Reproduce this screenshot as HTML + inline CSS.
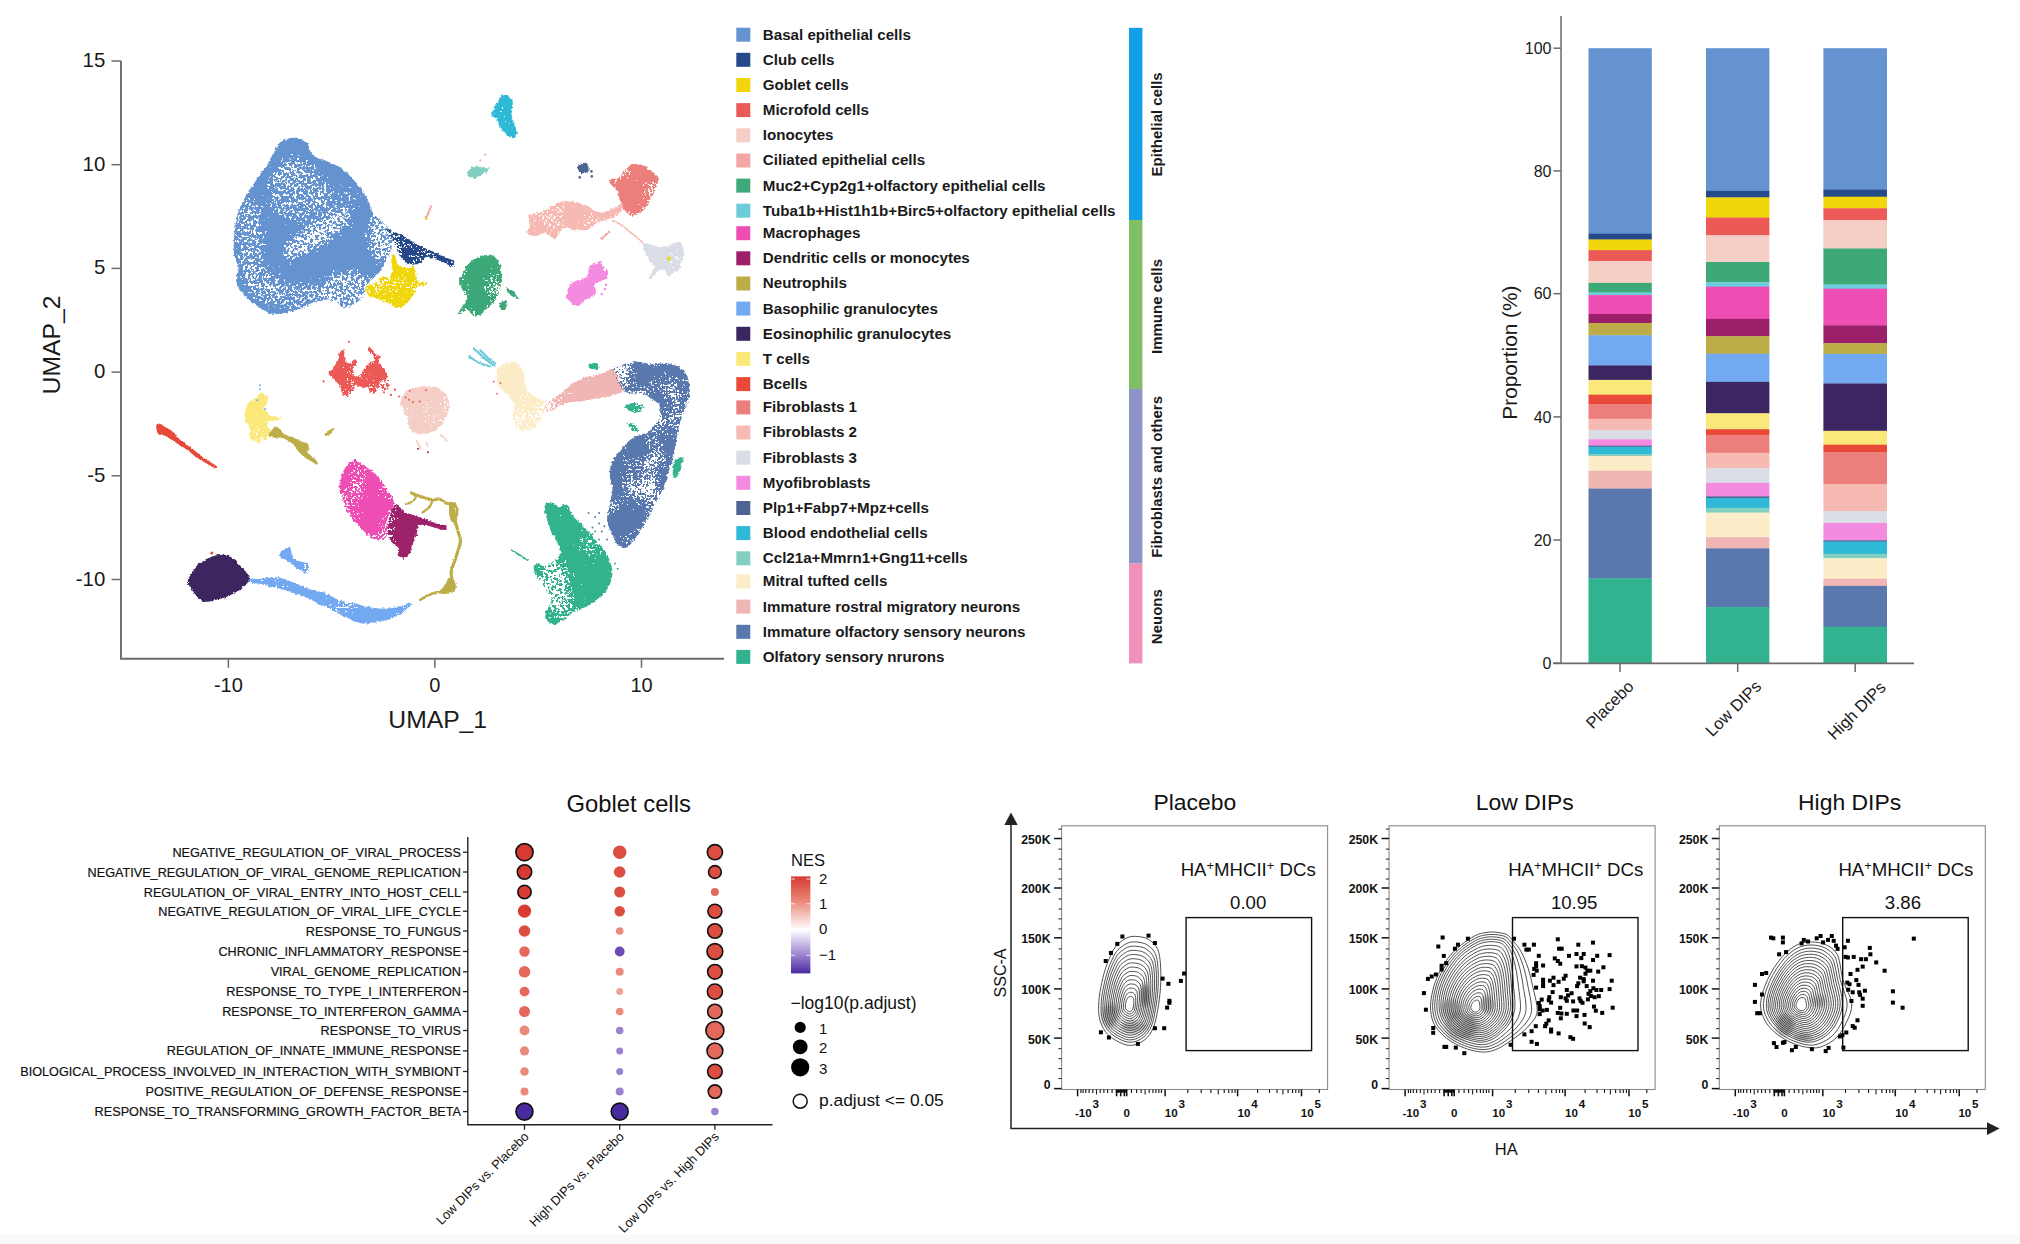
<!DOCTYPE html>
<html><head><meta charset="utf-8"><title>Figure</title>
<style>html,body{margin:0;padding:0;background:#fff}svg{display:block}text{font-family:"Liberation Sans",Arial,Helvetica,sans-serif}</style>
</head><body>
<svg width="2020" height="1244" viewBox="0 0 2020 1244">
<rect width="2020" height="1244" fill="#fff"/>
<rect y="1234" width="2020" height="10" fill="#f9f9f9"/>
<defs>
<filter id="rough" x="-20%" y="-20%" width="140%" height="140%"><feTurbulence type="fractalNoise" baseFrequency="0.35" numOctaves="2" seed="3" result="n"/><feDisplacementMap in="SourceGraphic" in2="n" scale="4" xChannelSelector="R" yChannelSelector="G"/></filter>
<filter id="rough2" x="-30%" y="-30%" width="160%" height="160%"><feTurbulence type="fractalNoise" baseFrequency="0.5" numOctaves="2" seed="5" result="n"/><feDisplacementMap in="SourceGraphic" in2="n" scale="2.5" xChannelSelector="R" yChannelSelector="G"/></filter>
<filter id="roughS" x="-10%" y="-10%" width="120%" height="120%"><feTurbulence type="fractalNoise" baseFrequency="0.35" numOctaves="2" seed="3" result="n"/><feDisplacementMap in="SourceGraphic" in2="n" scale="4" xChannelSelector="R" yChannelSelector="G" result="d"/><feTurbulence type="fractalNoise" baseFrequency="0.45" numOctaves="2" seed="11" result="n1"/><feTurbulence type="fractalNoise" baseFrequency="0.03" numOctaves="2" seed="4" result="n2"/><feComposite in="n1" in2="n2" operator="arithmetic" k1="1" k2="0" k3="0" k4="0" result="p"/><feColorMatrix in="p" type="matrix" values="0 0 0 0 0  0 0 0 0 0  0 0 0 0 0  60 0 0 0 -19.6" result="holes"/><feComposite in="d" in2="holes" operator="out"/></filter>
<filter id="roughH" x="-10%" y="-10%" width="120%" height="120%"><feTurbulence type="fractalNoise" baseFrequency="0.35" numOctaves="2" seed="3" result="n"/><feDisplacementMap in="SourceGraphic" in2="n" scale="4" xChannelSelector="R" yChannelSelector="G" result="d"/><feTurbulence type="fractalNoise" baseFrequency="0.45" numOctaves="2" seed="21" result="n1"/><feTurbulence type="fractalNoise" baseFrequency="0.03" numOctaves="2" seed="24" result="n2"/><feComposite in="n1" in2="n2" operator="arithmetic" k1="1" k2="0" k3="0" k4="0" result="p"/><feColorMatrix in="p" type="matrix" values="0 0 0 0 0  0 0 0 0 0  0 0 0 0 0  60 0 0 0 -15.5" result="holes"/><feComposite in="d" in2="holes" operator="out"/></filter>
<filter id="roughT" x="-10%" y="-10%" width="120%" height="120%"><feTurbulence type="fractalNoise" baseFrequency="0.35" numOctaves="2" seed="3" result="n"/><feDisplacementMap in="SourceGraphic" in2="n" scale="4" xChannelSelector="R" yChannelSelector="G" result="d"/><feTurbulence type="fractalNoise" baseFrequency="0.45" numOctaves="2" seed="31" result="n1"/><feTurbulence type="fractalNoise" baseFrequency="0.03" numOctaves="2" seed="34" result="n2"/><feComposite in="n1" in2="n2" operator="arithmetic" k1="1" k2="0" k3="0" k4="0" result="p"/><feColorMatrix in="p" type="matrix" values="0 0 0 0 0  0 0 0 0 0  0 0 0 0 0  60 0 0 0 -22.5" result="holes"/><feComposite in="d" in2="holes" operator="out"/></filter>
<filter id="speck" x="-20%" y="-20%" width="140%" height="140%" filterUnits="objectBoundingBox"><feGaussianBlur in="SourceAlpha" stdDeviation="5" result="b"/><feTurbulence type="fractalNoise" baseFrequency="0.37" numOctaves="3" seed="8" result="n1"/><feComposite in="n1" in2="b" operator="arithmetic" k1="1" k2="0" k3="0" k4="0" result="p"/><feColorMatrix in="p" type="matrix" values="0 0 0 0 0  0 0 0 0 0  0 0 0 0 0  0 0 0 40 -17.5"/></filter>
<mask id="mBasal" maskUnits="userSpaceOnUse" x="220" y="120" width="200" height="210"><rect x="220" y="120" width="200" height="210" fill="#fff"/><g filter="url(#speck)" fill="#000">
<rect x="225" y="125" width="190" height="200" opacity="0.5"/>
<ellipse cx="316" cy="235" rx="42" ry="12" transform="rotate(-33 316 235)" opacity="0.92"/>
<ellipse cx="296" cy="190" rx="30" ry="34" opacity="0.54"/>
<ellipse cx="287" cy="178" rx="12" ry="12" opacity="0.4"/>
<ellipse cx="250" cy="240" rx="15" ry="44" opacity="0.62"/>
<ellipse cx="348" cy="290" rx="28" ry="20" opacity="0.72"/>
<ellipse cx="298" cy="296" rx="40" ry="14" opacity="0.58"/>
<ellipse cx="382" cy="236" rx="15" ry="28" opacity="0.85"/>
<ellipse cx="262" cy="283" rx="20" ry="16" opacity="0.55"/>
<ellipse cx="335" cy="200" rx="26" ry="16" opacity="0.4"/>
</g></mask>
<mask id="mOsn" maskUnits="userSpaceOnUse" x="520" y="490" width="110" height="150"><rect x="520" y="490" width="110" height="150" fill="#fff"/><g filter="url(#speck)" fill="#000">
<rect x="525" y="495" width="100" height="140" opacity="0.55"/>
<ellipse cx="553" cy="586" rx="17" ry="27" opacity="0.95"/>
<ellipse cx="560" cy="600" rx="12" ry="16" opacity="0.6"/>
<ellipse cx="590" cy="545" rx="10" ry="14" opacity="0.5"/>
<ellipse cx="575" cy="615" rx="18" ry="8" opacity="0.5"/>
</g></mask>
<filter id="blur2"><feGaussianBlur stdDeviation="2.2"/></filter>
<linearGradient id="nes" x1="0" y1="0" x2="0" y2="1"><stop offset="0" stop-color="#d73a31"/><stop offset="0.25" stop-color="#ea8777"/><stop offset="0.55" stop-color="#ffffff"/><stop offset="0.78" stop-color="#a892d6"/><stop offset="1" stop-color="#4a2aa0"/></linearGradient>
</defs>
<path d="M121.0,61 V658.8 H724" fill="none" stroke="#6b6b6b" stroke-width="1.9"/>
<line x1="111.5" x2="121.0" y1="61" y2="61" stroke="#6b6b6b" stroke-width="1.5"/>
<text x="105.3" y="67.0" text-anchor="end" font-size="20.4" fill="#1a1a1a">15</text>
<line x1="111.5" x2="121.0" y1="164.7" y2="164.7" stroke="#6b6b6b" stroke-width="1.5"/>
<text x="105.3" y="170.7" text-anchor="end" font-size="20.4" fill="#1a1a1a">10</text>
<line x1="111.5" x2="121.0" y1="268.4" y2="268.4" stroke="#6b6b6b" stroke-width="1.5"/>
<text x="105.3" y="274.4" text-anchor="end" font-size="20.4" fill="#1a1a1a">5</text>
<line x1="111.5" x2="121.0" y1="372.1" y2="372.1" stroke="#6b6b6b" stroke-width="1.5"/>
<text x="105.3" y="378.1" text-anchor="end" font-size="20.4" fill="#1a1a1a">0</text>
<line x1="111.5" x2="121.0" y1="475.8" y2="475.8" stroke="#6b6b6b" stroke-width="1.5"/>
<text x="105.3" y="481.8" text-anchor="end" font-size="20.4" fill="#1a1a1a">-5</text>
<line x1="111.5" x2="121.0" y1="579.5" y2="579.5" stroke="#6b6b6b" stroke-width="1.5"/>
<text x="105.3" y="585.5" text-anchor="end" font-size="20.4" fill="#1a1a1a">-10</text>
<line x1="228.4" x2="228.4" y1="658.8" y2="667.8" stroke="#6b6b6b" stroke-width="1.5"/>
<text x="228.4" y="692" text-anchor="middle" font-size="20" fill="#1a1a1a">-10</text>
<line x1="434.8" x2="434.8" y1="658.8" y2="667.8" stroke="#6b6b6b" stroke-width="1.5"/>
<text x="434.8" y="692" text-anchor="middle" font-size="20" fill="#1a1a1a">0</text>
<line x1="641.5" x2="641.5" y1="658.8" y2="667.8" stroke="#6b6b6b" stroke-width="1.5"/>
<text x="641.5" y="692" text-anchor="middle" font-size="20" fill="#1a1a1a">10</text>
<text x="437.7" y="728" text-anchor="middle" font-size="24.7" fill="#1a1a1a">UMAP_1</text>
<text transform="translate(60.2,345) rotate(-90)" text-anchor="middle" font-size="24.7" fill="#1a1a1a">UMAP_2</text>
<g><path d="M280.1,142.9C283.1,140.8 288.7,138.0 293.0,137.8C297.2,137.5 302.4,138.6 305.8,141.6C309.2,144.6 310.1,152.6 313.5,155.8C317.0,159.0 321.7,158.8 326.4,160.9C331.1,163.1 336.7,164.8 341.8,168.6C347.0,172.5 353.0,178.9 357.3,184.1C361.6,189.2 365.0,194.8 367.6,199.5C370.1,204.2 370.1,208.5 372.7,212.4C375.3,216.2 379.6,218.8 383.0,222.7C386.4,226.5 392.0,230.8 393.3,235.5C394.6,240.2 392.4,245.8 390.7,251.0C389.0,256.1 385.1,262.5 383.0,266.4C380.9,270.3 380.4,271.1 377.8,274.1C375.3,277.1 370.1,280.5 367.6,284.4C365.0,288.3 365.8,293.4 362.4,297.3C359.0,301.1 352.1,307.1 347.0,307.6C341.8,308.0 336.7,300.7 331.5,299.8C326.4,299.0 322.1,300.7 316.1,302.4C310.1,304.1 302.4,308.2 295.5,310.1C288.7,312.1 280.9,314.4 274.9,314.0C268.9,313.6 264.7,310.8 259.5,307.6C254.4,304.3 247.9,299.0 244.1,294.7C240.2,290.4 237.4,286.5 236.4,281.8C235.3,277.1 238.1,271.5 237.6,266.4C237.2,261.3 234.0,258.7 233.8,251.0C233.6,243.2 234.2,229.5 236.4,220.1C238.5,210.7 241.9,202.9 246.6,194.4C251.4,185.8 259.9,175.9 264.7,168.6C269.4,161.3 272.4,154.9 274.9,150.6C277.5,146.3 277.1,145.1 280.1,142.9Z" fill="#6593d0" filter="url(#rough)" mask="url(#mBasal)"/>
<path d="M386.0,228.7C386.3,227.4 391.2,230.4 394.3,231.8C397.5,233.2 401.3,235.1 404.8,237.0C408.3,238.9 411.7,241.4 415.2,243.3C418.7,245.2 422.2,246.9 425.7,248.5C429.2,250.1 433.0,251.3 436.1,252.7C439.3,254.1 441.5,255.5 444.5,256.9C447.4,258.3 452.4,259.4 453.9,261.0C455.4,262.7 454.9,266.4 453.4,266.8C451.8,267.1 447.7,264.5 444.5,263.1C441.3,261.7 437.2,259.4 434.0,258.4C430.9,257.5 427.9,256.6 425.7,257.4C423.4,258.2 422.5,261.9 420.5,263.1C418.4,264.4 415.4,264.7 413.1,264.7C410.9,264.7 408.8,264.3 406.9,263.1C405.0,262.0 403.2,260.0 401.6,257.9C400.1,255.8 399.0,253.7 397.5,250.6C395.9,247.5 394.2,242.8 392.2,239.1C390.3,235.4 385.6,229.9 386.0,228.7Z" fill="#254a8a" filter="url(#roughS)" />
<path d="M394.3,254.8C395.5,255.5 396.4,263.1 398.5,265.2C400.6,267.3 404.4,267.1 406.9,267.3C409.3,267.5 411.6,265.2 413.1,266.3C414.7,267.3 415.6,271.1 416.3,273.6C417.0,276.0 415.6,279.5 417.3,280.9C419.1,282.3 425.3,281.2 426.7,281.9C428.1,282.6 427.2,284.2 425.7,285.1C424.1,285.9 419.4,285.4 417.3,287.2C415.2,288.9 415.2,292.6 413.1,295.5C411.0,298.5 407.6,303.0 404.8,304.9C402.0,306.8 399.4,307.4 396.4,307.0C393.5,306.7 390.3,304.2 387.0,302.8C383.7,301.4 379.9,300.1 376.6,298.7C373.3,297.3 368.9,296.4 367.2,294.5C365.4,292.6 364.9,289.3 366.1,287.2C367.3,285.1 371.9,283.7 374.5,281.9C377.1,280.2 379.4,277.4 381.8,276.7C384.2,276.0 387.4,279.0 389.1,277.8C390.8,276.5 391.9,272.2 392.2,269.4C392.6,266.6 390.8,263.5 391.2,261.0C391.5,258.6 393.1,254.1 394.3,254.8Z" fill="#f0d60a" filter="url(#roughT)" />
<path d="M504.4,95.1C506.2,94.6 508.0,95.7 509.4,97.1C510.8,98.4 512.5,100.3 512.8,103.1C513.2,106.0 511.2,110.6 511.4,114.2C511.7,117.7 513.5,121.0 514.4,124.2C515.3,127.4 516.8,131.0 516.8,133.2C516.8,135.5 515.7,137.3 514.4,137.9C513.2,138.4 511.3,137.8 509.4,136.7C507.6,135.6 505.1,132.8 503.4,131.2C501.7,129.7 500.4,129.1 499.4,127.2C498.4,125.4 498.7,122.2 497.4,120.2C496.0,118.2 491.8,117.2 491.3,115.2C490.8,113.2 493.2,110.6 494.3,108.1C495.5,105.6 496.7,102.3 498.4,100.1C500.0,97.9 502.5,95.6 504.4,95.1Z" fill="#2fb9d6" filter="url(#roughT)" />
<path d="M467.2,174.4C467.0,172.9 468.7,169.9 470.2,168.4C471.7,166.9 474.2,165.6 476.3,165.4C478.3,165.2 480.3,167.1 482.3,167.4C484.2,167.7 487.1,166.7 487.9,167.4C488.7,168.1 488.2,170.2 487.3,171.4C486.4,172.6 484.0,173.4 482.3,174.4C480.6,175.4 479.1,176.9 477.3,177.4C475.4,178.0 472.9,178.4 471.2,177.9C469.6,177.3 467.4,176.0 467.2,174.4Z" fill="#82cfc1" filter="url(#rough)" />
<path d="M577.7,166.4C578.1,165.2 579.4,165.0 580.7,164.4C582.1,163.8 584.5,162.4 585.8,162.8C587.0,163.1 588.0,165.0 588.4,166.4C588.7,167.8 588.7,170.2 587.8,171.4C586.8,172.6 584.3,173.4 582.7,173.4C581.2,173.4 579.6,172.6 578.7,171.4C577.9,170.2 577.4,167.6 577.7,166.4Z" fill="#4d6393" filter="url(#rough)" />
<circle cx="579.7" cy="177.4" r="1.3" fill="#4d6393"/>
<circle cx="591.8" cy="176.4" r="1.3" fill="#4d6393"/>
<circle cx="591.4" cy="171.4" r="1.3" fill="#4d6393"/>
<path d="M608.9,180.5C609.4,179.1 613.9,179.5 615.9,178.5C617.9,177.4 618.7,176.4 620.9,174.4C623.1,172.4 626.4,168.1 629.0,166.4C631.5,164.7 633.3,164.0 636.0,164.0C638.7,164.0 642.0,164.8 645.0,166.4C648.0,168.0 651.8,171.4 654.1,173.4C656.4,175.4 658.4,175.9 658.7,178.5C659.0,181.0 657.4,185.2 656.1,188.5C654.8,191.8 652.6,195.5 651.1,198.5C649.6,201.6 649.1,204.1 647.0,206.6C645.0,209.1 641.7,212.1 639.0,213.6C636.3,215.1 633.3,216.1 631.0,215.6C628.6,215.1 626.6,212.8 624.9,210.6C623.3,208.4 622.1,205.1 620.9,202.6C619.8,200.1 618.6,197.7 617.9,195.5C617.2,193.4 617.7,191.0 616.9,189.5C616.1,188.0 614.2,188.0 612.9,186.5C611.5,185.0 608.4,181.8 608.9,180.5Z" fill="#ec7f7c" filter="url(#roughT)" />
<path d="M528.5,216.6C529.0,215.5 530.5,214.5 532.5,213.6C534.5,212.8 537.9,212.4 540.6,211.6C543.2,210.8 545.9,209.9 548.6,208.6C551.3,207.3 553.9,204.8 556.6,203.6C559.3,202.3 562.0,201.5 564.7,201.2C567.3,200.8 570.0,201.2 572.7,201.6C575.4,202.0 578.1,202.7 580.7,203.6C583.4,204.4 586.4,205.4 588.8,206.6C591.1,207.8 592.8,209.6 594.8,210.6C596.8,211.6 598.5,212.6 600.8,212.6C603.2,212.6 606.2,211.6 608.9,210.6C611.5,209.6 614.9,207.8 616.9,206.6C618.9,205.4 619.9,203.2 620.9,203.6C621.9,203.9 623.3,206.9 622.9,208.6C622.6,210.3 620.6,212.1 618.9,213.6C617.2,215.1 615.2,216.5 612.9,217.6C610.5,218.8 607.5,219.6 604.9,220.6C602.2,221.7 599.2,222.5 596.8,223.7C594.5,224.8 593.5,226.6 590.8,227.7C588.1,228.8 583.8,230.0 580.7,230.3C577.7,230.6 575.0,230.1 572.7,229.7C570.4,229.3 568.7,227.5 566.7,227.7C564.7,227.8 562.0,229.4 560.6,230.7C559.3,232.0 560.0,234.4 558.6,235.7C557.3,237.1 554.3,238.9 552.6,238.7C550.9,238.6 549.9,235.7 548.6,234.7C547.3,233.7 546.6,232.5 544.6,232.7C542.6,232.9 539.2,235.4 536.5,235.7C533.9,236.1 530.0,235.5 528.5,234.7C527.0,233.9 527.2,232.2 527.5,230.7C527.8,229.2 530.2,227.3 530.5,225.7C530.8,224.0 529.8,222.2 529.5,220.6C529.2,219.1 528.0,217.8 528.5,216.6Z" fill="#f7bab3" filter="url(#roughT)" />
<path d="M612.9,220.6C614.2,221.3 617.9,222.7 620.9,224.7C623.9,226.7 627.3,229.7 631.0,232.7C634.7,235.7 641.0,241.1 643.0,242.7" fill="none" stroke="#f7bab3" stroke-width="1.6" stroke-linecap="round" stroke-linejoin="round" filter="url(#rough2)"/>
<path d="M601.8,238.7 L608.9,231.7" fill="none" stroke="#f4a6a6" stroke-width="2.2" stroke-linecap="round" stroke-linejoin="round" filter="url(#rough2)"/>
<path d="M643.0,243.8C643.9,242.4 648.4,244.3 651.1,244.8C653.7,245.3 656.1,246.6 659.1,246.8C662.1,246.9 666.5,246.6 669.1,245.8C671.8,244.9 673.2,242.2 675.2,241.7C677.2,241.2 679.8,241.2 681.2,242.7C682.6,244.3 683.4,247.8 683.6,250.8C683.8,253.8 682.9,257.8 682.2,260.8C681.5,263.8 680.7,266.9 679.2,268.9C677.7,270.9 674.8,271.7 673.2,272.9C671.5,274.1 670.7,276.4 669.1,275.9C667.6,275.4 666.0,270.7 664.1,269.9C662.3,269.0 659.9,269.7 658.1,270.9C656.3,272.1 654.6,275.6 653.1,276.9C651.6,278.2 649.4,279.6 649.1,278.9C648.7,278.2 650.1,274.9 651.1,272.9C652.1,270.9 655.4,268.9 655.1,266.9C654.7,264.9 650.6,263.2 649.1,260.8C647.5,258.5 647.0,255.6 646.0,252.8C645.0,249.9 642.2,245.1 643.0,243.8Z" fill="#dadde6" filter="url(#roughT)" />
<rect x="667.5" y="256.4" width="3" height="4" fill="#f0d60a"/>
<path d="M566.7,297.0C566.5,294.7 567.7,289.5 568.7,287.0C569.7,284.4 570.7,283.1 572.7,281.9C574.7,280.8 578.2,280.9 580.7,279.9C583.3,278.9 586.4,278.1 587.8,275.9C589.1,273.7 587.6,268.9 588.8,266.9C589.9,264.9 592.8,264.9 594.8,263.8C596.8,262.8 599.5,260.3 600.8,260.8C602.2,261.3 601.7,265.2 602.8,266.9C604.0,268.5 607.2,269.0 607.9,270.9C608.5,272.7 608.0,276.2 606.9,277.9C605.7,279.6 602.8,279.8 600.8,280.9C598.8,282.1 595.6,282.9 594.8,284.9C594.0,287.0 596.5,291.0 595.8,293.0C595.1,295.0 592.6,295.8 590.8,297.0C588.9,298.2 586.8,298.5 584.8,300.0C582.7,301.5 580.4,305.0 578.7,306.0C577.1,307.0 576.2,306.9 574.7,306.0C573.2,305.2 571.0,302.5 569.7,301.0C568.3,299.5 566.8,299.3 566.7,297.0Z" fill="#f58be0" filter="url(#roughT)" />
<circle cx="604.9" cy="289.0" r="1.2" fill="#f58be0"/>
<circle cx="601.8" cy="294.0" r="1.2" fill="#f58be0"/>
<circle cx="605.9" cy="284.9" r="1.2" fill="#f58be0"/>
<path d="M458.2,314.1C457.8,313.1 461.7,307.5 463.2,305.0C464.7,302.5 467.0,301.0 467.2,299.0C467.4,297.0 465.4,295.3 464.2,293.0C463.0,290.6 461.0,287.3 460.2,284.9C459.3,282.6 458.7,280.9 459.2,278.9C459.7,276.9 461.9,275.2 463.2,272.9C464.5,270.5 465.5,267.0 467.2,264.9C468.9,262.7 471.1,261.2 473.2,259.8C475.4,258.5 477.4,257.7 480.3,256.8C483.1,256.0 487.6,254.5 490.3,254.8C493.0,255.1 494.7,256.8 496.4,258.8C498.0,260.8 499.5,263.8 500.4,266.9C501.2,269.9 501.4,273.6 501.4,276.9C501.4,280.3 501.0,283.8 500.4,287.0C499.7,290.1 498.5,293.3 497.4,296.0C496.2,298.7 495.2,300.8 493.3,303.0C491.5,305.2 488.5,307.0 486.3,309.1C484.1,311.1 482.5,313.9 480.3,315.1C478.1,316.3 475.1,316.8 473.2,316.1C471.4,315.4 470.6,311.9 469.2,311.1C467.9,310.2 467.0,310.6 465.2,311.1C463.4,311.6 458.5,315.1 458.2,314.1Z" fill="#3da878" filter="url(#roughT)" />
<path d="M506.4,288.0C506.9,287.5 509.9,289.0 511.4,290.0C512.9,291.0 514.3,292.5 515.4,294.0C516.5,295.5 518.4,298.5 518.1,299.0C517.7,299.5 515.0,298.0 513.4,297.0C511.8,296.0 509.6,294.5 508.4,293.0C507.2,291.5 505.9,288.5 506.4,288.0Z" fill="#3da878" filter="url(#rough)" />
<path d="M499.4,303.0C500.2,301.9 504.1,300.7 505.4,301.0C506.7,301.4 507.6,303.5 507.4,305.0C507.2,306.5 505.6,309.6 504.4,310.1C503.2,310.6 501.2,309.2 500.4,308.0C499.5,306.9 498.5,304.2 499.4,303.0Z" fill="#3da878" filter="url(#rough)" />
<path d="M426.0,218.6 L431.1,206.2" fill="none" stroke="#f4a6a6" stroke-width="2.0" stroke-linecap="round" stroke-linejoin="round" filter="url(#rough2)"/>
<circle cx="426.0" cy="218.6" r="1.3" fill="#f0d60a"/>
<circle cx="480.3" cy="160.4" r="1.1" fill="#f4a6a6"/>
<circle cx="485.3" cy="154.7" r="1.1" fill="#f4a6a6"/>
<path d="M156.2,425.9C156.4,424.2 157.7,423.2 159.2,423.4C160.7,423.5 162.8,425.5 165.1,426.9C167.5,428.3 170.8,429.9 173.1,431.9C175.4,433.9 176.7,436.7 179.0,438.8C181.3,441.0 184.3,442.8 186.9,444.8C189.6,446.7 191.9,448.4 194.9,450.7C197.8,453.0 201.1,456.0 204.8,458.6C208.4,461.2 215.0,464.6 216.6,466.1C218.3,467.7 216.3,468.5 214.7,468.1C213.0,467.7 209.7,465.3 206.7,463.6C203.8,461.8 200.1,459.9 196.8,457.6C193.5,455.3 189.9,451.8 186.9,449.7C184.0,447.6 181.3,446.2 179.0,444.8C176.7,443.3 175.4,442.3 173.1,440.8C170.8,439.3 167.6,437.0 165.1,435.8C162.7,434.7 159.7,435.5 158.2,433.9C156.7,432.2 156.1,427.7 156.2,425.9Z" fill="#e94a37" filter="url(#rough2)" />
<path d="M244.4,417.0C244.4,414.4 245.3,409.8 246.3,407.1C247.3,404.5 248.6,402.7 250.3,401.2C251.9,399.7 254.8,399.5 256.2,398.2C257.7,396.9 257.7,393.9 259.2,393.3C260.7,392.6 263.7,393.3 265.1,394.3C266.6,395.2 268.0,397.4 268.1,399.2C268.3,401.0 266.8,403.7 266.1,405.1C265.5,406.6 263.7,406.5 264.2,408.1C264.7,409.8 267.3,413.6 269.1,415.0C270.9,416.5 272.9,416.6 275.0,417.0C277.2,417.4 281.5,416.9 282.0,417.4C282.5,417.9 280.0,419.4 278.0,420.0C276.0,420.6 271.9,420.2 270.1,421.0C268.3,421.8 267.1,423.3 267.1,425.0C267.1,426.6 269.9,428.9 270.1,430.9C270.3,432.9 269.1,435.2 268.1,436.8C267.1,438.5 265.8,439.8 264.2,440.8C262.5,441.8 260.2,442.8 258.2,442.8C256.2,442.8 253.9,442.1 252.3,440.8C250.6,439.5 248.6,436.8 248.3,434.9C248.0,432.9 250.6,430.9 250.3,428.9C250.0,426.9 247.3,425.0 246.3,423.0C245.3,421.0 244.4,419.7 244.4,417.0Z" fill="#fbe87a" filter="url(#roughT)" />
<path d="M269.1,433.9C269.9,432.2 273.2,427.8 275.0,426.9C276.9,426.1 278.5,427.8 280.0,428.9C281.5,430.1 282.0,432.5 284.0,433.9C285.9,435.2 289.2,435.7 291.9,436.8C294.5,438.0 297.2,439.6 299.8,440.8C302.4,441.9 306.2,442.4 307.7,443.8C309.2,445.1 308.7,447.2 308.7,448.7C308.7,450.2 306.9,451.2 307.7,452.7C308.5,454.2 312.0,456.0 313.7,457.6C315.3,459.3 317.1,461.4 317.6,462.6C318.1,463.7 318.0,464.9 316.6,464.6C315.3,464.2 311.8,461.9 309.7,460.6C307.6,459.3 305.7,458.3 303.8,456.6C301.8,455.0 299.5,452.7 297.8,450.7C296.2,448.7 295.5,446.4 293.9,444.8C292.2,443.1 289.9,441.9 287.9,440.8C285.9,439.6 284.0,438.3 282.0,437.8C280.0,437.3 278.0,438.0 276.0,437.8C274.1,437.7 271.3,437.5 270.1,436.8C268.9,436.2 268.3,435.5 269.1,433.9Z" fill="#bdad48" filter="url(#rough2)" />
<path d="M324.6,433.9C325.0,432.9 327.9,430.8 329.5,429.9C331.2,429.0 334.1,428.0 334.5,428.5C334.8,429.0 332.8,431.7 331.5,432.9C330.2,434.1 327.7,435.7 326.5,435.8C325.4,436.0 324.1,434.9 324.6,433.9Z" fill="#bdad48" filter="url(#rough2)" />
<path d="M328.5,371.5C329.0,370.0 332.0,369.5 333.5,367.5C335.0,365.5 336.3,362.2 337.4,359.6C338.6,357.0 339.2,353.2 340.4,351.7C341.6,350.2 343.7,349.7 344.4,350.7C345.0,351.7 343.5,355.5 344.4,357.6C345.2,359.8 347.7,363.2 349.3,363.6C351.0,363.9 352.9,359.8 354.3,359.6C355.6,359.4 357.4,360.9 357.2,362.6C357.1,364.2 353.8,367.0 353.3,369.5C352.8,372.0 353.9,374.8 354.3,377.4C354.6,380.1 355.7,382.7 355.2,385.3C354.8,388.0 352.6,391.3 351.3,393.3C350.0,395.2 348.8,397.2 347.3,397.2C345.8,397.2 343.7,395.2 342.4,393.3C341.1,391.3 340.7,387.7 339.4,385.3C338.1,383.0 335.9,380.9 334.5,379.4C333.0,377.9 331.5,377.8 330.5,376.4C329.5,375.1 328.0,373.0 328.5,371.5Z" fill="#ec5a58" filter="url(#roughS)" />
<path d="M361.2,373.5C362.5,371.5 363.8,369.3 365.1,367.5C366.5,365.7 367.5,363.7 369.1,362.6C370.8,361.4 374.4,361.7 375.0,360.6C375.7,359.4 374.2,357.5 373.1,355.6C371.9,353.8 368.6,351.0 368.1,349.7C367.6,348.4 368.6,346.9 370.1,347.7C371.6,348.5 375.4,353.3 377.0,354.7C378.7,356.0 379.7,354.3 380.0,355.6C380.3,357.0 378.5,360.6 379.0,362.6C379.5,364.6 381.7,365.7 383.0,367.5C384.3,369.3 386.4,371.5 386.9,373.5C387.4,375.4 386.9,378.1 385.9,379.4C385.0,380.7 382.3,380.1 381.0,381.4C379.7,382.7 379.0,385.3 378.0,387.3C377.0,389.3 376.4,392.4 375.0,393.3C373.7,394.1 371.4,393.6 370.1,392.3C368.8,391.0 368.6,386.8 367.1,385.3C365.6,383.9 362.8,384.4 361.2,383.4C359.5,382.4 357.2,381.1 357.2,379.4C357.2,377.8 359.9,375.4 361.2,373.5Z" fill="#ec5a58" filter="url(#roughS)" />
<circle cx="348.9" cy="341.8" r="1.1" fill="#ec5a58"/>
<circle cx="323.6" cy="381.4" r="1.1" fill="#ec5a58"/>
<circle cx="388.9" cy="385.3" r="1.1" fill="#ec5a58"/>
<circle cx="394.9" cy="389.7" r="1.1" fill="#ec5a58"/>
<circle cx="390.9" cy="394.9" r="1.1" fill="#ec5a58"/>
<circle cx="384.0" cy="392.3" r="1.1" fill="#ec5a58"/>
<circle cx="357.2" cy="383.4" r="1.1" fill="#ec5a58"/>
<circle cx="363.2" cy="387.3" r="1.1" fill="#ec5a58"/>
<path d="M400.8,399.2C401.3,395.9 404.1,393.3 406.7,391.3C409.4,389.3 413.0,388.2 416.6,387.3C420.3,386.5 424.9,386.2 428.5,386.3C432.1,386.5 435.4,386.8 438.4,388.3C441.4,389.8 444.5,392.4 446.3,395.2C448.2,398.1 449.1,401.8 449.3,405.1C449.5,408.4 448.5,411.7 447.3,415.0C446.2,418.3 444.5,422.3 442.4,425.0C440.2,427.6 437.4,429.4 434.5,430.9C431.5,432.4 427.9,433.5 424.6,433.9C421.3,434.2 417.3,433.9 414.7,432.9C412.0,431.9 409.9,430.2 408.7,427.9C407.6,425.6 408.5,421.8 407.7,419.0C406.9,416.2 404.9,414.4 403.8,411.1C402.6,407.8 400.3,402.5 400.8,399.2Z" fill="#f5cfc6" filter="url(#roughT)" />
<path d="M416.6,440.8 L420.6,448.7" fill="none" stroke="#f5cfc6" stroke-width="1.8" stroke-linecap="round" stroke-linejoin="round" filter="url(#rough2)"/>
<path d="M426.5,442.8 L428.5,446.7" fill="none" stroke="#f5cfc6" stroke-width="1.8" stroke-linecap="round" stroke-linejoin="round" filter="url(#rough2)"/>
<path d="M440.4,434.9 L447.3,440.8" fill="none" stroke="#f5cfc6" stroke-width="1.8" stroke-linecap="round" stroke-linejoin="round" filter="url(#rough2)"/>
<circle cx="418.0" cy="448.7" r="1.0" fill="#9c2069"/>
<circle cx="427.9" cy="452.3" r="1.0" fill="#9c2069"/>
<circle cx="259.8" cy="385.3" r="1.0" fill="#72a9f0"/>
<circle cx="259.8" cy="389.3" r="1.0" fill="#72a9f0"/>
<circle cx="257.2" cy="400.2" r="1.0" fill="#72a9f0"/>
<circle cx="265.1" cy="409.1" r="1.0" fill="#72a9f0"/>
<path d="M352.8,375.0C353.7,374.1 356.9,376.7 359.5,377.3C362.1,377.8 366.3,377.4 368.5,378.4C370.8,379.3 373.0,381.4 373.0,382.9C373.0,384.4 370.8,386.8 368.5,387.4C366.3,387.9 361.9,387.0 359.5,386.3C357.1,385.5 355.0,384.8 353.9,382.9C352.8,381.0 351.8,375.9 352.8,375.0Z" fill="#ec5a58" filter="url(#roughH)" />
<path d="M376.4,375.0C377.5,372.9 382.2,372.6 384.3,373.9C386.3,375.2 388.2,380.4 388.8,382.9C389.3,385.3 388.8,387.2 387.6,388.5C386.5,389.8 383.7,391.1 382.0,390.8C380.3,390.4 378.4,388.9 377.5,386.3C376.6,383.6 375.3,377.1 376.4,375.0Z" fill="#ec5a58" filter="url(#roughH)" />
<circle cx="383.1" cy="386.3" r="1.0" fill="#ec5a58"/>
<circle cx="387.6" cy="388.5" r="1.0" fill="#ec5a58"/>
<circle cx="391.0" cy="394.7" r="1.0" fill="#ec5a58"/>
<circle cx="394.9" cy="389.6" r="1.0" fill="#ec5a58"/>
<circle cx="398.9" cy="396.4" r="1.0" fill="#ec5a58"/>
<circle cx="405.6" cy="397.5" r="1.0" fill="#ec5a58"/>
<circle cx="409.0" cy="399.8" r="1.0" fill="#ec5a58"/>
<circle cx="412.9" cy="402.0" r="1.0" fill="#ec5a58"/>
<circle cx="419.7" cy="401.4" r="1.0" fill="#ec5a58"/>
<circle cx="409.6" cy="390.8" r="1.0" fill="#ec5a58"/>
<circle cx="425.9" cy="390.2" r="1.0" fill="#ec5a58"/>
<path d="M249.2,578.9C250.9,578.3 256.8,579.1 261.0,578.9C265.2,578.6 270.5,577.2 274.5,577.2C278.4,577.2 281.2,577.9 284.6,578.9C287.9,579.8 291.3,581.7 294.7,583.1C298.0,584.5 301.4,586.0 304.8,587.3C308.1,588.5 311.5,589.7 314.9,590.6C318.2,591.6 321.6,591.9 325.0,593.2C328.3,594.4 331.7,596.7 335.1,598.2C338.4,599.8 341.8,601.6 345.2,602.4C348.5,603.3 351.9,602.6 355.3,603.3C358.6,604.0 361.7,605.8 365.4,606.6C369.0,607.5 373.2,608.0 377.1,608.3C381.1,608.6 385.3,608.6 388.9,608.3C392.6,608.0 395.2,607.5 399.0,606.6C402.8,605.7 410.2,602.7 411.6,602.9C413.0,603.2 409.5,606.3 407.4,608.3C405.3,610.3 402.4,613.1 399.0,615.1C395.7,617.0 391.2,618.8 387.2,620.1C383.3,621.4 379.7,622.1 375.5,622.6C371.2,623.2 365.9,623.9 362.0,623.5C358.1,623.0 355.3,621.5 351.9,620.1C348.5,618.7 345.2,616.7 341.8,615.1C338.4,613.4 335.1,611.7 331.7,610.0C328.3,608.3 325.0,606.6 321.6,605.0C318.2,603.3 314.9,601.4 311.5,599.9C308.1,598.4 304.8,597.0 301.4,595.7C298.0,594.4 294.7,593.5 291.3,592.3C287.9,591.2 284.6,589.9 281.2,589.0C277.8,588.0 274.5,587.3 271.1,586.4C267.7,585.6 264.4,584.6 261.0,583.9C257.6,583.2 252.9,583.1 250.9,582.2C248.9,581.4 247.5,579.4 249.2,578.9Z" fill="#72a9f0" filter="url(#roughT)" />
<path d="M280.4,552.8C281.8,551.0 287.6,546.3 289.6,546.9C291.6,547.4 291.0,553.9 292.1,556.1C293.3,558.4 294.5,559.4 296.3,560.4C298.2,561.3 301.1,561.3 303.1,562.0C305.0,562.7 307.4,562.6 308.1,564.6C308.8,566.5 308.4,572.8 307.3,573.8C306.2,574.8 303.4,571.4 301.4,570.4C299.4,569.5 297.3,569.2 295.5,567.9C293.7,566.7 292.1,564.3 290.4,562.9C288.8,561.5 286.9,560.4 285.4,559.5C283.9,558.7 282.0,558.9 281.2,557.8C280.4,556.7 278.9,554.6 280.4,552.8Z" fill="#72a9f0" filter="url(#roughT)" />
<path d="M187.8,581.4C187.8,578.6 190.2,575.8 192.0,573.0C193.8,570.2 196.2,566.9 198.7,564.6C201.2,562.2 204.0,560.2 207.1,558.7C210.2,557.1 213.9,555.9 217.2,555.3C220.6,554.7 224.5,554.6 227.3,555.3C230.1,556.0 231.8,557.7 234.1,559.5C236.3,561.3 238.7,564.0 240.8,566.2C242.9,568.5 245.3,570.7 246.7,573.0C248.1,575.2 249.6,577.5 249.2,579.7C248.8,582.0 246.1,584.5 244.2,586.4C242.2,588.4 240.2,589.8 237.4,591.5C234.6,593.2 231.0,595.1 227.3,596.5C223.7,597.9 219.3,599.1 215.5,599.9C211.8,600.7 207.7,602.2 204.6,601.6C201.5,601.0 199.1,598.5 197.0,596.5C194.9,594.6 193.5,592.3 192.0,589.8C190.4,587.3 187.8,584.2 187.8,581.4Z" fill="#3c2661" filter="url(#rough)" />
<circle cx="211.8" cy="553.1" r="1.5" fill="#e94a37"/>
<path d="M339.3,488.8C339.0,485.4 340.0,482.2 340.9,478.7C341.9,475.2 343.0,470.9 345.2,467.8C347.3,464.7 350.8,460.8 353.6,460.2C356.4,459.6 358.9,462.6 362.0,464.4C365.1,466.2 368.7,468.2 372.1,471.1C375.5,474.1 379.4,478.6 382.2,482.1C385.0,485.6 387.0,488.8 388.9,492.2C390.9,495.5 393.7,498.9 394.0,502.3C394.2,505.6 391.7,509.6 390.6,512.4C389.5,515.2 387.7,516.3 387.2,519.1C386.8,521.9 388.4,526.1 388.1,529.2C387.8,532.3 387.1,535.8 385.6,537.6C384.0,539.5 381.3,540.3 378.8,540.2C376.3,540.0 373.2,538.6 370.4,536.8C367.6,535.0 364.8,531.9 362.0,529.2C359.2,526.5 356.1,523.9 353.6,520.8C351.0,517.7 348.7,514.3 346.8,510.7C345.0,507.0 343.9,502.6 342.6,498.9C341.4,495.3 339.5,492.2 339.3,488.8Z" fill="#ee4db4" filter="url(#roughT)" />
<path d="M390.6,512.4C391.9,509.0 394.2,504.8 395.7,504.0C397.1,503.1 397.3,505.9 399.0,507.3C400.7,508.7 402.9,511.0 405.7,512.4C408.6,513.8 412.8,514.6 415.8,515.7C418.9,516.9 420.9,517.8 424.3,519.1C427.6,520.4 432.4,522.2 436.0,523.3C439.7,524.4 444.7,524.7 446.1,525.8C447.5,527.0 446.4,529.8 444.5,530.1C442.5,530.3 437.7,528.4 434.4,527.5C431.0,526.7 426.9,525.3 424.3,525.0C421.6,524.7 419.6,524.3 418.4,525.8C417.1,527.4 417.7,531.2 416.7,534.3C415.7,537.3 413.7,541.0 412.5,544.4C411.2,547.7 410.5,552.1 409.1,554.5C407.7,556.8 405.7,558.4 404.1,558.7C402.4,558.9 400.1,558.0 399.0,556.1C397.9,554.3 398.5,550.0 397.3,547.7C396.2,545.5 393.8,544.6 392.3,542.7C390.7,540.7 388.8,539.0 388.1,535.9C387.4,532.9 387.7,528.1 388.1,524.2C388.5,520.2 389.3,515.7 390.6,512.4Z" fill="#9c2069" filter="url(#roughT)" />
<path d="M411.6,493.0C413.5,493.7 419.1,496.1 422.6,497.2C426.1,498.4 429.9,499.5 432.7,499.8C435.5,500.0 437.2,498.4 439.4,498.9C441.7,499.5 443.6,502.3 446.1,503.1C448.7,504.0 453.2,503.8 454.6,504.0" fill="none" stroke="#bdad48" stroke-width="3.0" stroke-linecap="round" stroke-linejoin="round" filter="url(#rough2)"/>
<path d="M454.6,504.0C455.0,505.1 456.9,507.9 457.1,510.7C457.2,513.5 455.3,517.4 455.4,520.8C455.5,524.2 457.1,527.5 457.9,530.9C458.8,534.3 460.5,537.6 460.5,541.0C460.5,544.4 458.9,547.7 457.9,551.1C456.9,554.5 455.7,557.8 454.6,561.2C453.4,564.6 451.6,568.2 451.2,571.3C450.8,574.4 451.9,578.3 452.0,579.7" fill="none" stroke="#bdad48" stroke-width="3.2" stroke-linecap="round" stroke-linejoin="round" filter="url(#rough2)"/>
<path d="M450.4,504.8 L453.7,519.1" fill="none" stroke="#bdad48" stroke-width="6.5" stroke-linecap="round" stroke-linejoin="round" filter="url(#rough2)"/>
<path d="M411.6,493.0C412.3,493.7 416.0,495.7 415.8,497.2C415.7,498.8 412.5,501.2 410.8,502.3C409.1,503.4 406.6,503.7 405.7,504.0" fill="none" stroke="#bdad48" stroke-width="2.2" stroke-linecap="round" stroke-linejoin="round" filter="url(#rough2)"/>
<path d="M432.7,499.8C432.1,501.0 431.0,505.2 429.3,507.3C427.6,509.4 423.7,511.5 422.6,512.4" fill="none" stroke="#bdad48" stroke-width="2.4" stroke-linecap="round" stroke-linejoin="round" filter="url(#rough2)"/>
<path d="M448.7,578.0C449.9,577.5 452.5,578.3 453.7,579.7C454.9,581.1 456.1,584.3 455.9,586.4C455.8,588.5 454.8,591.1 452.9,592.3C451.0,593.6 447.0,594.0 444.5,594.0C441.9,594.0 438.0,593.3 437.7,592.3C437.5,591.3 441.4,589.7 442.8,588.1C444.2,586.6 445.2,584.8 446.1,583.1C447.1,581.4 447.4,578.6 448.7,578.0Z" fill="#bdad48" filter="url(#rough2)" />
<path d="M444.5,592.3C443.1,592.3 438.9,591.8 436.0,592.3C433.2,592.9 430.3,594.4 427.6,595.7C425.0,597.0 421.3,599.2 420.1,599.9" fill="none" stroke="#bdad48" stroke-width="2.4" stroke-linecap="round" stroke-linejoin="round" filter="url(#rough2)"/>
<path d="M473.9,348.6C475.4,349.9 479.0,353.6 482.4,356.5C485.8,359.4 492.4,364.3 494.4,365.8" fill="none" stroke="#6ecbdb" stroke-width="2.4" stroke-linecap="round" stroke-linejoin="round" filter="url(#rough2)"/>
<path d="M469.2,356.5C470.9,357.6 476.2,361.5 479.8,363.1C483.3,364.8 488.6,366.0 490.4,366.6" fill="none" stroke="#6ecbdb" stroke-width="2.2" stroke-linecap="round" stroke-linejoin="round" filter="url(#rough2)"/>
<path d="M480.3,350.2C481.5,351.4 485.3,355.6 487.7,357.8C490.2,360.1 493.9,362.5 495.2,363.4" fill="none" stroke="#6ecbdb" stroke-width="2.2" stroke-linecap="round" stroke-linejoin="round" filter="url(#rough2)"/>
<path d="M497.0,369.8C498.6,367.1 503.0,364.3 506.3,363.1C509.6,362.0 514.0,361.6 516.9,363.1C519.8,364.7 522.2,369.1 523.5,372.4C524.9,375.7 524.0,379.7 524.9,383.0C525.7,386.4 526.8,389.9 528.8,392.3C530.8,394.7 534.1,396.1 536.8,397.6C539.4,399.2 543.2,399.8 544.7,401.6C546.3,403.4 546.5,405.6 546.1,408.2C545.6,410.9 543.9,414.4 542.1,417.5C540.3,420.6 538.3,424.6 535.5,426.8C532.6,429.0 528.0,430.5 524.9,430.8C521.8,431.0 518.9,430.3 516.9,428.1C514.9,425.9 513.4,421.3 512.9,417.5C512.5,413.8 514.9,409.1 514.3,405.6C513.6,402.0 511.4,399.2 508.9,396.3C506.5,393.4 501.7,391.2 499.7,388.3C497.7,385.5 497.5,382.2 497.0,379.1C496.6,376.0 495.5,372.4 497.0,369.8Z" fill="#fdecc8" filter="url(#roughT)" />
<path d="M544.7,406.9C545.2,404.9 548.5,402.7 551.4,400.3C554.2,397.8 558.4,395.2 562.0,392.3C565.5,389.4 568.2,385.7 572.6,383.0C577.0,380.4 583.2,378.2 588.5,376.4C593.8,374.6 600.2,373.5 604.4,372.4C608.6,371.3 611.0,368.0 613.7,369.8C616.3,371.5 618.8,379.5 620.3,383.0C621.9,386.6 624.7,388.8 623.0,391.0C621.2,393.2 613.7,395.2 609.7,396.3C605.7,397.4 602.6,397.0 599.1,397.6C595.6,398.3 592.0,399.6 588.5,400.3C585.0,400.9 581.4,401.2 577.9,401.6C574.4,402.0 570.8,402.0 567.3,402.9C563.8,403.8 559.8,405.4 556.7,406.9C553.6,408.4 550.7,412.2 548.7,412.2C546.7,412.2 544.3,408.9 544.7,406.9Z" fill="#f0b6b4" filter="url(#roughT)" />
<path d="M612.4,369.8C613.7,367.1 621.2,365.8 625.6,364.5C630.0,363.1 634.5,361.8 638.9,361.8C643.3,361.8 647.7,364.3 652.1,364.5C656.6,364.7 661.0,362.7 665.4,363.1C669.8,363.6 675.1,365.1 678.7,367.1C682.2,369.1 684.8,371.5 686.6,375.1C688.5,378.6 689.6,383.9 689.8,388.3C690.0,392.8 689.1,397.2 687.9,401.6C686.8,406.0 684.2,410.4 682.6,414.9C681.1,419.3 679.8,423.7 678.7,428.1C677.6,432.5 676.9,436.5 676.0,441.4C675.1,446.2 674.7,452.0 673.4,457.3C672.0,462.6 669.8,467.9 668.1,473.2C666.3,478.5 665.0,483.8 662.8,489.1C660.5,494.4 657.4,499.7 654.8,505.0C652.1,510.3 649.9,515.6 646.8,520.9C643.7,526.2 639.8,532.4 636.2,536.8C632.7,541.3 628.7,546.1 625.6,547.4C622.5,548.8 619.9,547.0 617.7,544.8C615.5,542.6 614.1,538.2 612.4,534.2C610.6,530.2 607.5,525.8 607.1,520.9C606.6,516.1 608.8,510.3 609.7,505.0C610.6,499.7 612.4,494.4 612.4,489.1C612.4,483.8 609.3,478.5 609.7,473.2C610.2,467.9 612.4,462.1 615.0,457.3C617.7,452.4 622.1,447.6 625.6,444.0C629.2,440.5 632.7,437.8 636.2,436.1C639.8,434.3 643.3,436.1 646.8,433.4C650.4,430.8 655.2,424.6 657.4,420.2C659.7,415.7 661.0,410.4 660.1,406.9C659.2,403.4 655.2,401.2 652.1,398.9C649.1,396.7 645.1,394.5 641.5,393.6C638.0,392.8 634.0,394.3 630.9,393.6C627.8,393.0 625.2,391.9 623.0,389.7C620.8,387.5 619.4,383.7 617.7,380.4C615.9,377.1 611.0,372.4 612.4,369.8Z" fill="#5878ae" filter="url(#roughS)" />
<path d="M625.6,405.6C626.7,404.5 630.7,402.9 633.6,402.9C636.5,402.9 641.5,404.3 642.9,405.6C644.2,406.9 643.1,409.8 641.5,410.9C640.0,412.0 636.0,412.4 633.6,412.2C631.2,412.0 628.3,410.7 627.0,409.6C625.6,408.4 624.5,406.7 625.6,405.6Z" fill="#30b38e" filter="url(#roughS)" />
<path d="M628.3,422.8C629.2,422.2 634.7,423.9 636.2,425.5C637.8,427.0 638.4,431.4 637.6,432.1C636.7,432.8 632.5,431.0 630.9,429.4C629.4,427.9 627.4,423.5 628.3,422.8Z" fill="#30b38e" filter="url(#roughS)" />
<path d="M672.8,463.9C674.2,460.3 681.4,456.2 682.6,457.3C683.8,458.4 681.3,466.9 680.0,470.5C678.7,474.2 675.9,480.1 674.7,479.0C673.5,477.9 671.5,467.5 672.8,463.9Z" fill="#30b38e" filter="url(#rough)" />
<path d="M588.5,364.5C589.4,363.4 594.7,362.5 596.5,363.1C598.2,363.8 600.0,367.3 599.1,368.5C598.2,369.6 592.9,370.4 591.2,369.8C589.4,369.1 587.6,365.6 588.5,364.5Z" fill="#30b38e" filter="url(#roughS)" />
<path d="M544.7,506.3C545.4,503.3 548.9,502.4 551.4,502.4C553.8,502.4 556.7,505.9 559.3,506.3C562.0,506.8 565.1,503.5 567.3,505.0C569.5,506.6 569.9,512.1 572.6,515.6C575.2,519.2 580.1,523.1 583.2,526.2C586.3,529.3 588.9,531.5 591.2,534.2C593.4,536.8 594.2,539.5 596.5,542.1C598.7,544.8 602.2,547.0 604.4,550.1C606.6,553.2 608.4,556.7 609.7,560.7C611.0,564.7 612.6,569.5 612.4,574.0C612.1,578.4 610.6,583.2 608.4,587.2C606.2,591.2 602.4,594.7 599.1,597.8C595.8,600.9 592.5,603.6 588.5,605.8C584.5,608.0 579.2,608.9 575.2,611.1C571.3,613.3 568.2,616.8 564.6,619.0C561.1,621.3 557.1,624.4 554.0,624.4C550.9,624.4 547.4,621.3 546.1,619.0C544.7,616.8 545.2,614.2 546.1,611.1C547.0,608.0 551.4,604.0 551.4,600.5C551.4,596.9 547.8,593.0 546.1,589.9C544.3,586.8 542.8,585.0 540.8,581.9C538.8,578.8 535.0,574.4 534.1,571.3C533.3,568.2 533.7,564.2 535.5,563.4C537.2,562.5 541.7,566.5 544.7,566.0C547.8,565.6 551.4,562.9 554.0,560.7C556.7,558.5 560.2,555.8 560.7,552.8C561.1,549.7 558.2,545.7 556.7,542.1C555.1,538.6 552.9,535.1 551.4,531.5C549.8,528.0 548.5,525.1 547.4,520.9C546.3,516.7 544.1,509.4 544.7,506.3Z" fill="#30b38e" filter="url(#rough)" mask="url(#mOsn)"/>
<path d="M511.6,550.1C512.9,550.9 516.9,553.2 519.6,554.9C522.2,556.6 526.2,559.3 527.5,560.2" fill="none" stroke="#30b38e" stroke-width="1.6" stroke-linecap="round" stroke-linejoin="round" filter="url(#rough2)"/>
<circle cx="588.5" cy="513.0" r="1.0" fill="#5878ae"/>
<circle cx="595.1" cy="517.0" r="1.0" fill="#5878ae"/>
<circle cx="599.1" cy="523.6" r="1.0" fill="#5878ae"/>
<circle cx="592.5" cy="527.6" r="1.0" fill="#5878ae"/>
<circle cx="601.8" cy="531.5" r="1.0" fill="#5878ae"/>
<circle cx="607.1" cy="539.5" r="1.0" fill="#5878ae"/>
<circle cx="599.1" cy="513.0" r="1.0" fill="#5878ae"/>
<circle cx="609.7" cy="515.6" r="1.0" fill="#5878ae"/>
<circle cx="604.4" cy="526.2" r="1.0" fill="#5878ae"/>
<circle cx="592.5" cy="534.2" r="1.0" fill="#30b38e"/>
<circle cx="599.1" cy="539.5" r="1.0" fill="#30b38e"/>
<circle cx="595.1" cy="531.5" r="1.0" fill="#30b38e"/>
<circle cx="588.5" cy="536.8" r="1.0" fill="#30b38e"/>
<circle cx="615.0" cy="563.4" r="1.0" fill="#30b38e"/>
<circle cx="617.7" cy="568.7" r="1.0" fill="#30b38e"/>
<circle cx="493.8" cy="381.7" r="0.9" fill="#ec5a58"/>
<circle cx="497.0" cy="393.6" r="0.9" fill="#ec5a58"/>
<circle cx="500.5" cy="383.0" r="0.9" fill="#ec5a58"/></g>
<rect x="736.3" y="27.7" width="14" height="14" fill="#6593d0"/>
<text x="762.8" y="39.6" font-size="15.15" font-weight="bold" fill="#1a1a1a">Basal epithelial cells</text>
<rect x="736.3" y="52.8" width="14" height="14" fill="#254a8a"/>
<text x="762.8" y="64.8" font-size="15.15" font-weight="bold" fill="#1a1a1a">Club cells</text>
<rect x="736.3" y="78.0" width="14" height="14" fill="#f0d60a"/>
<text x="762.8" y="89.9" font-size="15.15" font-weight="bold" fill="#1a1a1a">Goblet cells</text>
<rect x="736.3" y="103.1" width="14" height="14" fill="#ec5a58"/>
<text x="762.8" y="115.0" font-size="15.15" font-weight="bold" fill="#1a1a1a">Microfold cells</text>
<rect x="736.3" y="128.3" width="14" height="14" fill="#f5cfc6"/>
<text x="762.8" y="140.2" font-size="15.15" font-weight="bold" fill="#1a1a1a">Ionocytes</text>
<rect x="736.3" y="153.5" width="14" height="14" fill="#f4a6a6"/>
<text x="762.8" y="165.4" font-size="15.15" font-weight="bold" fill="#1a1a1a">Ciliated epithelial cells</text>
<rect x="736.3" y="178.6" width="14" height="14" fill="#3da878"/>
<text x="762.8" y="190.5" font-size="15.15" font-weight="bold" fill="#1a1a1a">Muc2+Cyp2g1+olfactory epithelial cells</text>
<rect x="736.3" y="203.7" width="14" height="14" fill="#6ecbdb"/>
<text x="762.8" y="215.6" font-size="15.15" font-weight="bold" fill="#1a1a1a">Tuba1b+Hist1h1b+Birc5+olfactory epithelial cells</text>
<rect x="736.3" y="226.2" width="14" height="14" fill="#ee4db4"/>
<text x="762.8" y="238.1" font-size="15.15" font-weight="bold" fill="#1a1a1a">Macrophages</text>
<rect x="736.3" y="251.3" width="14" height="14" fill="#9c2069"/>
<text x="762.8" y="263.2" font-size="15.15" font-weight="bold" fill="#1a1a1a">Dendritic cells or monocytes</text>
<rect x="736.3" y="276.5" width="14" height="14" fill="#bdad48"/>
<text x="762.8" y="288.4" font-size="15.15" font-weight="bold" fill="#1a1a1a">Neutrophils</text>
<rect x="736.3" y="301.6" width="14" height="14" fill="#72a9f0"/>
<text x="762.8" y="313.6" font-size="15.15" font-weight="bold" fill="#1a1a1a">Basophilic granulocytes</text>
<rect x="736.3" y="326.8" width="14" height="14" fill="#3c2661"/>
<text x="762.8" y="338.7" font-size="15.15" font-weight="bold" fill="#1a1a1a">Eosinophilic granulocytes</text>
<rect x="736.3" y="351.9" width="14" height="14" fill="#fbe87a"/>
<text x="762.8" y="363.9" font-size="15.15" font-weight="bold" fill="#1a1a1a">T cells</text>
<rect x="736.3" y="377.1" width="14" height="14" fill="#e94a37"/>
<text x="762.8" y="389.0" font-size="15.15" font-weight="bold" fill="#1a1a1a">Bcells</text>
<rect x="736.3" y="400.4" width="14" height="14" fill="#ec7f7c"/>
<text x="762.8" y="412.3" font-size="15.15" font-weight="bold" fill="#1a1a1a">Fibroblasts 1</text>
<rect x="736.3" y="425.5" width="14" height="14" fill="#f7bab3"/>
<text x="762.8" y="437.4" font-size="15.15" font-weight="bold" fill="#1a1a1a">Fibroblasts 2</text>
<rect x="736.3" y="450.7" width="14" height="14" fill="#dadde6"/>
<text x="762.8" y="462.6" font-size="15.15" font-weight="bold" fill="#1a1a1a">Fibroblasts 3</text>
<rect x="736.3" y="475.8" width="14" height="14" fill="#f58be0"/>
<text x="762.8" y="487.8" font-size="15.15" font-weight="bold" fill="#1a1a1a">Myofibroblasts</text>
<rect x="736.3" y="501.0" width="14" height="14" fill="#4d6393"/>
<text x="762.8" y="512.9" font-size="15.15" font-weight="bold" fill="#1a1a1a">Plp1+Fabp7+Mpz+cells</text>
<rect x="736.3" y="526.1" width="14" height="14" fill="#2fb9d6"/>
<text x="762.8" y="538.0" font-size="15.15" font-weight="bold" fill="#1a1a1a">Blood endothelial cells</text>
<rect x="736.3" y="551.3" width="14" height="14" fill="#82cfc1"/>
<text x="762.8" y="563.2" font-size="15.15" font-weight="bold" fill="#1a1a1a">Ccl21a+Mmrn1+Gng11+cells</text>
<rect x="736.3" y="574.5" width="14" height="14" fill="#fdecc8"/>
<text x="762.8" y="586.4" font-size="15.15" font-weight="bold" fill="#1a1a1a">Mitral tufted cells</text>
<rect x="736.3" y="599.6" width="14" height="14" fill="#f0b6b4"/>
<text x="762.8" y="611.5" font-size="15.15" font-weight="bold" fill="#1a1a1a">Immature rostral migratory neurons</text>
<rect x="736.3" y="624.8" width="14" height="14" fill="#5878ae"/>
<text x="762.8" y="636.7" font-size="15.15" font-weight="bold" fill="#1a1a1a">Immature olfactory sensory neurons</text>
<rect x="736.3" y="649.9" width="14" height="14" fill="#30b38e"/>
<text x="762.8" y="661.8" font-size="15.15" font-weight="bold" fill="#1a1a1a">Olfatory sensory nrurons</text>
<rect x="1129" y="27.8" width="13.4" height="192.2" fill="#139fe6"/>
<text transform="translate(1162,124.4) rotate(-90)" text-anchor="middle" font-size="15" font-weight="bold" fill="#1a1a1a">Epithelial cells</text>
<rect x="1129" y="220" width="13.4" height="169" fill="#7ec063"/>
<text transform="translate(1162,306.5) rotate(-90)" text-anchor="middle" font-size="15" font-weight="bold" fill="#1a1a1a">Immune cells</text>
<rect x="1129" y="389" width="13.4" height="174.60000000000002" fill="#8c93c9"/>
<text transform="translate(1162,476.8) rotate(-90)" text-anchor="middle" font-size="15" font-weight="bold" fill="#1a1a1a">Fibroblasts and others</text>
<rect x="1129" y="563.6" width="13.4" height="99.79999999999995" fill="#f092b8"/>
<text transform="translate(1162,616.7) rotate(-90)" text-anchor="middle" font-size="15" font-weight="bold" fill="#1a1a1a">Neuons</text>
<rect x="1588.5" y="48.2" width="63.3" height="185.8" fill="#6593d0"/>
<rect x="1588.5" y="233.7" width="63.3" height="6.1" fill="#254a8a"/>
<rect x="1588.5" y="239.5" width="63.3" height="10.9" fill="#f0d60a"/>
<rect x="1588.5" y="250.1" width="63.3" height="11.2" fill="#ec5a58"/>
<rect x="1588.5" y="261.0" width="63.3" height="22.2" fill="#f5cfc6"/>
<rect x="1588.5" y="282.9" width="63.3" height="9.9" fill="#3da878"/>
<rect x="1588.5" y="292.5" width="63.3" height="2.9" fill="#6ecbdb"/>
<rect x="1588.5" y="295.1" width="63.3" height="19.2" fill="#ee4db4"/>
<rect x="1588.5" y="314.0" width="63.3" height="9.3" fill="#9c2069"/>
<rect x="1588.5" y="323.0" width="63.3" height="12.6" fill="#bdad48"/>
<rect x="1588.5" y="335.3" width="63.3" height="30.4" fill="#72a9f0"/>
<rect x="1588.5" y="365.4" width="63.3" height="14.8" fill="#3c2661"/>
<rect x="1588.5" y="379.9" width="63.3" height="15.1" fill="#fbe87a"/>
<rect x="1588.5" y="394.7" width="63.3" height="9.8" fill="#e94a37"/>
<rect x="1588.5" y="404.2" width="63.3" height="14.8" fill="#ec7f7c"/>
<rect x="1588.5" y="418.7" width="63.3" height="11.8" fill="#f7bab3"/>
<rect x="1588.5" y="430.2" width="63.3" height="9.4" fill="#dadde6"/>
<rect x="1588.5" y="439.3" width="63.3" height="6.7" fill="#f58be0"/>
<rect x="1588.5" y="445.7" width="63.3" height="1.3" fill="#4d6393"/>
<rect x="1588.5" y="446.7" width="63.3" height="7.7" fill="#2fb9d6"/>
<rect x="1588.5" y="454.1" width="63.3" height="2.4" fill="#82cfc1"/>
<rect x="1588.5" y="456.2" width="63.3" height="14.8" fill="#fdecc8"/>
<rect x="1588.5" y="470.7" width="63.3" height="18.2" fill="#f0b6b4"/>
<rect x="1588.5" y="488.6" width="63.3" height="90.1" fill="#5878ae"/>
<rect x="1588.5" y="578.4" width="63.3" height="85.3" fill="#30b38e"/>
<rect x="1706" y="48.2" width="63.4" height="143.0" fill="#6593d0"/>
<rect x="1706" y="190.9" width="63.4" height="6.8" fill="#254a8a"/>
<rect x="1706" y="197.4" width="63.4" height="20.5" fill="#f0d60a"/>
<rect x="1706" y="217.6" width="63.4" height="18.0" fill="#ec5a58"/>
<rect x="1706" y="235.3" width="63.4" height="27.0" fill="#f5cfc6"/>
<rect x="1706" y="262.0" width="63.4" height="20.5" fill="#3da878"/>
<rect x="1706" y="282.2" width="63.4" height="4.8" fill="#6ecbdb"/>
<rect x="1706" y="286.7" width="63.4" height="32.5" fill="#ee4db4"/>
<rect x="1706" y="318.9" width="63.4" height="17.6" fill="#9c2069"/>
<rect x="1706" y="336.2" width="63.4" height="17.8" fill="#bdad48"/>
<rect x="1706" y="353.7" width="63.4" height="28.5" fill="#72a9f0"/>
<rect x="1706" y="381.9" width="63.4" height="31.7" fill="#3c2661"/>
<rect x="1706" y="413.3" width="63.4" height="16.2" fill="#fbe87a"/>
<rect x="1706" y="429.2" width="63.4" height="6.0" fill="#e94a37"/>
<rect x="1706" y="434.9" width="63.4" height="18.2" fill="#ec7f7c"/>
<rect x="1706" y="452.8" width="63.4" height="15.5" fill="#f7bab3"/>
<rect x="1706" y="468.0" width="63.4" height="15.2" fill="#dadde6"/>
<rect x="1706" y="482.9" width="63.4" height="13.8" fill="#f58be0"/>
<rect x="1706" y="496.4" width="63.4" height="1.9" fill="#4d6393"/>
<rect x="1706" y="498.0" width="63.4" height="10.1" fill="#2fb9d6"/>
<rect x="1706" y="507.8" width="63.4" height="5.1" fill="#82cfc1"/>
<rect x="1706" y="512.6" width="63.4" height="24.9" fill="#fdecc8"/>
<rect x="1706" y="537.2" width="63.4" height="11.5" fill="#f0b6b4"/>
<rect x="1706" y="548.4" width="63.4" height="59.0" fill="#5878ae"/>
<rect x="1706" y="607.1" width="63.4" height="56.6" fill="#30b38e"/>
<rect x="1823.4" y="48.2" width="63.6" height="141.8" fill="#6593d0"/>
<rect x="1823.4" y="189.7" width="63.6" height="7.3" fill="#254a8a"/>
<rect x="1823.4" y="196.7" width="63.6" height="11.9" fill="#f0d60a"/>
<rect x="1823.4" y="208.3" width="63.6" height="12.2" fill="#ec5a58"/>
<rect x="1823.4" y="220.2" width="63.6" height="28.6" fill="#f5cfc6"/>
<rect x="1823.4" y="248.5" width="63.6" height="36.3" fill="#3da878"/>
<rect x="1823.4" y="284.5" width="63.6" height="4.5" fill="#6ecbdb"/>
<rect x="1823.4" y="288.7" width="63.6" height="36.9" fill="#ee4db4"/>
<rect x="1823.4" y="325.3" width="63.6" height="18.2" fill="#9c2069"/>
<rect x="1823.4" y="343.2" width="63.6" height="11.0" fill="#bdad48"/>
<rect x="1823.4" y="353.9" width="63.6" height="29.9" fill="#72a9f0"/>
<rect x="1823.4" y="383.5" width="63.6" height="47.6" fill="#3c2661"/>
<rect x="1823.4" y="430.8" width="63.6" height="14.2" fill="#fbe87a"/>
<rect x="1823.4" y="444.7" width="63.6" height="7.7" fill="#e94a37"/>
<rect x="1823.4" y="452.1" width="63.6" height="32.4" fill="#ec7f7c"/>
<rect x="1823.4" y="484.2" width="63.6" height="27.3" fill="#f7bab3"/>
<rect x="1823.4" y="511.2" width="63.6" height="12.1" fill="#dadde6"/>
<rect x="1823.4" y="523.0" width="63.6" height="17.6" fill="#f58be0"/>
<rect x="1823.4" y="540.3" width="63.6" height="1.6" fill="#4d6393"/>
<rect x="1823.4" y="541.6" width="63.6" height="12.5" fill="#2fb9d6"/>
<rect x="1823.4" y="553.8" width="63.6" height="4.7" fill="#82cfc1"/>
<rect x="1823.4" y="558.2" width="63.6" height="20.9" fill="#fdecc8"/>
<rect x="1823.4" y="578.8" width="63.6" height="7.4" fill="#f0b6b4"/>
<rect x="1823.4" y="585.9" width="63.6" height="41.1" fill="#5878ae"/>
<rect x="1823.4" y="626.7" width="63.6" height="37.0" fill="#30b38e"/>
<path d="M1561,16 V663.4" stroke="#6b6b6b" stroke-width="1.5" fill="none"/>
<path d="M1553,663.4 H1914" stroke="#6b6b6b" stroke-width="1.8" fill="none"/>
<line x1="1553.5" x2="1561" y1="48.2" y2="48.2" stroke="#6b6b6b" stroke-width="1.5"/>
<text x="1551.5" y="53.800000000000004" text-anchor="end" font-size="16" fill="#1a1a1a">100</text>
<line x1="1553.5" x2="1561" y1="170.9" y2="170.9" stroke="#6b6b6b" stroke-width="1.5"/>
<text x="1551.5" y="176.5" text-anchor="end" font-size="16" fill="#1a1a1a">80</text>
<line x1="1553.5" x2="1561" y1="293.7" y2="293.7" stroke="#6b6b6b" stroke-width="1.5"/>
<text x="1551.5" y="299.3" text-anchor="end" font-size="16" fill="#1a1a1a">60</text>
<line x1="1553.5" x2="1561" y1="416.9" y2="416.9" stroke="#6b6b6b" stroke-width="1.5"/>
<text x="1551.5" y="422.5" text-anchor="end" font-size="16" fill="#1a1a1a">40</text>
<line x1="1553.5" x2="1561" y1="540" y2="540" stroke="#6b6b6b" stroke-width="1.5"/>
<text x="1551.5" y="545.6" text-anchor="end" font-size="16" fill="#1a1a1a">20</text>
<line x1="1553.5" x2="1561" y1="663.2" y2="663.2" stroke="#6b6b6b" stroke-width="1.5"/>
<text x="1551.5" y="668.8000000000001" text-anchor="end" font-size="16" fill="#1a1a1a">0</text>
<line x1="1620" x2="1620" y1="663.4" y2="672" stroke="#6b6b6b" stroke-width="1.5"/>
<text transform="translate(1634.8,687.5) rotate(-45)" text-anchor="end" font-size="16.5" fill="#1a1a1a">Placebo</text>
<line x1="1737.7" x2="1737.7" y1="663.4" y2="672" stroke="#6b6b6b" stroke-width="1.5"/>
<text transform="translate(1762.3,687.5) rotate(-45)" text-anchor="end" font-size="16.5" fill="#1a1a1a">Low DIPs</text>
<line x1="1855.2" x2="1855.2" y1="663.4" y2="672" stroke="#6b6b6b" stroke-width="1.5"/>
<text transform="translate(1886.9,688.3) rotate(-45)" text-anchor="end" font-size="16.5" fill="#1a1a1a">High DIPs</text>
<text transform="translate(1517,352.6) rotate(-90)" text-anchor="middle" font-size="20.8" fill="#1a1a1a">Proportion (%)</text>
<path d="M467.8,837 V1124.8 H772.5" fill="none" stroke="#222" stroke-width="1.4"/>
<line x1="463" x2="467.8" y1="852.2" y2="852.2" stroke="#222" stroke-width="1.3"/>
<text x="461" y="856.7" text-anchor="end" font-size="12.67" fill="#111" stroke="#111" stroke-width="0.2">NEGATIVE_REGULATION_OF_VIRAL_PROCESS</text>
<line x1="463" x2="467.8" y1="872" y2="872" stroke="#222" stroke-width="1.3"/>
<text x="461" y="876.5" text-anchor="end" font-size="12.67" fill="#111" stroke="#111" stroke-width="0.2">NEGATIVE_REGULATION_OF_VIRAL_GENOME_REPLICATION</text>
<line x1="463" x2="467.8" y1="892" y2="892" stroke="#222" stroke-width="1.3"/>
<text x="461" y="896.5" text-anchor="end" font-size="12.67" fill="#111" stroke="#111" stroke-width="0.2">REGULATION_OF_VIRAL_ENTRY_INTO_HOST_CELL</text>
<line x1="463" x2="467.8" y1="911.2" y2="911.2" stroke="#222" stroke-width="1.3"/>
<text x="461" y="915.7" text-anchor="end" font-size="12.67" fill="#111" stroke="#111" stroke-width="0.2">NEGATIVE_REGULATION_OF_VIRAL_LIFE_CYCLE</text>
<line x1="463" x2="467.8" y1="931" y2="931" stroke="#222" stroke-width="1.3"/>
<text x="461" y="935.5" text-anchor="end" font-size="12.67" fill="#111" stroke="#111" stroke-width="0.2">RESPONSE_TO_FUNGUS</text>
<line x1="463" x2="467.8" y1="951.5" y2="951.5" stroke="#222" stroke-width="1.3"/>
<text x="461" y="956.0" text-anchor="end" font-size="12.67" fill="#111" stroke="#111" stroke-width="0.2">CHRONIC_INFLAMMATORY_RESPONSE</text>
<line x1="463" x2="467.8" y1="971.8" y2="971.8" stroke="#222" stroke-width="1.3"/>
<text x="461" y="976.3" text-anchor="end" font-size="12.67" fill="#111" stroke="#111" stroke-width="0.2">VIRAL_GENOME_REPLICATION</text>
<line x1="463" x2="467.8" y1="991.6" y2="991.6" stroke="#222" stroke-width="1.3"/>
<text x="461" y="996.1" text-anchor="end" font-size="12.67" fill="#111" stroke="#111" stroke-width="0.2">RESPONSE_TO_TYPE_I_INTERFERON</text>
<line x1="463" x2="467.8" y1="1011.5" y2="1011.5" stroke="#222" stroke-width="1.3"/>
<text x="461" y="1016.0" text-anchor="end" font-size="12.67" fill="#111" stroke="#111" stroke-width="0.2">RESPONSE_TO_INTERFERON_GAMMA</text>
<line x1="463" x2="467.8" y1="1030.5" y2="1030.5" stroke="#222" stroke-width="1.3"/>
<text x="461" y="1035.0" text-anchor="end" font-size="12.67" fill="#111" stroke="#111" stroke-width="0.2">RESPONSE_TO_VIRUS</text>
<line x1="463" x2="467.8" y1="1050.9" y2="1050.9" stroke="#222" stroke-width="1.3"/>
<text x="461" y="1055.4" text-anchor="end" font-size="12.67" fill="#111" stroke="#111" stroke-width="0.2">REGULATION_OF_INNATE_IMMUNE_RESPONSE</text>
<line x1="463" x2="467.8" y1="1071.5" y2="1071.5" stroke="#222" stroke-width="1.3"/>
<text x="461" y="1076.0" text-anchor="end" font-size="12.67" fill="#111" stroke="#111" stroke-width="0.2">BIOLOGICAL_PROCESS_INVOLVED_IN_INTERACTION_WITH_SYMBIONT</text>
<line x1="463" x2="467.8" y1="1091.6" y2="1091.6" stroke="#222" stroke-width="1.3"/>
<text x="461" y="1096.1" text-anchor="end" font-size="12.67" fill="#111" stroke="#111" stroke-width="0.2">POSITIVE_REGULATION_OF_DEFENSE_RESPONSE</text>
<line x1="463" x2="467.8" y1="1111.6" y2="1111.6" stroke="#222" stroke-width="1.3"/>
<text x="461" y="1116.1" text-anchor="end" font-size="12.67" fill="#111" stroke="#111" stroke-width="0.2">RESPONSE_TO_TRANSFORMING_GROWTH_FACTOR_BETA</text>
<text x="628.7" y="812" text-anchor="middle" font-size="23.8" fill="#111">Goblet cells</text>
<line x1="524.5" x2="524.5" y1="1124.8" y2="1129.8" stroke="#222" stroke-width="1.3"/>
<circle cx="524.5" cy="852.2" r="8.6" fill="#d63a32" stroke="#111" stroke-width="1.6"/>
<circle cx="524.5" cy="872" r="7.2" fill="#d63a32" stroke="#111" stroke-width="1.6"/>
<circle cx="524.5" cy="892" r="6.7" fill="#d63a32" stroke="#111" stroke-width="1.6"/>
<circle cx="524.5" cy="911.2" r="6.6" fill="#d63a32"/>
<circle cx="524.5" cy="931" r="5.8" fill="#dc4d42"/>
<circle cx="524.5" cy="951.5" r="5.2" fill="#e4695c"/>
<circle cx="524.5" cy="971.8" r="5.8" fill="#e4695c"/>
<circle cx="524.5" cy="991.6" r="4.9" fill="#e4695c"/>
<circle cx="524.5" cy="1011.5" r="5.5" fill="#e4695c"/>
<circle cx="524.5" cy="1030.5" r="4.9" fill="#eb8a7c"/>
<circle cx="524.5" cy="1050.9" r="4.6" fill="#eb8a7c"/>
<circle cx="524.5" cy="1071.5" r="4.3" fill="#eb8a7c"/>
<circle cx="524.5" cy="1091.6" r="4.0" fill="#eb8a7c"/>
<circle cx="524.5" cy="1111.6" r="8.5" fill="#4a2aa0" stroke="#111" stroke-width="1.6"/>
<line x1="619.7" x2="619.7" y1="1124.8" y2="1129.8" stroke="#222" stroke-width="1.3"/>
<circle cx="619.7" cy="852.2" r="6.7" fill="#dc4d42"/>
<circle cx="619.7" cy="872" r="5.8" fill="#dc4d42"/>
<circle cx="619.7" cy="892" r="5.5" fill="#dc4d42"/>
<circle cx="619.7" cy="911.2" r="5.2" fill="#dc4d42"/>
<circle cx="619.7" cy="931" r="3.8" fill="#eb8a7c"/>
<circle cx="619.7" cy="951.5" r="4.9" fill="#6a4cb8"/>
<circle cx="619.7" cy="971.8" r="4.0" fill="#eb8a7c"/>
<circle cx="619.7" cy="991.6" r="3.5" fill="#f0a294"/>
<circle cx="619.7" cy="1011.5" r="3.8" fill="#eb8a7c"/>
<circle cx="619.7" cy="1030.5" r="3.8" fill="#9a82cf"/>
<circle cx="619.7" cy="1050.9" r="3.5" fill="#9a82cf"/>
<circle cx="619.7" cy="1071.5" r="3.5" fill="#9a82cf"/>
<circle cx="619.7" cy="1091.6" r="4.0" fill="#9a82cf"/>
<circle cx="619.7" cy="1111.6" r="8.5" fill="#4a2aa0" stroke="#111" stroke-width="1.6"/>
<line x1="714.9" x2="714.9" y1="1124.8" y2="1129.8" stroke="#222" stroke-width="1.3"/>
<circle cx="714.9" cy="852.2" r="7.6" fill="#dc4d42" stroke="#111" stroke-width="1.6"/>
<circle cx="714.9" cy="872" r="6.4" fill="#dc4d42" stroke="#111" stroke-width="1.6"/>
<circle cx="714.9" cy="892" r="4.0" fill="#e4695c"/>
<circle cx="714.9" cy="911.2" r="7.0" fill="#dc4d42" stroke="#111" stroke-width="1.6"/>
<circle cx="714.9" cy="931" r="7.3" fill="#dc4d42" stroke="#111" stroke-width="1.6"/>
<circle cx="714.9" cy="951.5" r="7.9" fill="#dc4d42" stroke="#111" stroke-width="1.6"/>
<circle cx="714.9" cy="971.8" r="7.3" fill="#dc4d42" stroke="#111" stroke-width="1.6"/>
<circle cx="714.9" cy="991.6" r="7.6" fill="#dc4d42" stroke="#111" stroke-width="1.6"/>
<circle cx="714.9" cy="1011.5" r="7.3" fill="#e4695c" stroke="#111" stroke-width="1.6"/>
<circle cx="714.9" cy="1030.5" r="9.0" fill="#e4695c" stroke="#111" stroke-width="1.6"/>
<circle cx="714.9" cy="1050.9" r="7.9" fill="#e4695c" stroke="#111" stroke-width="1.6"/>
<circle cx="714.9" cy="1071.5" r="7.3" fill="#dc4d42" stroke="#111" stroke-width="1.6"/>
<circle cx="714.9" cy="1091.6" r="6.7" fill="#e4695c" stroke="#111" stroke-width="1.6"/>
<circle cx="714.9" cy="1111.6" r="3.8" fill="#9a82cf"/>
<text transform="translate(529.5,1137.5) rotate(-45)" text-anchor="end" font-size="12.8" fill="#111">Low DIPs vs. Placebo</text>
<text transform="translate(624.7,1137.5) rotate(-45)" text-anchor="end" font-size="12.8" fill="#111">High DIPs vs. Placebo</text>
<text transform="translate(719.9,1137.5) rotate(-45)" text-anchor="end" font-size="12.8" fill="#111">Low DIPs vs. High DIPs</text>
<text x="791" y="865.5" font-size="16.5" fill="#111">NES</text>
<rect x="791" y="876.4" width="19.4" height="97" fill="url(#nes)"/>
<line x1="791" x2="795" y1="879" y2="879" stroke="#fff" stroke-width="0.8"/><line x1="806.4" x2="810.4" y1="879" y2="879" stroke="#fff" stroke-width="0.8"/>
<text x="819" y="883.8" font-size="15" fill="#111">2</text>
<line x1="791" x2="795" y1="903.8" y2="903.8" stroke="#fff" stroke-width="0.8"/><line x1="806.4" x2="810.4" y1="903.8" y2="903.8" stroke="#fff" stroke-width="0.8"/>
<text x="819" y="908.5999999999999" font-size="15" fill="#111">1</text>
<line x1="791" x2="795" y1="929.6" y2="929.6" stroke="#fff" stroke-width="0.8"/><line x1="806.4" x2="810.4" y1="929.6" y2="929.6" stroke="#fff" stroke-width="0.8"/>
<text x="819" y="934.4" font-size="15" fill="#111">0</text>
<line x1="791" x2="795" y1="955.3" y2="955.3" stroke="#fff" stroke-width="0.8"/><line x1="806.4" x2="810.4" y1="955.3" y2="955.3" stroke="#fff" stroke-width="0.8"/>
<text x="819" y="960.0999999999999" font-size="15" fill="#111">−1</text>
<text x="790.5" y="1009" font-size="17.5" fill="#111">−log10(p.adjust)</text>
<circle cx="800.2" cy="1027.4" r="5.6" fill="#000"/>
<text x="819" y="1033.6000000000001" font-size="15" fill="#111">1</text>
<circle cx="800.2" cy="1046.8" r="7.4" fill="#000"/>
<text x="819" y="1053.0" font-size="15" fill="#111">2</text>
<circle cx="800.2" cy="1067.3" r="9.1" fill="#000"/>
<text x="819" y="1073.5" font-size="15" fill="#111">3</text>
<circle cx="800.2" cy="1101.2" r="7" fill="#fff" stroke="#111" stroke-width="1.5"/>
<text x="819" y="1106.2" font-size="17.4" fill="#111">p.adjust &lt;= 0.05</text>
<path d="M1011,1128.4 V824" stroke="#222" stroke-width="1.5" fill="none"/>
<path d="M1004.3,825 L1011,812.5 L1017.7,825 Z" fill="#222"/>
<path d="M1010.3,1128.4 H1988" stroke="#222" stroke-width="1.5" fill="none"/>
<path d="M1987,1122.2 L1999.6,1128.6 L1987,1135 Z" fill="#222"/>
<text transform="translate(1005.5,973) rotate(-90)" text-anchor="middle" font-size="16" fill="#111">SSC-A</text>
<text x="1506.2" y="1154.5" text-anchor="middle" font-size="16.5" fill="#111">HA</text>
<rect x="1061.6" y="825.8" width="266.0" height="263.70000000000005" fill="#fff" stroke="#8a8a8a" stroke-width="1.1"/>
<text x="1194.8" y="810" text-anchor="middle" font-size="22.9" fill="#111">Placebo</text>
<line x1="1054.1" x2="1061.6" y1="838.5" y2="838.5" stroke="#111" stroke-width="1.5"/>
<text x="1050.6" y="843.9" text-anchor="end" font-size="12.3" font-weight="bold" fill="#111">250K</text>
<line x1="1054.1" x2="1061.6" y1="888" y2="888" stroke="#111" stroke-width="1.5"/>
<text x="1050.6" y="893.4" text-anchor="end" font-size="12.3" font-weight="bold" fill="#111">200K</text>
<line x1="1054.1" x2="1061.6" y1="937.8" y2="937.8" stroke="#111" stroke-width="1.5"/>
<text x="1050.6" y="943.1999999999999" text-anchor="end" font-size="12.3" font-weight="bold" fill="#111">150K</text>
<line x1="1054.1" x2="1061.6" y1="988.9" y2="988.9" stroke="#111" stroke-width="1.5"/>
<text x="1050.6" y="994.3" text-anchor="end" font-size="12.3" font-weight="bold" fill="#111">100K</text>
<line x1="1054.1" x2="1061.6" y1="1038.1" y2="1038.1" stroke="#111" stroke-width="1.5"/>
<text x="1050.6" y="1043.5" text-anchor="end" font-size="12.3" font-weight="bold" fill="#111">50K</text>
<line x1="1054.1" x2="1061.6" y1="1088.6" y2="1088.6" stroke="#111" stroke-width="1.5"/>
<text x="1050.6" y="1089.3999999999999" text-anchor="end" font-size="12.3" font-weight="bold" fill="#111">0</text>
<line x1="1058.3999999999999" x2="1061.6" y1="1078.6" y2="1078.6" stroke="#222" stroke-width="1.0"/>
<line x1="1058.3999999999999" x2="1061.6" y1="1068.6" y2="1068.6" stroke="#222" stroke-width="1.0"/>
<line x1="1058.3999999999999" x2="1061.6" y1="1058.7" y2="1058.7" stroke="#222" stroke-width="1.0"/>
<line x1="1058.3999999999999" x2="1061.6" y1="1048.7" y2="1048.7" stroke="#222" stroke-width="1.0"/>
<line x1="1058.3999999999999" x2="1061.6" y1="1028.7" y2="1028.7" stroke="#222" stroke-width="1.0"/>
<line x1="1058.3999999999999" x2="1061.6" y1="1018.7" y2="1018.7" stroke="#222" stroke-width="1.0"/>
<line x1="1058.3999999999999" x2="1061.6" y1="1008.8" y2="1008.8" stroke="#222" stroke-width="1.0"/>
<line x1="1058.3999999999999" x2="1061.6" y1="998.8" y2="998.8" stroke="#222" stroke-width="1.0"/>
<line x1="1058.3999999999999" x2="1061.6" y1="978.8" y2="978.8" stroke="#222" stroke-width="1.0"/>
<line x1="1058.3999999999999" x2="1061.6" y1="968.8" y2="968.8" stroke="#222" stroke-width="1.0"/>
<line x1="1058.3999999999999" x2="1061.6" y1="958.9" y2="958.9" stroke="#222" stroke-width="1.0"/>
<line x1="1058.3999999999999" x2="1061.6" y1="948.9" y2="948.9" stroke="#222" stroke-width="1.0"/>
<line x1="1058.3999999999999" x2="1061.6" y1="928.9" y2="928.9" stroke="#222" stroke-width="1.0"/>
<line x1="1058.3999999999999" x2="1061.6" y1="918.9" y2="918.9" stroke="#222" stroke-width="1.0"/>
<line x1="1058.3999999999999" x2="1061.6" y1="909.0" y2="909.0" stroke="#222" stroke-width="1.0"/>
<line x1="1058.3999999999999" x2="1061.6" y1="899.0" y2="899.0" stroke="#222" stroke-width="1.0"/>
<line x1="1058.3999999999999" x2="1061.6" y1="879.0" y2="879.0" stroke="#222" stroke-width="1.0"/>
<line x1="1058.3999999999999" x2="1061.6" y1="869.0" y2="869.0" stroke="#222" stroke-width="1.0"/>
<line x1="1058.3999999999999" x2="1061.6" y1="859.1" y2="859.1" stroke="#222" stroke-width="1.0"/>
<line x1="1058.3999999999999" x2="1061.6" y1="849.1" y2="849.1" stroke="#222" stroke-width="1.0"/>
<line x1="1058.3999999999999" x2="1061.6" y1="829.1" y2="829.1" stroke="#222" stroke-width="1.0"/>
<line x1="1077.6" x2="1077.6" y1="1089.5" y2="1096.3" stroke="#111" stroke-width="1.5"/>
<line x1="1165.1" x2="1165.1" y1="1089.5" y2="1096.3" stroke="#111" stroke-width="1.5"/>
<line x1="1237.6" x2="1237.6" y1="1089.5" y2="1096.3" stroke="#111" stroke-width="1.5"/>
<line x1="1301.5" x2="1301.5" y1="1089.5" y2="1096.3" stroke="#111" stroke-width="1.5"/>
<rect x="1115.8" y="1089.5" width="11.1" height="3.2" fill="#111"/>
<line x1="1116.6" x2="1116.6" y1="1089.5" y2="1096.3" stroke="#111" stroke-width="1.6"/>
<line x1="1120.7" x2="1120.7" y1="1089.5" y2="1096.3" stroke="#111" stroke-width="1.6"/>
<line x1="1124.3" x2="1124.3" y1="1089.5" y2="1096.3" stroke="#111" stroke-width="1.6"/>
<line x1="1126.7" x2="1126.7" y1="1089.5" y2="1096.3" stroke="#111" stroke-width="1.6"/>
<line x1="1080.9" x2="1080.9" y1="1089.5" y2="1092.9" stroke="#111" stroke-width="1.1"/>
<line x1="1083.1" x2="1083.1" y1="1089.5" y2="1092.9" stroke="#111" stroke-width="1.1"/>
<line x1="1085.8" x2="1085.8" y1="1089.5" y2="1092.9" stroke="#111" stroke-width="1.1"/>
<line x1="1089.1" x2="1089.1" y1="1089.5" y2="1092.9" stroke="#111" stroke-width="1.1"/>
<line x1="1092.8" x2="1092.8" y1="1089.5" y2="1092.9" stroke="#111" stroke-width="1.1"/>
<line x1="1100.2" x2="1100.2" y1="1089.5" y2="1092.9" stroke="#111" stroke-width="1.1"/>
<line x1="1103.9" x2="1103.9" y1="1089.5" y2="1092.9" stroke="#111" stroke-width="1.1"/>
<line x1="1107.6" x2="1107.6" y1="1089.5" y2="1092.9" stroke="#111" stroke-width="1.1"/>
<line x1="1112.1" x2="1112.1" y1="1089.5" y2="1092.9" stroke="#111" stroke-width="1.1"/>
<line x1="1131.4" x2="1131.4" y1="1089.5" y2="1092.9" stroke="#111" stroke-width="1.1"/>
<line x1="1136.6" x2="1136.6" y1="1089.5" y2="1092.9" stroke="#111" stroke-width="1.1"/>
<line x1="1141.1" x2="1141.1" y1="1089.5" y2="1092.9" stroke="#111" stroke-width="1.1"/>
<line x1="1149.2" x2="1149.2" y1="1089.5" y2="1092.9" stroke="#111" stroke-width="1.1"/>
<line x1="1152.9" x2="1152.9" y1="1089.5" y2="1092.9" stroke="#111" stroke-width="1.1"/>
<line x1="1155.9" x2="1155.9" y1="1089.5" y2="1092.9" stroke="#111" stroke-width="1.1"/>
<line x1="1158.9" x2="1158.9" y1="1089.5" y2="1092.9" stroke="#111" stroke-width="1.1"/>
<line x1="1161.4" x2="1161.4" y1="1089.5" y2="1092.9" stroke="#111" stroke-width="1.1"/>
<line x1="1187.8" x2="1187.8" y1="1089.5" y2="1092.9" stroke="#111" stroke-width="1.1"/>
<line x1="1201.2" x2="1201.2" y1="1089.5" y2="1092.9" stroke="#111" stroke-width="1.1"/>
<line x1="1210.9" x2="1210.9" y1="1089.5" y2="1092.9" stroke="#111" stroke-width="1.1"/>
<line x1="1224.2" x2="1224.2" y1="1089.5" y2="1092.9" stroke="#111" stroke-width="1.1"/>
<line x1="1228.7" x2="1228.7" y1="1089.5" y2="1092.9" stroke="#111" stroke-width="1.1"/>
<line x1="1232.1" x2="1232.1" y1="1089.5" y2="1092.9" stroke="#111" stroke-width="1.1"/>
<line x1="1235.1" x2="1235.1" y1="1089.5" y2="1092.9" stroke="#111" stroke-width="1.1"/>
<line x1="1257.6" x2="1257.6" y1="1089.5" y2="1092.9" stroke="#111" stroke-width="1.1"/>
<line x1="1269.5" x2="1269.5" y1="1089.5" y2="1092.9" stroke="#111" stroke-width="1.1"/>
<line x1="1277.0" x2="1277.0" y1="1089.5" y2="1092.9" stroke="#111" stroke-width="1.1"/>
<line x1="1288.1" x2="1288.1" y1="1089.5" y2="1092.9" stroke="#111" stroke-width="1.1"/>
<line x1="1292.6" x2="1292.6" y1="1089.5" y2="1092.9" stroke="#111" stroke-width="1.1"/>
<line x1="1295.8" x2="1295.8" y1="1089.5" y2="1092.9" stroke="#111" stroke-width="1.1"/>
<line x1="1298.9" x2="1298.9" y1="1089.5" y2="1092.9" stroke="#111" stroke-width="1.1"/>
<line x1="1319.3" x2="1319.3" y1="1089.5" y2="1092.9" stroke="#111" stroke-width="1.1"/>
<line x1="1096.5" x2="1096.5" y1="1089.5" y2="1094.5" stroke="#222" stroke-width="1.1"/>
<line x1="1145.1" x2="1145.1" y1="1089.5" y2="1094.5" stroke="#222" stroke-width="1.1"/>
<line x1="1218.3" x2="1218.3" y1="1089.5" y2="1094.5" stroke="#222" stroke-width="1.1"/>
<line x1="1282.9" x2="1282.9" y1="1089.5" y2="1094.5" stroke="#222" stroke-width="1.1"/>
<text x="1075.0" y="1117.3" font-size="11.6" font-weight="bold" fill="#111">-10<tspan dy="-9.5" dx="0.8">3</tspan></text>
<text x="1164.8" y="1117.3" font-size="11.6" font-weight="bold" fill="#111">10<tspan dy="-9.5" dx="0.8">3</tspan></text>
<text x="1237.6" y="1117.3" font-size="11.6" font-weight="bold" fill="#111">10<tspan dy="-9.5" dx="0.8">4</tspan></text>
<text x="1300.7" y="1117.3" font-size="11.6" font-weight="bold" fill="#111">10<tspan dy="-9.5" dx="0.8">5</tspan></text>
<text x="1126.7" y="1117.3" text-anchor="middle" font-size="11.6" font-weight="bold" fill="#111">0</text>
<ellipse cx="1145.3" cy="995.4" rx="4.5" ry="11" fill="#777" opacity="0.75" filter="url(#blur2)"/>
<ellipse cx="1110.4" cy="1015.7" rx="8" ry="12" fill="#777" opacity="0.6" filter="url(#blur2)"/>
<ellipse cx="1134.0" cy="1026.9" rx="13" ry="6" fill="#777" opacity="0.55" filter="url(#blur2)"/>
<g fill="none" stroke="#2a2a2a" stroke-width="0.82"><path d="M1129.5,936.9C1132.9,936.0 1137.4,936.3 1140.8,936.9C1144.2,937.4 1147.0,938.2 1149.8,940.3C1152.6,942.3 1155.9,945.1 1157.7,949.3C1159.5,953.4 1160.0,958.7 1160.5,965.0C1161.0,971.4 1161.0,980.0 1160.5,987.5C1160.0,995.0 1158.9,1003.3 1157.7,1010.1C1156.5,1016.8 1155.2,1023.2 1153.2,1028.1C1151.1,1032.9 1148.5,1036.5 1145.3,1039.3C1142.1,1042.1 1137.8,1044.2 1134.0,1045.0C1130.3,1045.7 1127.1,1045.5 1122.8,1043.8C1118.5,1042.1 1111.9,1038.6 1108.1,1034.8C1104.4,1031.1 1101.9,1026.2 1100.3,1021.3C1098.7,1016.4 1098.5,1011.2 1098.6,1005.6C1098.7,999.9 1099.6,993.9 1100.8,987.5C1102.0,981.2 1103.7,973.7 1105.9,967.3C1108.0,960.9 1111.3,953.5 1113.8,949.3C1116.2,945.0 1117.9,944.0 1120.5,942.0C1123.2,939.9 1126.2,937.7 1129.5,936.9Z"/><path d="M1129.5,942.4C1132.6,941.6 1136.8,941.9 1139.9,942.4C1143.0,942.9 1145.6,943.6 1148.2,945.5C1150.8,947.4 1153.8,950.0 1155.4,953.8C1157.1,957.6 1157.6,962.4 1158.0,968.3C1158.4,974.2 1158.4,982.1 1158.0,989.0C1157.6,995.9 1156.5,1003.5 1155.4,1009.7C1154.3,1016.0 1153.2,1021.8 1151.3,1026.3C1149.4,1030.8 1147.0,1034.1 1144.0,1036.7C1141.1,1039.3 1137.1,1041.2 1133.7,1041.9C1130.2,1042.5 1127.3,1042.4 1123.3,1040.8C1119.3,1039.3 1113.3,1036.0 1109.9,1032.5C1106.4,1029.1 1104.1,1024.6 1102.6,1020.1C1101.1,1015.6 1101.0,1010.8 1101.1,1005.6C1101.1,1000.4 1102.0,994.9 1103.1,989.0C1104.2,983.2 1105.8,976.3 1107.8,970.4C1109.8,964.5 1112.8,957.7 1115.0,953.8C1117.3,949.9 1118.8,949.0 1121.2,947.1C1123.7,945.2 1126.4,943.2 1129.5,942.4Z"/><path d="M1129.5,946.6C1132.4,945.9 1136.3,946.1 1139.2,946.6C1142.1,947.1 1144.5,947.7 1147.0,949.5C1149.4,951.3 1152.2,953.7 1153.7,957.2C1155.3,960.8 1155.7,965.3 1156.2,970.8C1156.6,976.3 1156.6,983.7 1156.2,990.1C1155.7,996.6 1154.8,1003.7 1153.7,1009.5C1152.7,1015.3 1151.6,1020.8 1149.9,1025.0C1148.1,1029.2 1145.8,1032.3 1143.1,1034.7C1140.3,1037.1 1136.6,1038.9 1133.4,1039.5C1130.2,1040.2 1127.4,1040.0 1123.7,1038.5C1120.0,1037.1 1114.4,1034.0 1111.1,1030.8C1107.9,1027.6 1105.7,1023.4 1104.4,1019.2C1103.0,1015.0 1102.8,1010.5 1102.9,1005.6C1103.0,1000.8 1103.8,995.6 1104.8,990.1C1105.9,984.7 1107.4,978.2 1109.2,972.7C1111.1,967.2 1113.9,960.9 1116.0,957.2C1118.1,953.6 1119.5,952.7 1121.8,950.9C1124.0,949.2 1126.6,947.3 1129.5,946.6Z"/><path d="M1129.5,950.8C1132.2,950.1 1135.8,950.3 1138.5,950.8C1141.2,951.2 1143.5,951.8 1145.7,953.5C1148.0,955.1 1150.6,957.4 1152.0,960.7C1153.5,964.0 1153.9,968.2 1154.3,973.3C1154.7,978.4 1154.7,985.3 1154.3,991.3C1153.9,997.3 1153.0,1003.9 1152.0,1009.3C1151.1,1014.7 1150.1,1019.8 1148.4,1023.7C1146.8,1027.6 1144.7,1030.4 1142.1,1032.7C1139.6,1034.9 1136.1,1036.6 1133.1,1037.2C1130.1,1037.8 1127.6,1037.6 1124.1,1036.3C1120.7,1034.9 1115.4,1032.1 1112.4,1029.1C1109.4,1026.1 1107.4,1022.2 1106.1,1018.3C1104.9,1014.4 1104.7,1010.2 1104.8,1005.7C1104.9,1001.2 1105.6,996.4 1106.6,991.3C1107.6,986.2 1108.9,980.2 1110.6,975.1C1112.4,970.0 1115.0,964.0 1116.9,960.7C1118.9,957.3 1120.2,956.5 1122.3,954.8C1124.4,953.2 1126.8,951.4 1129.5,950.8Z"/><path d="M1129.5,954.9C1132.0,954.3 1135.4,954.5 1137.9,954.9C1140.4,955.3 1142.4,955.9 1144.5,957.4C1146.6,958.9 1149.0,961.0 1150.3,964.1C1151.7,967.1 1152.1,971.0 1152.4,975.7C1152.8,980.4 1152.8,986.8 1152.4,992.4C1152.1,997.9 1151.2,1004.0 1150.3,1009.0C1149.4,1014.0 1148.5,1018.7 1147.0,1022.4C1145.5,1026.0 1143.5,1028.6 1141.2,1030.7C1138.8,1032.8 1135.6,1034.3 1132.9,1034.8C1130.1,1035.4 1127.7,1035.3 1124.5,1034.0C1121.3,1032.8 1116.5,1030.1 1113.7,1027.3C1110.9,1024.6 1109.1,1021.0 1107.9,1017.4C1106.7,1013.8 1106.6,1009.9 1106.6,1005.7C1106.7,1001.5 1107.4,997.1 1108.3,992.4C1109.2,987.7 1110.5,982.1 1112.0,977.4C1113.6,972.7 1116.1,967.2 1117.9,964.1C1119.7,961.0 1120.9,960.2 1122.9,958.7C1124.8,957.1 1127.0,955.5 1129.5,954.9Z"/><path d="M1129.5,959.1C1131.8,958.5 1134.9,958.7 1137.2,959.1C1139.5,959.5 1141.4,960.0 1143.3,961.4C1145.2,962.8 1147.4,964.7 1148.7,967.5C1149.9,970.3 1150.2,973.9 1150.6,978.2C1150.9,982.5 1150.9,988.4 1150.6,993.5C1150.2,998.6 1149.5,1004.2 1148.7,1008.8C1147.8,1013.4 1147.0,1017.7 1145.6,1021.0C1144.2,1024.3 1142.4,1026.8 1140.2,1028.7C1138.1,1030.6 1135.1,1032.0 1132.6,1032.5C1130.0,1033.0 1127.9,1032.9 1124.9,1031.7C1122.0,1030.6 1117.6,1028.2 1115.0,1025.6C1112.5,1023.1 1110.7,1019.8 1109.6,1016.4C1108.6,1013.1 1108.4,1009.6 1108.5,1005.7C1108.6,1001.9 1109.2,997.8 1110.0,993.5C1110.9,989.2 1112.0,984.1 1113.5,979.7C1114.9,975.4 1117.2,970.4 1118.8,967.5C1120.5,964.6 1121.6,963.9 1123.4,962.5C1125.2,961.1 1127.2,959.7 1129.5,959.1Z"/><path d="M1129.5,963.2C1131.6,962.7 1134.4,962.9 1136.5,963.2C1138.6,963.6 1140.3,964.1 1142.1,965.3C1143.8,966.6 1145.9,968.4 1147.0,970.9C1148.1,973.5 1148.4,976.7 1148.7,980.7C1149.0,984.6 1149.0,990.0 1148.7,994.6C1148.4,999.3 1147.7,1004.4 1147.0,1008.6C1146.2,1012.7 1145.4,1016.7 1144.2,1019.7C1142.9,1022.7 1141.3,1024.9 1139.3,1026.7C1137.3,1028.4 1134.6,1029.7 1132.3,1030.2C1130.0,1030.6 1128.0,1030.5 1125.4,1029.5C1122.7,1028.4 1118.6,1026.2 1116.3,1023.9C1114.0,1021.6 1112.4,1018.6 1111.4,1015.5C1110.4,1012.5 1110.3,1009.3 1110.4,1005.8C1110.4,1002.3 1111.0,998.6 1111.8,994.6C1112.5,990.7 1113.6,986.0 1114.9,982.1C1116.2,978.1 1118.3,973.5 1119.8,970.9C1121.3,968.3 1122.3,967.7 1124.0,966.4C1125.6,965.1 1127.4,963.8 1129.5,963.2Z"/><path d="M1129.5,967.4C1131.4,966.9 1133.9,967.1 1135.8,967.4C1137.7,967.7 1139.3,968.1 1140.9,969.3C1142.4,970.5 1144.3,972.0 1145.3,974.3C1146.3,976.6 1146.6,979.6 1146.8,983.1C1147.1,986.7 1147.1,991.5 1146.8,995.7C1146.6,999.9 1145.9,1004.5 1145.3,1008.3C1144.6,1012.1 1143.9,1015.7 1142.7,1018.4C1141.6,1021.1 1140.1,1023.1 1138.3,1024.7C1136.6,1026.3 1134.1,1027.4 1132.1,1027.8C1130.0,1028.3 1128.2,1028.1 1125.8,1027.2C1123.3,1026.3 1119.7,1024.3 1117.6,1022.2C1115.5,1020.1 1114.1,1017.3 1113.2,1014.6C1112.3,1011.9 1112.2,1009.0 1112.2,1005.8C1112.3,1002.7 1112.8,999.3 1113.5,995.7C1114.2,992.2 1115.1,988.0 1116.3,984.4C1117.5,980.8 1119.4,976.7 1120.7,974.3C1122.1,972.0 1123.0,971.4 1124.5,970.2C1126.0,969.1 1127.6,967.9 1129.5,967.4Z"/><path d="M1129.5,971.6C1131.2,971.2 1133.5,971.3 1135.1,971.6C1136.8,971.9 1138.2,972.2 1139.6,973.3C1141.0,974.3 1142.7,975.7 1143.6,977.8C1144.5,979.8 1144.7,982.4 1145.0,985.6C1145.2,988.8 1145.2,993.1 1145.0,996.9C1144.7,1000.6 1144.2,1004.7 1143.6,1008.1C1143.0,1011.5 1142.4,1014.6 1141.3,1017.1C1140.3,1019.5 1139.0,1021.3 1137.4,1022.7C1135.8,1024.1 1133.7,1025.1 1131.8,1025.5C1129.9,1025.9 1128.3,1025.8 1126.2,1024.9C1124.0,1024.1 1120.7,1022.3 1118.9,1020.4C1117.0,1018.6 1115.7,1016.1 1114.9,1013.7C1114.1,1011.3 1114.0,1008.6 1114.1,1005.8C1114.1,1003.0 1114.6,1000.0 1115.2,996.9C1115.8,993.7 1116.7,989.9 1117.7,986.7C1118.8,983.6 1120.5,979.9 1121.7,977.8C1122.9,975.6 1123.7,975.1 1125.0,974.1C1126.4,973.1 1127.8,972.0 1129.5,971.6Z"/><path d="M1129.5,975.7C1131.0,975.4 1133.0,975.5 1134.5,975.7C1136.0,976.0 1137.2,976.3 1138.4,977.2C1139.7,978.1 1141.1,979.4 1141.9,981.2C1142.7,983.0 1142.9,985.3 1143.1,988.1C1143.3,990.9 1143.3,994.7 1143.1,998.0C1142.9,1001.3 1142.4,1004.9 1141.9,1007.8C1141.3,1010.8 1140.8,1013.6 1139.9,1015.8C1139.0,1017.9 1137.8,1019.5 1136.4,1020.7C1135.0,1021.9 1133.2,1022.8 1131.5,1023.2C1129.9,1023.5 1128.5,1023.4 1126.6,1022.7C1124.7,1021.9 1121.8,1020.4 1120.1,1018.7C1118.5,1017.1 1117.4,1014.9 1116.7,1012.8C1116.0,1010.6 1115.9,1008.3 1115.9,1005.9C1116.0,1003.4 1116.4,1000.8 1116.9,998.0C1117.5,995.2 1118.2,991.9 1119.2,989.1C1120.1,986.3 1121.5,983.0 1122.6,981.2C1123.7,979.3 1124.4,978.9 1125.6,978.0C1126.7,977.1 1128.1,976.1 1129.5,975.7Z"/><path d="M1129.5,979.9C1130.8,979.6 1132.5,979.7 1133.8,979.9C1135.1,980.1 1136.1,980.4 1137.2,981.2C1138.3,982.0 1139.5,983.0 1140.2,984.6C1140.9,986.2 1141.1,988.1 1141.3,990.6C1141.4,993.0 1141.4,996.2 1141.3,999.1C1141.1,1001.9 1140.7,1005.1 1140.2,1007.6C1139.7,1010.2 1139.3,1012.6 1138.5,1014.4C1137.7,1016.3 1136.7,1017.6 1135.5,1018.7C1134.3,1019.8 1132.7,1020.5 1131.2,1020.8C1129.8,1021.1 1128.6,1021.0 1127.0,1020.4C1125.3,1019.8 1122.9,1018.4 1121.4,1017.0C1120.0,1015.6 1119.1,1013.7 1118.5,1011.9C1117.8,1010.0 1117.8,1008.0 1117.8,1005.9C1117.8,1003.8 1118.2,1001.5 1118.7,999.1C1119.1,996.7 1119.8,993.8 1120.6,991.4C1121.4,989.0 1122.6,986.2 1123.6,984.6C1124.5,983.0 1125.1,982.6 1126.1,981.8C1127.1,981.0 1128.3,980.2 1129.5,979.9Z"/><path d="M1129.5,984.1C1130.6,983.8 1132.0,983.9 1133.1,984.1C1134.2,984.3 1135.1,984.5 1136.0,985.1C1136.9,985.8 1137.9,986.7 1138.5,988.0C1139.1,989.3 1139.2,991.0 1139.4,993.0C1139.5,995.1 1139.5,997.8 1139.4,1000.2C1139.2,1002.6 1138.9,1005.2 1138.5,1007.4C1138.1,1009.5 1137.7,1011.6 1137.1,1013.1C1136.4,1014.7 1135.6,1015.8 1134.6,1016.7C1133.5,1017.6 1132.2,1018.2 1131.0,1018.5C1129.8,1018.7 1128.8,1018.7 1127.4,1018.1C1126.0,1017.6 1123.9,1016.5 1122.7,1015.3C1121.5,1014.1 1120.7,1012.5 1120.2,1011.0C1119.7,1009.4 1119.6,1007.7 1119.7,1005.9C1119.7,1004.1 1120.0,1002.2 1120.4,1000.2C1120.8,998.2 1121.3,995.8 1122.0,993.8C1122.7,991.7 1123.7,989.4 1124.5,988.0C1125.3,986.7 1125.8,986.3 1126.7,985.7C1127.5,985.0 1128.5,984.3 1129.5,984.1Z"/><path d="M1129.5,988.2C1130.4,988.0 1131.6,988.1 1132.4,988.2C1133.3,988.4 1134.0,988.6 1134.8,989.1C1135.5,989.6 1136.3,990.4 1136.8,991.4C1137.3,992.5 1137.4,993.9 1137.5,995.5C1137.7,997.2 1137.7,999.4 1137.5,1001.3C1137.4,1003.3 1137.1,1005.4 1136.8,1007.1C1136.5,1008.9 1136.2,1010.5 1135.6,1011.8C1135.1,1013.1 1134.4,1014.0 1133.6,1014.7C1132.8,1015.4 1131.7,1016.0 1130.7,1016.2C1129.7,1016.3 1128.9,1016.3 1127.8,1015.9C1126.7,1015.4 1125.0,1014.5 1124.0,1013.5C1123.0,1012.6 1122.4,1011.3 1122.0,1010.0C1121.6,1008.8 1121.5,1007.4 1121.5,1006.0C1121.6,1004.5 1121.8,1003.0 1122.1,1001.3C1122.4,999.7 1122.9,997.7 1123.4,996.1C1124.0,994.4 1124.8,992.5 1125.5,991.4C1126.1,990.3 1126.5,990.1 1127.2,989.5C1127.9,989.0 1128.7,988.5 1129.5,988.2Z"/><path d="M1129.5,992.4C1130.2,992.2 1131.1,992.3 1131.8,992.4C1132.4,992.5 1133.0,992.7 1133.5,993.1C1134.1,993.5 1134.8,994.0 1135.1,994.9C1135.5,995.7 1135.6,996.7 1135.7,998.0C1135.8,999.2 1135.8,1001.0 1135.7,1002.4C1135.6,1003.9 1135.4,1005.6 1135.1,1006.9C1134.9,1008.2 1134.6,1009.5 1134.2,1010.5C1133.8,1011.4 1133.3,1012.1 1132.7,1012.7C1132.0,1013.3 1131.2,1013.7 1130.4,1013.8C1129.7,1014.0 1129.0,1013.9 1128.2,1013.6C1127.3,1013.3 1126.0,1012.6 1125.3,1011.8C1124.6,1011.1 1124.0,1010.1 1123.7,1009.1C1123.4,1008.2 1123.4,1007.1 1123.4,1006.0C1123.4,1004.9 1123.6,1003.7 1123.8,1002.4C1124.1,1001.2 1124.4,999.7 1124.8,998.4C1125.3,997.2 1125.9,995.7 1126.4,994.9C1126.9,994.0 1127.2,993.8 1127.7,993.4C1128.3,993.0 1128.9,992.6 1129.5,992.4Z"/><path d="M1129.5,996.6C1130.0,996.4 1130.6,996.5 1131.1,996.6C1131.6,996.6 1131.9,996.7 1132.3,997.0C1132.7,997.3 1133.2,997.7 1133.4,998.3C1133.7,998.8 1133.7,999.6 1133.8,1000.4C1133.9,1001.3 1133.9,1002.5 1133.8,1003.6C1133.7,1004.6 1133.6,1005.7 1133.4,1006.7C1133.2,1007.6 1133.1,1008.5 1132.8,1009.1C1132.5,1009.8 1132.1,1010.3 1131.7,1010.7C1131.3,1011.1 1130.7,1011.4 1130.2,1011.5C1129.6,1011.6 1129.2,1011.6 1128.6,1011.3C1128.0,1011.1 1127.1,1010.6 1126.6,1010.1C1126.1,1009.6 1125.7,1008.9 1125.5,1008.2C1125.3,1007.5 1125.2,1006.8 1125.3,1006.0C1125.3,1005.3 1125.4,1004.4 1125.6,1003.6C1125.7,1002.7 1126.0,1001.6 1126.3,1000.8C1126.6,999.9 1127.0,998.9 1127.4,998.3C1127.7,997.7 1127.9,997.5 1128.3,997.3C1128.7,997.0 1129.1,996.7 1129.5,996.6Z"/></g>
<rect x="1186.1" y="917.6" width="125.5" height="133" fill="none" stroke="#111" stroke-width="1.4"/>
<text x="1248.1999999999998" y="876.3" text-anchor="middle" font-size="18.6" fill="#111">HA<tspan dy="-6" font-size="13">+</tspan><tspan dy="6">MHCII</tspan><tspan dy="-6" font-size="13">+</tspan><tspan dy="6"> DCs</tspan></text>
<text x="1248.1999999999998" y="909" text-anchor="middle" font-size="18.6" fill="#111">0.00</text>
<g fill="#000"><rect x="1120.4" y="934.5" width="4.0" height="4.0"/><rect x="1146.5" y="933.6" width="4.0" height="4.0"/><rect x="1152.9" y="941.0" width="4.0" height="4.0"/><rect x="1115.3" y="941.9" width="4.0" height="4.0"/><rect x="1108.9" y="950.9" width="4.0" height="4.0"/><rect x="1103.7" y="959.0" width="4.0" height="4.0"/><rect x="1160.6" y="976.6" width="4.0" height="4.0"/><rect x="1166.4" y="981.8" width="4.0" height="4.0"/><rect x="1167.4" y="998.8" width="4.0" height="4.0"/><rect x="1167.4" y="1000.8" width="4.0" height="4.0"/><rect x="1165.1" y="1005.6" width="4.0" height="4.0"/><rect x="1152.9" y="1026.2" width="4.0" height="4.0"/><rect x="1162.2" y="1026.2" width="4.0" height="4.0"/><rect x="1098.9" y="1030.3" width="4.0" height="4.0"/><rect x="1106.9" y="1035.5" width="4.0" height="4.0"/><rect x="1135.9" y="1041.9" width="4.0" height="4.0"/><rect x="1182.1" y="971.5" width="4.0" height="4.0"/><rect x="1178.9" y="978.9" width="4.0" height="4.0"/></g>
<rect x="1389.1" y="825.8" width="266.0" height="263.70000000000005" fill="#fff" stroke="#8a8a8a" stroke-width="1.1"/>
<text x="1524.8" y="810" text-anchor="middle" font-size="22.9" fill="#111">Low DIPs</text>
<line x1="1381.6" x2="1389.1" y1="838.5" y2="838.5" stroke="#111" stroke-width="1.5"/>
<text x="1378.1" y="843.9" text-anchor="end" font-size="12.3" font-weight="bold" fill="#111">250K</text>
<line x1="1381.6" x2="1389.1" y1="888" y2="888" stroke="#111" stroke-width="1.5"/>
<text x="1378.1" y="893.4" text-anchor="end" font-size="12.3" font-weight="bold" fill="#111">200K</text>
<line x1="1381.6" x2="1389.1" y1="937.8" y2="937.8" stroke="#111" stroke-width="1.5"/>
<text x="1378.1" y="943.1999999999999" text-anchor="end" font-size="12.3" font-weight="bold" fill="#111">150K</text>
<line x1="1381.6" x2="1389.1" y1="988.9" y2="988.9" stroke="#111" stroke-width="1.5"/>
<text x="1378.1" y="994.3" text-anchor="end" font-size="12.3" font-weight="bold" fill="#111">100K</text>
<line x1="1381.6" x2="1389.1" y1="1038.1" y2="1038.1" stroke="#111" stroke-width="1.5"/>
<text x="1378.1" y="1043.5" text-anchor="end" font-size="12.3" font-weight="bold" fill="#111">50K</text>
<line x1="1381.6" x2="1389.1" y1="1088.6" y2="1088.6" stroke="#111" stroke-width="1.5"/>
<text x="1378.1" y="1089.3999999999999" text-anchor="end" font-size="12.3" font-weight="bold" fill="#111">0</text>
<line x1="1385.8999999999999" x2="1389.1" y1="1078.6" y2="1078.6" stroke="#222" stroke-width="1.0"/>
<line x1="1385.8999999999999" x2="1389.1" y1="1068.6" y2="1068.6" stroke="#222" stroke-width="1.0"/>
<line x1="1385.8999999999999" x2="1389.1" y1="1058.7" y2="1058.7" stroke="#222" stroke-width="1.0"/>
<line x1="1385.8999999999999" x2="1389.1" y1="1048.7" y2="1048.7" stroke="#222" stroke-width="1.0"/>
<line x1="1385.8999999999999" x2="1389.1" y1="1028.7" y2="1028.7" stroke="#222" stroke-width="1.0"/>
<line x1="1385.8999999999999" x2="1389.1" y1="1018.7" y2="1018.7" stroke="#222" stroke-width="1.0"/>
<line x1="1385.8999999999999" x2="1389.1" y1="1008.8" y2="1008.8" stroke="#222" stroke-width="1.0"/>
<line x1="1385.8999999999999" x2="1389.1" y1="998.8" y2="998.8" stroke="#222" stroke-width="1.0"/>
<line x1="1385.8999999999999" x2="1389.1" y1="978.8" y2="978.8" stroke="#222" stroke-width="1.0"/>
<line x1="1385.8999999999999" x2="1389.1" y1="968.8" y2="968.8" stroke="#222" stroke-width="1.0"/>
<line x1="1385.8999999999999" x2="1389.1" y1="958.9" y2="958.9" stroke="#222" stroke-width="1.0"/>
<line x1="1385.8999999999999" x2="1389.1" y1="948.9" y2="948.9" stroke="#222" stroke-width="1.0"/>
<line x1="1385.8999999999999" x2="1389.1" y1="928.9" y2="928.9" stroke="#222" stroke-width="1.0"/>
<line x1="1385.8999999999999" x2="1389.1" y1="918.9" y2="918.9" stroke="#222" stroke-width="1.0"/>
<line x1="1385.8999999999999" x2="1389.1" y1="909.0" y2="909.0" stroke="#222" stroke-width="1.0"/>
<line x1="1385.8999999999999" x2="1389.1" y1="899.0" y2="899.0" stroke="#222" stroke-width="1.0"/>
<line x1="1385.8999999999999" x2="1389.1" y1="879.0" y2="879.0" stroke="#222" stroke-width="1.0"/>
<line x1="1385.8999999999999" x2="1389.1" y1="869.0" y2="869.0" stroke="#222" stroke-width="1.0"/>
<line x1="1385.8999999999999" x2="1389.1" y1="859.1" y2="859.1" stroke="#222" stroke-width="1.0"/>
<line x1="1385.8999999999999" x2="1389.1" y1="849.1" y2="849.1" stroke="#222" stroke-width="1.0"/>
<line x1="1385.8999999999999" x2="1389.1" y1="829.1" y2="829.1" stroke="#222" stroke-width="1.0"/>
<line x1="1405.1" x2="1405.1" y1="1089.5" y2="1096.3" stroke="#111" stroke-width="1.5"/>
<line x1="1492.6" x2="1492.6" y1="1089.5" y2="1096.3" stroke="#111" stroke-width="1.5"/>
<line x1="1565.1" x2="1565.1" y1="1089.5" y2="1096.3" stroke="#111" stroke-width="1.5"/>
<line x1="1629.0" x2="1629.0" y1="1089.5" y2="1096.3" stroke="#111" stroke-width="1.5"/>
<rect x="1443.3" y="1089.5" width="11.1" height="3.2" fill="#111"/>
<line x1="1444.1" x2="1444.1" y1="1089.5" y2="1096.3" stroke="#111" stroke-width="1.6"/>
<line x1="1448.2" x2="1448.2" y1="1089.5" y2="1096.3" stroke="#111" stroke-width="1.6"/>
<line x1="1451.8" x2="1451.8" y1="1089.5" y2="1096.3" stroke="#111" stroke-width="1.6"/>
<line x1="1454.2" x2="1454.2" y1="1089.5" y2="1096.3" stroke="#111" stroke-width="1.6"/>
<line x1="1408.4" x2="1408.4" y1="1089.5" y2="1092.9" stroke="#111" stroke-width="1.1"/>
<line x1="1410.6" x2="1410.6" y1="1089.5" y2="1092.9" stroke="#111" stroke-width="1.1"/>
<line x1="1413.3" x2="1413.3" y1="1089.5" y2="1092.9" stroke="#111" stroke-width="1.1"/>
<line x1="1416.6" x2="1416.6" y1="1089.5" y2="1092.9" stroke="#111" stroke-width="1.1"/>
<line x1="1420.3" x2="1420.3" y1="1089.5" y2="1092.9" stroke="#111" stroke-width="1.1"/>
<line x1="1427.7" x2="1427.7" y1="1089.5" y2="1092.9" stroke="#111" stroke-width="1.1"/>
<line x1="1431.4" x2="1431.4" y1="1089.5" y2="1092.9" stroke="#111" stroke-width="1.1"/>
<line x1="1435.1" x2="1435.1" y1="1089.5" y2="1092.9" stroke="#111" stroke-width="1.1"/>
<line x1="1439.6" x2="1439.6" y1="1089.5" y2="1092.9" stroke="#111" stroke-width="1.1"/>
<line x1="1458.9" x2="1458.9" y1="1089.5" y2="1092.9" stroke="#111" stroke-width="1.1"/>
<line x1="1464.1" x2="1464.1" y1="1089.5" y2="1092.9" stroke="#111" stroke-width="1.1"/>
<line x1="1468.6" x2="1468.6" y1="1089.5" y2="1092.9" stroke="#111" stroke-width="1.1"/>
<line x1="1476.7" x2="1476.7" y1="1089.5" y2="1092.9" stroke="#111" stroke-width="1.1"/>
<line x1="1480.4" x2="1480.4" y1="1089.5" y2="1092.9" stroke="#111" stroke-width="1.1"/>
<line x1="1483.4" x2="1483.4" y1="1089.5" y2="1092.9" stroke="#111" stroke-width="1.1"/>
<line x1="1486.4" x2="1486.4" y1="1089.5" y2="1092.9" stroke="#111" stroke-width="1.1"/>
<line x1="1488.9" x2="1488.9" y1="1089.5" y2="1092.9" stroke="#111" stroke-width="1.1"/>
<line x1="1515.3" x2="1515.3" y1="1089.5" y2="1092.9" stroke="#111" stroke-width="1.1"/>
<line x1="1528.7" x2="1528.7" y1="1089.5" y2="1092.9" stroke="#111" stroke-width="1.1"/>
<line x1="1538.4" x2="1538.4" y1="1089.5" y2="1092.9" stroke="#111" stroke-width="1.1"/>
<line x1="1551.7" x2="1551.7" y1="1089.5" y2="1092.9" stroke="#111" stroke-width="1.1"/>
<line x1="1556.2" x2="1556.2" y1="1089.5" y2="1092.9" stroke="#111" stroke-width="1.1"/>
<line x1="1559.6" x2="1559.6" y1="1089.5" y2="1092.9" stroke="#111" stroke-width="1.1"/>
<line x1="1562.6" x2="1562.6" y1="1089.5" y2="1092.9" stroke="#111" stroke-width="1.1"/>
<line x1="1585.1" x2="1585.1" y1="1089.5" y2="1092.9" stroke="#111" stroke-width="1.1"/>
<line x1="1597.0" x2="1597.0" y1="1089.5" y2="1092.9" stroke="#111" stroke-width="1.1"/>
<line x1="1604.5" x2="1604.5" y1="1089.5" y2="1092.9" stroke="#111" stroke-width="1.1"/>
<line x1="1615.6" x2="1615.6" y1="1089.5" y2="1092.9" stroke="#111" stroke-width="1.1"/>
<line x1="1620.1" x2="1620.1" y1="1089.5" y2="1092.9" stroke="#111" stroke-width="1.1"/>
<line x1="1623.3" x2="1623.3" y1="1089.5" y2="1092.9" stroke="#111" stroke-width="1.1"/>
<line x1="1626.4" x2="1626.4" y1="1089.5" y2="1092.9" stroke="#111" stroke-width="1.1"/>
<line x1="1646.8" x2="1646.8" y1="1089.5" y2="1092.9" stroke="#111" stroke-width="1.1"/>
<line x1="1424.0" x2="1424.0" y1="1089.5" y2="1094.5" stroke="#222" stroke-width="1.1"/>
<line x1="1472.6" x2="1472.6" y1="1089.5" y2="1094.5" stroke="#222" stroke-width="1.1"/>
<line x1="1545.8" x2="1545.8" y1="1089.5" y2="1094.5" stroke="#222" stroke-width="1.1"/>
<line x1="1610.4" x2="1610.4" y1="1089.5" y2="1094.5" stroke="#222" stroke-width="1.1"/>
<text x="1402.5" y="1117.3" font-size="11.6" font-weight="bold" fill="#111">-10<tspan dy="-9.5" dx="0.8">3</tspan></text>
<text x="1492.3" y="1117.3" font-size="11.6" font-weight="bold" fill="#111">10<tspan dy="-9.5" dx="0.8">3</tspan></text>
<text x="1565.1" y="1117.3" font-size="11.6" font-weight="bold" fill="#111">10<tspan dy="-9.5" dx="0.8">4</tspan></text>
<text x="1628.2" y="1117.3" font-size="11.6" font-weight="bold" fill="#111">10<tspan dy="-9.5" dx="0.8">5</tspan></text>
<text x="1454.2" y="1117.3" text-anchor="middle" font-size="11.6" font-weight="bold" fill="#111">0</text>
<ellipse cx="1487.2" cy="1004.4" rx="6" ry="9" fill="#777" opacity="0.5" filter="url(#blur2)"/>
<ellipse cx="1460.7" cy="1026.2" rx="16" ry="14" fill="#777" opacity="0.5" filter="url(#blur2)"/>
<ellipse cx="1451.0" cy="1009.3" rx="10" ry="10" fill="#777" opacity="0.4" filter="url(#blur2)"/>
<g fill="none" stroke="#2a2a2a" stroke-width="0.82"><path d="M1494.4,932.1C1498.1,932.4 1503.3,932.9 1506.5,934.5C1509.7,936.1 1511.3,938.9 1513.7,941.7C1516.2,944.5 1518.6,946.9 1521.0,951.4C1523.4,955.8 1526.2,962.2 1528.2,968.3C1530.2,974.3 1531.6,981.5 1533.0,987.6C1534.4,993.6 1536.1,1000.0 1536.7,1004.4C1537.3,1008.9 1537.5,1011.1 1536.7,1014.1C1535.9,1017.1 1534.2,1019.5 1531.8,1022.5C1529.4,1025.5 1525.4,1029.4 1522.2,1032.2C1519.0,1035.0 1516.0,1037.0 1512.5,1039.4C1509.1,1041.8 1505.5,1044.6 1501.7,1046.7C1497.9,1048.7 1493.6,1050.7 1489.6,1051.5C1485.6,1052.3 1481.8,1052.1 1477.6,1051.5C1473.3,1050.9 1468.9,1049.7 1464.3,1047.9C1459.7,1046.1 1454.0,1043.4 1449.8,1040.6C1445.6,1037.8 1441.8,1034.2 1439.0,1031.0C1436.1,1027.8 1434.3,1025.3 1432.9,1021.3C1431.5,1017.3 1430.5,1012.1 1430.5,1006.9C1430.5,1001.6 1431.5,995.6 1432.9,990.0C1434.3,984.3 1436.3,978.5 1439.0,973.1C1441.6,967.6 1445.0,962.0 1448.6,957.4C1452.2,952.8 1456.2,949.0 1460.7,945.3C1465.1,941.7 1471.1,937.8 1475.1,935.7C1479.2,933.6 1481.6,933.3 1484.8,932.7C1488.0,932.1 1490.8,931.8 1494.4,932.1Z"/><path d="M1494.1,934.5C1497.6,934.8 1502.3,935.2 1505.3,936.7C1508.3,938.2 1509.8,940.8 1511.9,943.5C1514.1,946.3 1516.2,948.9 1518.3,953.2C1520.3,957.5 1522.6,963.7 1524.3,969.5C1526.0,975.2 1527.1,981.8 1528.2,987.6C1529.4,993.3 1530.8,999.5 1531.2,1003.8C1531.7,1008.2 1531.8,1010.5 1531.1,1013.5C1530.3,1016.5 1528.8,1019.0 1526.7,1021.9C1524.6,1024.8 1521.1,1028.3 1518.3,1031.0C1515.4,1033.6 1512.6,1035.6 1509.5,1037.9C1506.4,1040.2 1503.1,1042.8 1499.6,1044.7C1496.0,1046.6 1492.1,1048.3 1488.4,1049.1C1484.7,1049.8 1481.2,1049.6 1477.2,1049.1C1473.3,1048.5 1469.0,1047.3 1464.6,1045.6C1460.2,1043.9 1455.0,1041.5 1451.0,1038.8C1447.0,1036.2 1443.4,1032.7 1440.8,1029.6C1438.1,1026.6 1436.4,1024.3 1435.0,1020.4C1433.7,1016.6 1432.6,1011.6 1432.6,1006.6C1432.6,1001.5 1433.5,995.7 1434.9,990.3C1436.2,984.8 1438.2,979.2 1440.8,974.0C1443.3,968.8 1446.6,963.4 1450.1,958.9C1453.6,954.5 1457.3,950.8 1461.6,947.3C1465.8,943.8 1471.6,940.1 1475.4,938.1C1479.3,936.1 1481.7,935.7 1484.8,935.1C1487.9,934.5 1490.7,934.2 1494.1,934.5Z"/><path d="M1493.8,936.9C1497.1,937.1 1501.4,937.6 1504.1,939.0C1506.8,940.4 1508.2,942.7 1510.1,945.3C1512.0,948.0 1513.8,950.8 1515.5,955.0C1517.3,959.2 1519.1,965.2 1520.4,970.7C1521.7,976.1 1522.5,982.1 1523.4,987.6C1524.3,993.0 1525.5,999.0 1525.8,1003.2C1526.2,1007.5 1526.2,1009.9 1525.5,1012.9C1524.8,1015.9 1523.4,1018.5 1521.6,1021.3C1519.7,1024.1 1516.9,1027.3 1514.3,1029.8C1511.8,1032.3 1509.3,1034.2 1506.5,1036.4C1503.7,1038.6 1500.7,1041.0 1497.5,1042.7C1494.2,1044.4 1490.6,1046.0 1487.2,1046.7C1483.8,1047.3 1480.7,1047.2 1476.9,1046.7C1473.2,1046.1 1469.0,1044.9 1464.9,1043.3C1460.8,1041.7 1455.9,1039.5 1452.2,1037.0C1448.5,1034.5 1445.1,1031.2 1442.6,1028.3C1440.1,1025.3 1438.4,1023.2 1437.1,1019.5C1435.8,1015.8 1434.8,1011.1 1434.7,1006.2C1434.7,1001.4 1435.5,995.8 1436.8,990.6C1438.1,985.3 1440.1,979.9 1442.6,974.9C1445.0,969.9 1448.3,964.7 1451.6,960.4C1454.9,956.1 1458.5,952.6 1462.5,949.3C1466.5,945.9 1472.0,942.5 1475.7,940.5C1479.5,938.5 1481.8,938.1 1484.8,937.5C1487.8,936.9 1490.6,936.6 1493.8,936.9Z"/><path d="M1493.5,939.3C1496.6,939.5 1500.4,940.0 1502.9,941.3C1505.3,942.6 1506.7,944.6 1508.3,947.1C1510.0,949.7 1511.5,952.7 1512.8,956.8C1514.2,960.9 1515.5,966.7 1516.5,971.9C1517.4,977.0 1517.9,982.4 1518.6,987.6C1519.2,992.7 1520.1,998.5 1520.4,1002.6C1520.6,1006.8 1520.6,1009.3 1519.9,1012.3C1519.3,1015.3 1518.0,1018.0 1516.5,1020.7C1514.9,1023.4 1512.6,1026.2 1510.4,1028.6C1508.3,1030.9 1506.0,1032.9 1503.5,1034.9C1501.0,1036.9 1498.3,1039.2 1495.3,1040.8C1492.4,1042.3 1489.1,1043.7 1486.0,1044.2C1482.9,1044.8 1480.1,1044.8 1476.6,1044.2C1473.2,1043.7 1469.1,1042.6 1465.2,1041.1C1461.3,1039.6 1456.9,1037.6 1453.4,1035.2C1450.0,1032.8 1446.7,1029.7 1444.4,1026.9C1442.0,1024.1 1440.5,1022.1 1439.3,1018.6C1438.0,1015.1 1436.9,1010.6 1436.8,1005.9C1436.8,1001.3 1437.5,995.9 1438.8,990.9C1440.1,985.8 1442.0,980.6 1444.4,975.8C1446.8,971.0 1450.0,966.0 1453.1,961.9C1456.3,957.8 1459.6,954.4 1463.4,951.2C1467.2,948.0 1472.5,944.8 1476.0,942.9C1479.6,941.0 1481.9,940.5 1484.8,939.9C1487.7,939.3 1490.5,939.1 1493.5,939.3Z"/><path d="M1493.2,941.7C1496.0,941.9 1499.5,942.3 1501.7,943.5C1503.9,944.7 1505.1,946.4 1506.5,949.0C1507.9,951.5 1509.1,954.6 1510.1,958.6C1511.1,962.6 1511.9,968.3 1512.5,973.1C1513.1,977.9 1513.3,982.7 1513.7,987.6C1514.1,992.4 1514.8,998.0 1514.9,1002.0C1515.0,1006.0 1514.9,1008.7 1514.3,1011.7C1513.7,1014.7 1512.6,1017.5 1511.3,1020.1C1510.0,1022.7 1508.3,1025.1 1506.5,1027.4C1504.7,1029.6 1502.7,1031.5 1500.5,1033.4C1498.3,1035.3 1495.8,1037.4 1493.2,1038.8C1490.6,1040.2 1487.6,1041.3 1484.8,1041.8C1482.0,1042.3 1479.6,1042.3 1476.3,1041.8C1473.1,1041.3 1469.1,1040.2 1465.5,1038.8C1461.9,1037.4 1457.8,1035.6 1454.6,1033.4C1451.4,1031.2 1448.4,1028.2 1446.2,1025.5C1444.0,1022.9 1442.6,1021.0 1441.4,1017.7C1440.2,1014.4 1439.1,1010.1 1439.0,1005.6C1438.9,1001.2 1439.6,996.0 1440.8,991.2C1442.0,986.3 1443.9,981.3 1446.2,976.7C1448.5,972.1 1451.6,967.3 1454.6,963.4C1457.6,959.5 1460.7,956.2 1464.3,953.2C1467.9,950.2 1472.9,947.1 1476.3,945.3C1479.8,943.5 1482.0,942.9 1484.8,942.3C1487.6,941.7 1490.4,941.5 1493.2,941.7Z"/><path d="M1492.2,945.4C1494.9,945.6 1498.1,945.9 1500.2,947.1C1502.3,948.2 1503.4,949.8 1504.8,952.2C1506.1,954.6 1507.2,957.5 1508.2,961.3C1509.1,965.1 1509.9,970.4 1510.5,975.0C1511.0,979.6 1511.2,984.1 1511.6,988.7C1512.0,993.2 1512.7,998.6 1512.8,1002.4C1512.9,1006.2 1512.8,1008.6 1512.2,1011.5C1511.6,1014.3 1510.6,1017.0 1509.3,1019.5C1508.1,1021.9 1506.5,1024.2 1504.8,1026.3C1503.1,1028.4 1501.2,1030.2 1499.1,1032.0C1497.0,1033.8 1494.7,1035.8 1492.2,1037.1C1489.8,1038.5 1486.9,1039.5 1484.3,1040.0C1481.6,1040.5 1479.3,1040.5 1476.3,1040.0C1473.2,1039.5 1469.4,1038.5 1466.0,1037.1C1462.6,1035.8 1458.8,1034.1 1455.8,1032.0C1452.7,1029.9 1449.9,1027.1 1447.8,1024.6C1445.7,1022.1 1444.4,1020.3 1443.2,1017.2C1442.1,1014.0 1441.0,1010.0 1440.9,1005.8C1440.8,1001.6 1441.5,996.7 1442.7,992.1C1443.8,987.5 1445.6,982.8 1447.8,978.4C1450.0,974.1 1452.9,969.6 1455.8,965.9C1458.6,962.2 1461.5,959.0 1464.9,956.2C1468.3,953.3 1473.0,950.5 1476.3,948.8C1479.5,947.1 1481.6,946.5 1484.3,945.9C1486.9,945.4 1489.6,945.2 1492.2,945.4Z"/><path d="M1491.2,949.0C1493.7,949.2 1496.8,949.5 1498.8,950.6C1500.7,951.7 1501.8,953.2 1503.1,955.5C1504.3,957.7 1505.4,960.5 1506.3,964.0C1507.2,967.6 1507.9,972.6 1508.4,976.9C1509.0,981.2 1509.1,985.5 1509.5,989.8C1509.9,994.1 1510.5,999.1 1510.6,1002.7C1510.7,1006.3 1510.6,1008.6 1510.0,1011.3C1509.5,1014.0 1508.5,1016.5 1507.3,1018.8C1506.2,1021.1 1504.7,1023.3 1503.1,1025.2C1501.4,1027.2 1499.7,1028.9 1497.7,1030.6C1495.7,1032.3 1493.6,1034.2 1491.2,1035.4C1488.9,1036.7 1486.2,1037.7 1483.7,1038.1C1481.2,1038.6 1479.1,1038.6 1476.2,1038.1C1473.3,1037.7 1469.8,1036.7 1466.6,1035.4C1463.3,1034.2 1459.8,1032.6 1456.9,1030.6C1454.0,1028.6 1451.3,1026.0 1449.4,1023.6C1447.4,1021.3 1446.2,1019.6 1445.1,1016.6C1444.0,1013.7 1443.0,1009.8 1442.9,1005.9C1442.8,1002.0 1443.5,997.3 1444.5,993.0C1445.6,988.7 1447.3,984.3 1449.4,980.1C1451.4,976.0 1454.2,971.8 1456.9,968.3C1459.6,964.8 1462.3,961.9 1465.5,959.2C1468.7,956.5 1473.2,953.8 1476.2,952.2C1479.3,950.6 1481.2,950.1 1483.7,949.5C1486.2,949.0 1488.7,948.8 1491.2,949.0Z"/><path d="M1490.2,952.7C1492.6,952.8 1495.5,953.2 1497.3,954.2C1499.1,955.2 1500.2,956.6 1501.3,958.7C1502.5,960.8 1503.5,963.4 1504.3,966.8C1505.2,970.1 1505.9,974.8 1506.4,978.8C1506.9,982.9 1507.0,986.9 1507.4,990.9C1507.7,995.0 1508.3,999.7 1508.4,1003.0C1508.5,1006.4 1508.4,1008.6 1507.9,1011.1C1507.4,1013.6 1506.4,1015.9 1505.4,1018.1C1504.3,1020.3 1502.8,1022.3 1501.3,1024.2C1499.8,1026.0 1498.1,1027.6 1496.3,1029.2C1494.4,1030.8 1492.4,1032.6 1490.2,1033.7C1488.1,1034.9 1485.5,1035.8 1483.2,1036.3C1480.8,1036.7 1478.8,1036.7 1476.1,1036.3C1473.5,1035.8 1470.1,1034.9 1467.1,1033.7C1464.1,1032.6 1460.7,1031.1 1458.0,1029.2C1455.3,1027.4 1452.8,1024.8 1451.0,1022.7C1449.1,1020.5 1447.9,1018.9 1446.9,1016.1C1445.9,1013.3 1445.0,1009.7 1444.9,1006.0C1444.8,1002.4 1445.4,998.0 1446.4,994.0C1447.4,989.9 1449.0,985.7 1451.0,981.9C1452.9,978.0 1455.5,974.1 1458.0,970.8C1460.5,967.5 1463.1,964.7 1466.1,962.2C1469.1,959.7 1473.3,957.2 1476.1,955.7C1479.0,954.2 1480.8,953.7 1483.2,953.2C1485.5,952.7 1487.9,952.5 1490.2,952.7Z"/><path d="M1489.3,956.3C1491.4,956.5 1494.1,956.8 1495.8,957.7C1497.6,958.7 1498.5,960.0 1499.6,962.0C1500.7,963.9 1501.6,966.3 1502.4,969.5C1503.2,972.6 1503.8,977.0 1504.3,980.8C1504.8,984.5 1504.9,988.3 1505.2,992.1C1505.6,995.8 1506.1,1000.2 1506.2,1003.4C1506.3,1006.5 1506.2,1008.5 1505.7,1010.9C1505.2,1013.2 1504.4,1015.4 1503.4,1017.5C1502.3,1019.5 1501.0,1021.4 1499.6,1023.1C1498.2,1024.8 1496.6,1026.3 1494.9,1027.8C1493.2,1029.3 1491.3,1031.0 1489.3,1032.1C1487.2,1033.1 1484.9,1034.0 1482.7,1034.4C1480.5,1034.8 1478.6,1034.8 1476.1,1034.4C1473.6,1034.0 1470.4,1033.1 1467.6,1032.1C1464.8,1031.0 1461.7,1029.5 1459.1,1027.8C1456.6,1026.1 1454.3,1023.7 1452.6,1021.7C1450.8,1019.7 1449.7,1018.2 1448.8,1015.6C1447.9,1013.0 1447.0,1009.6 1446.9,1006.2C1446.8,1002.7 1447.4,998.6 1448.3,994.9C1449.3,991.1 1450.8,987.2 1452.6,983.6C1454.4,980.0 1456.8,976.3 1459.1,973.2C1461.5,970.2 1463.8,967.6 1466.7,965.2C1469.5,962.9 1473.4,960.5 1476.1,959.1C1478.7,957.7 1480.5,957.2 1482.7,956.8C1484.9,956.3 1487.1,956.2 1489.3,956.3Z"/><path d="M1488.3,960.0C1490.3,960.1 1492.8,960.4 1494.4,961.3C1496.0,962.1 1496.9,963.4 1497.9,965.2C1498.9,967.0 1499.8,969.3 1500.5,972.2C1501.2,975.1 1501.8,979.2 1502.2,982.7C1502.7,986.2 1502.8,989.7 1503.1,993.2C1503.4,996.7 1503.9,1000.8 1504.0,1003.7C1504.1,1006.6 1504.0,1008.5 1503.6,1010.7C1503.1,1012.9 1502.3,1014.9 1501.4,1016.8C1500.4,1018.7 1499.2,1020.4 1497.9,1022.1C1496.6,1023.7 1495.1,1025.0 1493.5,1026.4C1491.9,1027.8 1490.2,1029.3 1488.3,1030.4C1486.4,1031.4 1484.2,1032.2 1482.1,1032.5C1480.1,1032.9 1478.3,1032.9 1476.0,1032.5C1473.7,1032.2 1470.8,1031.4 1468.1,1030.4C1465.5,1029.3 1462.6,1028.0 1460.3,1026.4C1457.9,1024.8 1455.8,1022.6 1454.1,1020.7C1452.5,1018.8 1451.5,1017.5 1450.7,1015.1C1449.8,1012.6 1449.0,1009.5 1448.9,1006.3C1448.8,1003.1 1449.3,999.3 1450.2,995.8C1451.1,992.3 1452.5,988.7 1454.1,985.3C1455.8,982.0 1458.1,978.5 1460.3,975.7C1462.5,972.9 1464.6,970.5 1467.3,968.3C1469.9,966.1 1473.5,963.9 1476.0,962.6C1478.5,961.3 1480.1,960.8 1482.1,960.4C1484.2,960.0 1486.2,959.8 1488.3,960.0Z"/><path d="M1487.3,963.6C1489.1,963.7 1491.4,964.0 1492.9,964.8C1494.4,965.6 1495.2,966.8 1496.2,968.5C1497.1,970.1 1497.9,972.2 1498.6,974.9C1499.3,977.6 1499.8,981.4 1500.2,984.6C1500.6,987.9 1500.7,991.1 1501.0,994.3C1501.3,997.6 1501.7,1001.3 1501.8,1004.0C1501.9,1006.7 1501.8,1008.5 1501.4,1010.5C1501.0,1012.5 1500.3,1014.4 1499.4,1016.1C1498.5,1017.9 1497.4,1019.5 1496.2,1021.0C1494.9,1022.5 1493.6,1023.8 1492.1,1025.0C1490.6,1026.3 1489.0,1027.7 1487.3,1028.7C1485.5,1029.6 1483.5,1030.4 1481.6,1030.7C1479.7,1031.0 1478.1,1031.0 1475.9,1030.7C1473.8,1030.4 1471.1,1029.6 1468.7,1028.7C1466.2,1027.7 1463.6,1026.5 1461.4,1025.0C1459.2,1023.5 1457.2,1021.5 1455.7,1019.8C1454.3,1018.0 1453.3,1016.7 1452.5,1014.5C1451.7,1012.3 1451.0,1009.4 1450.9,1006.4C1450.8,1003.5 1451.3,1000.0 1452.1,996.7C1452.9,993.5 1454.2,990.1 1455.7,987.0C1457.3,983.9 1459.4,980.8 1461.4,978.2C1463.4,975.5 1465.4,973.3 1467.9,971.3C1470.3,969.3 1473.7,967.2 1475.9,966.0C1478.2,964.8 1479.7,964.4 1481.6,964.0C1483.5,963.6 1485.4,963.5 1487.3,963.6Z"/><path d="M1486.3,967.3C1488.0,967.4 1490.1,967.6 1491.5,968.4C1492.8,969.1 1493.6,970.2 1494.4,971.7C1495.3,973.3 1496.0,975.2 1496.7,977.6C1497.3,980.1 1497.8,983.6 1498.1,986.5C1498.5,989.5 1498.6,992.5 1498.9,995.4C1499.1,998.4 1499.6,1001.9 1499.6,1004.3C1499.7,1006.8 1499.6,1008.4 1499.2,1010.3C1498.9,1012.1 1498.2,1013.9 1497.4,1015.5C1496.6,1017.1 1495.5,1018.6 1494.4,1019.9C1493.3,1021.3 1492.1,1022.5 1490.7,1023.6C1489.4,1024.8 1487.9,1026.1 1486.3,1027.0C1484.7,1027.8 1482.8,1028.5 1481.1,1028.8C1479.3,1029.1 1477.9,1029.1 1475.9,1028.8C1473.9,1028.5 1471.4,1027.8 1469.2,1027.0C1467.0,1026.1 1464.5,1025.0 1462.5,1023.6C1460.5,1022.3 1458.7,1020.4 1457.3,1018.8C1456.0,1017.2 1455.1,1016.0 1454.4,1014.0C1453.6,1012.0 1452.9,1009.3 1452.9,1006.6C1452.8,1003.9 1453.3,1000.6 1454.0,997.7C1454.7,994.7 1455.9,991.6 1457.3,988.8C1458.8,985.9 1460.7,983.0 1462.5,980.6C1464.4,978.2 1466.2,976.2 1468.5,974.3C1470.7,972.4 1473.8,970.6 1475.9,969.5C1478.0,968.4 1479.3,968.0 1481.1,967.6C1482.8,967.3 1484.5,967.1 1486.3,967.3Z"/><path d="M1485.3,970.9C1486.8,971.0 1488.8,971.2 1490.0,971.9C1491.2,972.6 1491.9,973.6 1492.7,975.0C1493.5,976.4 1494.2,978.1 1494.7,980.4C1495.3,982.6 1495.7,985.8 1496.1,988.5C1496.4,991.2 1496.5,993.9 1496.8,996.6C1497.0,999.3 1497.4,1002.4 1497.4,1004.7C1497.5,1006.9 1497.4,1008.4 1497.1,1010.1C1496.8,1011.8 1496.1,1013.3 1495.4,1014.8C1494.7,1016.3 1493.7,1017.6 1492.7,1018.9C1491.7,1020.1 1490.6,1021.2 1489.3,1022.2C1488.1,1023.3 1486.7,1024.5 1485.3,1025.3C1483.8,1026.1 1482.1,1026.7 1480.5,1027.0C1479.0,1027.3 1477.6,1027.3 1475.8,1027.0C1474.0,1026.7 1471.8,1026.1 1469.7,1025.3C1467.7,1024.5 1465.5,1023.5 1463.7,1022.2C1461.9,1021.0 1460.2,1019.3 1458.9,1017.9C1457.7,1016.4 1456.9,1015.3 1456.2,1013.5C1455.5,1011.6 1454.9,1009.2 1454.9,1006.7C1454.8,1004.2 1455.2,1001.3 1455.9,998.6C1456.6,995.9 1457.6,993.1 1458.9,990.5C1460.2,987.9 1462.0,985.3 1463.7,983.1C1465.3,980.9 1467.0,979.0 1469.1,977.3C1471.1,975.6 1473.9,973.9 1475.8,972.9C1477.7,971.9 1479.0,971.6 1480.5,971.2C1482.1,970.9 1483.7,970.8 1485.3,970.9Z"/><path d="M1484.3,974.6C1485.7,974.7 1487.4,974.9 1488.5,975.5C1489.7,976.1 1490.3,976.9 1491.0,978.2C1491.7,979.5 1492.3,981.1 1492.8,983.1C1493.3,985.1 1493.7,988.0 1494.0,990.4C1494.3,992.8 1494.4,995.3 1494.6,997.7C1494.8,1000.1 1495.2,1003.0 1495.2,1005.0C1495.3,1007.0 1495.2,1008.4 1494.9,1009.9C1494.6,1011.4 1494.1,1012.8 1493.4,1014.1C1492.8,1015.5 1491.9,1016.7 1491.0,1017.8C1490.1,1018.9 1489.0,1019.9 1487.9,1020.9C1486.8,1021.8 1485.6,1022.9 1484.3,1023.6C1483.0,1024.3 1481.4,1024.9 1480.0,1025.1C1478.6,1025.4 1477.4,1025.4 1475.7,1025.1C1474.1,1024.9 1472.1,1024.3 1470.3,1023.6C1468.4,1022.9 1466.4,1022.0 1464.8,1020.9C1463.2,1019.7 1461.6,1018.2 1460.5,1016.9C1459.4,1015.6 1458.7,1014.6 1458.1,1012.9C1457.5,1011.3 1456.9,1009.1 1456.9,1006.8C1456.8,1004.6 1457.2,1002.0 1457.8,999.5C1458.4,997.1 1459.4,994.6 1460.5,992.2C1461.7,989.9 1463.3,987.5 1464.8,985.5C1466.3,983.5 1467.8,981.9 1469.7,980.3C1471.5,978.8 1474.0,977.3 1475.7,976.4C1477.5,975.5 1478.6,975.2 1480.0,974.9C1481.4,974.6 1482.9,974.5 1484.3,974.6Z"/><path d="M1483.3,978.2C1484.5,978.3 1486.1,978.5 1487.1,979.0C1488.1,979.6 1488.6,980.3 1489.3,981.5C1489.9,982.6 1490.4,984.0 1490.9,985.8C1491.3,987.6 1491.7,990.1 1492.0,992.3C1492.2,994.5 1492.3,996.7 1492.5,998.8C1492.7,1001.0 1493.0,1003.5 1493.1,1005.3C1493.1,1007.2 1493.1,1008.3 1492.8,1009.7C1492.5,1011.0 1492.0,1012.3 1491.4,1013.5C1490.8,1014.7 1490.1,1015.7 1489.3,1016.7C1488.4,1017.7 1487.5,1018.6 1486.5,1019.5C1485.5,1020.3 1484.5,1021.3 1483.3,1021.9C1482.1,1022.5 1480.7,1023.0 1479.5,1023.3C1478.2,1023.5 1477.1,1023.5 1475.7,1023.3C1474.2,1023.0 1472.4,1022.5 1470.8,1021.9C1469.2,1021.3 1467.4,1020.5 1465.9,1019.5C1464.5,1018.5 1463.1,1017.1 1462.1,1015.9C1461.1,1014.8 1460.5,1013.9 1459.9,1012.4C1459.4,1010.9 1458.9,1009.0 1458.9,1007.0C1458.8,1005.0 1459.1,1002.6 1459.7,1000.5C1460.2,998.3 1461.1,996.0 1462.1,993.9C1463.2,991.9 1464.6,989.7 1465.9,988.0C1467.3,986.2 1468.6,984.7 1470.3,983.4C1471.9,982.0 1474.1,980.6 1475.7,979.8C1477.2,979.0 1478.2,978.7 1479.5,978.5C1480.7,978.2 1482.0,978.1 1483.3,978.2Z"/><path d="M1482.3,981.9C1483.4,981.9 1484.7,982.1 1485.6,982.6C1486.5,983.0 1487.0,983.7 1487.5,984.7C1488.1,985.7 1488.6,986.9 1489.0,988.5C1489.4,990.1 1489.7,992.3 1489.9,994.2C1490.1,996.1 1490.2,998.1 1490.4,1000.0C1490.5,1001.9 1490.8,1004.1 1490.9,1005.7C1490.9,1007.3 1490.9,1008.3 1490.6,1009.5C1490.4,1010.7 1489.9,1011.8 1489.4,1012.8C1488.9,1013.9 1488.2,1014.8 1487.5,1015.7C1486.8,1016.6 1486.0,1017.3 1485.1,1018.1C1484.3,1018.8 1483.3,1019.7 1482.3,1020.2C1481.3,1020.8 1480.1,1021.2 1479.0,1021.4C1477.8,1021.6 1476.9,1021.6 1475.6,1021.4C1474.3,1021.2 1472.8,1020.8 1471.3,1020.2C1469.9,1019.7 1468.3,1018.9 1467.0,1018.1C1465.8,1017.2 1464.6,1016.0 1463.7,1015.0C1462.8,1013.9 1462.3,1013.2 1461.8,1011.9C1461.3,1010.6 1460.9,1008.9 1460.8,1007.1C1460.8,1005.4 1461.1,1003.3 1461.6,1001.4C1462.0,999.5 1462.8,997.5 1463.7,995.7C1464.6,993.8 1465.8,992.0 1467.0,990.4C1468.2,988.9 1469.4,987.6 1470.9,986.4C1472.3,985.2 1474.3,984.0 1475.6,983.3C1477.0,982.6 1477.8,982.3 1479.0,982.1C1480.1,981.9 1481.2,981.8 1482.3,981.9Z"/><path d="M1481.3,985.5C1482.2,985.6 1483.4,985.7 1484.2,986.1C1484.9,986.5 1485.3,987.1 1485.8,988.0C1486.3,988.8 1486.7,989.9 1487.0,991.2C1487.4,992.6 1487.6,994.5 1487.9,996.2C1488.1,997.8 1488.1,999.4 1488.3,1001.1C1488.4,1002.7 1488.6,1004.6 1488.7,1006.0C1488.7,1007.4 1488.7,1008.3 1488.5,1009.3C1488.3,1010.3 1487.9,1011.3 1487.4,1012.2C1487.0,1013.0 1486.4,1013.9 1485.8,1014.6C1485.2,1015.4 1484.5,1016.0 1483.8,1016.7C1483.0,1017.3 1482.2,1018.0 1481.3,1018.5C1480.4,1019.0 1479.4,1019.4 1478.4,1019.5C1477.5,1019.7 1476.6,1019.7 1475.5,1019.5C1474.5,1019.4 1473.1,1019.0 1471.9,1018.5C1470.6,1018.0 1469.3,1017.4 1468.2,1016.7C1467.1,1015.9 1466.0,1014.9 1465.3,1014.0C1464.5,1013.1 1464.1,1012.5 1463.7,1011.3C1463.2,1010.2 1462.9,1008.7 1462.8,1007.2C1462.8,1005.7 1463.0,1004.0 1463.4,1002.3C1463.9,1000.7 1464.5,999.0 1465.3,997.4C1466.1,995.8 1467.1,994.2 1468.2,992.9C1469.2,991.6 1470.2,990.4 1471.4,989.4C1472.7,988.4 1474.4,987.3 1475.5,986.7C1476.7,986.1 1477.5,985.9 1478.4,985.7C1479.4,985.5 1480.3,985.4 1481.3,985.5Z"/><path d="M1480.3,989.1C1481.1,989.2 1482.1,989.3 1482.7,989.7C1483.3,990.0 1483.7,990.5 1484.1,991.2C1484.5,991.9 1484.8,992.8 1485.1,994.0C1485.4,995.1 1485.6,996.7 1485.8,998.1C1486.0,999.5 1486.0,1000.8 1486.1,1002.2C1486.3,1003.6 1486.5,1005.2 1486.5,1006.3C1486.5,1007.5 1486.5,1008.2 1486.3,1009.1C1486.1,1009.9 1485.8,1010.8 1485.5,1011.5C1485.1,1012.2 1484.6,1012.9 1484.1,1013.6C1483.6,1014.2 1483.0,1014.7 1482.4,1015.3C1481.7,1015.8 1481.0,1016.4 1480.3,1016.8C1479.6,1017.2 1478.7,1017.5 1477.9,1017.7C1477.1,1017.8 1476.4,1017.8 1475.5,1017.7C1474.6,1017.5 1473.4,1017.2 1472.4,1016.8C1471.4,1016.4 1470.2,1015.9 1469.3,1015.3C1468.4,1014.6 1467.5,1013.8 1466.9,1013.0C1466.3,1012.3 1465.9,1011.8 1465.5,1010.8C1465.2,1009.9 1464.9,1008.6 1464.8,1007.4C1464.8,1006.1 1465.0,1004.6 1465.3,1003.2C1465.7,1001.9 1466.2,1000.4 1466.9,999.1C1467.5,997.8 1468.4,996.5 1469.3,995.3C1470.2,994.2 1471.0,993.3 1472.0,992.4C1473.1,991.6 1474.5,990.7 1475.5,990.2C1476.5,989.7 1477.1,989.5 1477.9,989.3C1478.7,989.1 1479.5,989.1 1480.3,989.1Z"/><path d="M1479.3,992.8C1479.9,992.8 1480.7,992.9 1481.2,993.2C1481.8,993.5 1482.0,993.9 1482.4,994.5C1482.7,995.0 1483.0,995.8 1483.2,996.7C1483.4,997.6 1483.6,998.9 1483.7,1000.0C1483.9,1001.1 1483.9,1002.2 1484.0,1003.3C1484.1,1004.5 1484.3,1005.7 1484.3,1006.7C1484.3,1007.6 1484.3,1008.2 1484.2,1008.9C1484.0,1009.6 1483.8,1010.2 1483.5,1010.8C1483.2,1011.4 1482.8,1012.0 1482.4,1012.5C1481.9,1013.0 1481.5,1013.4 1481.0,1013.9C1480.5,1014.3 1479.9,1014.8 1479.3,1015.1C1478.7,1015.5 1478.0,1015.7 1477.4,1015.8C1476.7,1015.9 1476.2,1015.9 1475.4,1015.8C1474.7,1015.7 1473.8,1015.5 1472.9,1015.1C1472.1,1014.8 1471.2,1014.4 1470.4,1013.9C1469.7,1013.4 1469.0,1012.7 1468.5,1012.1C1468.0,1011.5 1467.6,1011.0 1467.4,1010.3C1467.1,1009.5 1466.8,1008.5 1466.8,1007.5C1466.8,1006.5 1467.0,1005.3 1467.2,1004.2C1467.5,1003.1 1467.9,1001.9 1468.5,1000.8C1469.0,999.8 1469.7,998.7 1470.4,997.8C1471.1,996.9 1471.8,996.1 1472.6,995.4C1473.5,994.7 1474.6,994.0 1475.4,993.6C1476.2,993.2 1476.7,993.1 1477.4,992.9C1478.0,992.8 1478.7,992.8 1479.3,992.8Z"/><path d="M1478.3,996.4C1478.8,996.5 1479.4,996.6 1479.8,996.8C1480.2,997.0 1480.4,997.3 1480.6,997.7C1480.9,998.2 1481.1,998.7 1481.3,999.4C1481.4,1000.1 1481.6,1001.1 1481.7,1001.9C1481.8,1002.8 1481.8,1003.6 1481.9,1004.5C1482.0,1005.3 1482.1,1006.3 1482.1,1007.0C1482.1,1007.7 1482.1,1008.2 1482.0,1008.7C1481.9,1009.2 1481.7,1009.7 1481.5,1010.2C1481.2,1010.6 1480.9,1011.0 1480.6,1011.4C1480.3,1011.8 1480.0,1012.2 1479.6,1012.5C1479.2,1012.8 1478.8,1013.2 1478.3,1013.4C1477.8,1013.7 1477.3,1013.9 1476.8,1014.0C1476.3,1014.1 1475.9,1014.1 1475.3,1014.0C1474.8,1013.9 1474.1,1013.7 1473.4,1013.4C1472.8,1013.2 1472.1,1012.9 1471.6,1012.5C1471.0,1012.1 1470.5,1011.6 1470.1,1011.1C1469.7,1010.7 1469.4,1010.3 1469.2,1009.7C1469.0,1009.2 1468.8,1008.4 1468.8,1007.6C1468.8,1006.9 1468.9,1005.9 1469.1,1005.1C1469.3,1004.3 1469.7,1003.4 1470.1,1002.6C1470.5,1001.8 1471.0,1000.9 1471.6,1000.2C1472.1,999.6 1472.6,999.0 1473.2,998.5C1473.9,997.9 1474.8,997.4 1475.3,997.1C1475.9,996.8 1476.3,996.7 1476.8,996.6C1477.3,996.4 1477.8,996.4 1478.3,996.4Z"/><path d="M1477.3,1000.1C1477.6,1000.1 1478.1,1000.2 1478.3,1000.3C1478.6,1000.5 1478.7,1000.7 1478.9,1001.0C1479.1,1001.3 1479.2,1001.6 1479.3,1002.1C1479.5,1002.6 1479.6,1003.3 1479.6,1003.9C1479.7,1004.4 1479.7,1005.0 1479.8,1005.6C1479.8,1006.2 1479.9,1006.9 1479.9,1007.3C1479.9,1007.8 1479.9,1008.1 1479.8,1008.5C1479.8,1008.9 1479.6,1009.2 1479.5,1009.5C1479.3,1009.8 1479.1,1010.1 1478.9,1010.4C1478.7,1010.6 1478.4,1010.9 1478.2,1011.1C1477.9,1011.3 1477.6,1011.6 1477.3,1011.7C1477.0,1011.9 1476.6,1012.1 1476.3,1012.1C1476.0,1012.2 1475.7,1012.2 1475.3,1012.1C1474.9,1012.1 1474.4,1011.9 1474.0,1011.7C1473.5,1011.6 1473.1,1011.4 1472.7,1011.1C1472.3,1010.8 1471.9,1010.5 1471.7,1010.2C1471.4,1009.8 1471.2,1009.6 1471.1,1009.2C1470.9,1008.8 1470.8,1008.3 1470.8,1007.8C1470.8,1007.2 1470.9,1006.6 1471.0,1006.0C1471.2,1005.5 1471.4,1004.8 1471.7,1004.3C1471.9,1003.7 1472.3,1003.2 1472.7,1002.7C1473.0,1002.2 1473.4,1001.8 1473.8,1001.5C1474.3,1001.1 1474.9,1000.7 1475.3,1000.5C1475.7,1000.3 1476.0,1000.2 1476.3,1000.2C1476.6,1000.1 1477.0,1000.1 1477.3,1000.1Z"/></g>
<rect x="1512.5" y="917.6" width="125.5" height="133" fill="none" stroke="#111" stroke-width="1.4"/>
<text x="1575.6999999999998" y="876.3" text-anchor="middle" font-size="18.6" fill="#111">HA<tspan dy="-6" font-size="13">+</tspan><tspan dy="6">MHCII</tspan><tspan dy="-6" font-size="13">+</tspan><tspan dy="6"> DCs</tspan></text>
<text x="1574.1999999999998" y="909" text-anchor="middle" font-size="18.6" fill="#111">10.95</text>
<g fill="#000"><rect x="1440.6" y="935.5" width="4.0" height="4.0"/><rect x="1465.9" y="936.7" width="4.0" height="4.0"/><rect x="1436.3" y="944.5" width="4.0" height="4.0"/><rect x="1456.0" y="942.7" width="4.0" height="4.0"/><rect x="1452.9" y="946.7" width="4.0" height="4.0"/><rect x="1441.8" y="953.9" width="4.0" height="4.0"/><rect x="1444.2" y="961.2" width="4.0" height="4.0"/><rect x="1439.6" y="963.8" width="4.0" height="4.0"/><rect x="1439.6" y="967.5" width="4.0" height="4.0"/><rect x="1433.9" y="972.5" width="4.0" height="4.0"/><rect x="1429.7" y="974.5" width="4.0" height="4.0"/><rect x="1425.9" y="976.9" width="4.0" height="4.0"/><rect x="1421.9" y="991.1" width="4.0" height="4.0"/><rect x="1423.9" y="1007.7" width="4.0" height="4.0"/><rect x="1431.2" y="1026.0" width="4.0" height="4.0"/><rect x="1431.2" y="1030.8" width="4.0" height="4.0"/><rect x="1442.4" y="1044.9" width="4.0" height="4.0"/><rect x="1444.2" y="1044.9" width="4.0" height="4.0"/><rect x="1453.8" y="1045.6" width="4.0" height="4.0"/><rect x="1462.3" y="1051.2" width="4.0" height="4.0"/><rect x="1508.7" y="1042.8" width="4.0" height="4.0"/><rect x="1512.0" y="936.7" width="4.0" height="4.0"/><rect x="1522.4" y="942.7" width="4.0" height="4.0"/><rect x="1531.9" y="942.7" width="4.0" height="4.0"/><rect x="1524.4" y="947.6" width="4.0" height="4.0"/><rect x="1526.8" y="947.6" width="4.0" height="4.0"/><rect x="1555.8" y="937.3" width="4.0" height="4.0"/><rect x="1557.0" y="946.7" width="4.0" height="4.0"/><rect x="1559.7" y="946.7" width="4.0" height="4.0"/><rect x="1576.3" y="942.7" width="4.0" height="4.0"/><rect x="1591.0" y="940.6" width="4.0" height="4.0"/><rect x="1536.8" y="953.8" width="4.0" height="4.0"/><rect x="1552.8" y="956.4" width="4.0" height="4.0"/><rect x="1555.8" y="959.0" width="4.0" height="4.0"/><rect x="1558.2" y="961.7" width="4.0" height="4.0"/><rect x="1567.0" y="953.8" width="4.0" height="4.0"/><rect x="1574.5" y="952.0" width="4.0" height="4.0"/><rect x="1581.7" y="952.0" width="4.0" height="4.0"/><rect x="1579.3" y="956.1" width="4.0" height="4.0"/><rect x="1595.2" y="953.8" width="4.0" height="4.0"/><rect x="1591.0" y="958.0" width="4.0" height="4.0"/><rect x="1607.6" y="953.1" width="4.0" height="4.0"/><rect x="1534.1" y="961.2" width="4.0" height="4.0"/><rect x="1534.1" y="964.4" width="4.0" height="4.0"/><rect x="1532.2" y="966.9" width="4.0" height="4.0"/><rect x="1534.7" y="968.7" width="4.0" height="4.0"/><rect x="1541.1" y="963.5" width="4.0" height="4.0"/><rect x="1531.6" y="972.9" width="4.0" height="4.0"/><rect x="1574.5" y="964.4" width="4.0" height="4.0"/><rect x="1579.9" y="964.2" width="4.0" height="4.0"/><rect x="1583.5" y="965.6" width="4.0" height="4.0"/><rect x="1585.3" y="968.7" width="4.0" height="4.0"/><rect x="1588.3" y="968.7" width="4.0" height="4.0"/><rect x="1583.5" y="971.7" width="4.0" height="4.0"/><rect x="1596.2" y="969.6" width="4.0" height="4.0"/><rect x="1601.4" y="965.3" width="4.0" height="4.0"/><rect x="1563.6" y="973.7" width="4.0" height="4.0"/><rect x="1561.8" y="976.7" width="4.0" height="4.0"/><rect x="1578.1" y="975.7" width="4.0" height="4.0"/><rect x="1581.7" y="977.1" width="4.0" height="4.0"/><rect x="1581.7" y="979.3" width="4.0" height="4.0"/><rect x="1591.0" y="978.7" width="4.0" height="4.0"/><rect x="1609.7" y="978.7" width="4.0" height="4.0"/><rect x="1541.1" y="977.7" width="4.0" height="4.0"/><rect x="1541.1" y="980.7" width="4.0" height="4.0"/><rect x="1541.1" y="984.1" width="4.0" height="4.0"/><rect x="1547.9" y="978.7" width="4.0" height="4.0"/><rect x="1551.5" y="975.7" width="4.0" height="4.0"/><rect x="1556.6" y="979.8" width="4.0" height="4.0"/><rect x="1551.5" y="983.1" width="4.0" height="4.0"/><rect x="1534.1" y="985.6" width="4.0" height="4.0"/><rect x="1576.3" y="981.3" width="4.0" height="4.0"/><rect x="1575.1" y="984.1" width="4.0" height="4.0"/><rect x="1584.7" y="984.1" width="4.0" height="4.0"/><rect x="1591.4" y="986.2" width="4.0" height="4.0"/><rect x="1588.3" y="989.2" width="4.0" height="4.0"/><rect x="1594.4" y="988.0" width="4.0" height="4.0"/><rect x="1599.2" y="988.0" width="4.0" height="4.0"/><rect x="1607.6" y="987.1" width="4.0" height="4.0"/><rect x="1586.5" y="991.8" width="4.0" height="4.0"/><rect x="1588.9" y="994.0" width="4.0" height="4.0"/><rect x="1592.6" y="995.2" width="4.0" height="4.0"/><rect x="1596.8" y="994.2" width="4.0" height="4.0"/><rect x="1585.9" y="997.4" width="4.0" height="4.0"/><rect x="1550.6" y="990.1" width="4.0" height="4.0"/><rect x="1564.8" y="988.0" width="4.0" height="4.0"/><rect x="1569.6" y="991.2" width="4.0" height="4.0"/><rect x="1566.0" y="993.4" width="4.0" height="4.0"/><rect x="1563.6" y="996.4" width="4.0" height="4.0"/><rect x="1564.8" y="998.8" width="4.0" height="4.0"/><rect x="1558.8" y="995.2" width="4.0" height="4.0"/><rect x="1571.1" y="999.4" width="4.0" height="4.0"/><rect x="1577.5" y="996.4" width="4.0" height="4.0"/><rect x="1578.7" y="999.1" width="4.0" height="4.0"/><rect x="1580.5" y="1000.8" width="4.0" height="4.0"/><rect x="1547.3" y="995.2" width="4.0" height="4.0"/><rect x="1546.7" y="998.2" width="4.0" height="4.0"/><rect x="1549.1" y="1000.6" width="4.0" height="4.0"/><rect x="1539.7" y="997.6" width="4.0" height="4.0"/><rect x="1536.8" y="1001.0" width="4.0" height="4.0"/><rect x="1537.7" y="1004.2" width="4.0" height="4.0"/><rect x="1537.7" y="1007.3" width="4.0" height="4.0"/><rect x="1540.7" y="1008.5" width="4.0" height="4.0"/><rect x="1544.9" y="1007.9" width="4.0" height="4.0"/><rect x="1537.7" y="1012.1" width="4.0" height="4.0"/><rect x="1558.2" y="1005.8" width="4.0" height="4.0"/><rect x="1555.8" y="1010.9" width="4.0" height="4.0"/><rect x="1559.4" y="1011.5" width="4.0" height="4.0"/><rect x="1564.8" y="1011.8" width="4.0" height="4.0"/><rect x="1558.8" y="1016.3" width="4.0" height="4.0"/><rect x="1571.4" y="1008.5" width="4.0" height="4.0"/><rect x="1575.1" y="1008.5" width="4.0" height="4.0"/><rect x="1574.5" y="1014.1" width="4.0" height="4.0"/><rect x="1582.5" y="1012.9" width="4.0" height="4.0"/><rect x="1592.0" y="1004.6" width="4.0" height="4.0"/><rect x="1593.8" y="1008.7" width="4.0" height="4.0"/><rect x="1600.2" y="1010.9" width="4.0" height="4.0"/><rect x="1610.7" y="1005.7" width="4.0" height="4.0"/><rect x="1546.7" y="1018.4" width="4.0" height="4.0"/><rect x="1544.3" y="1021.7" width="4.0" height="4.0"/><rect x="1543.1" y="1024.2" width="4.0" height="4.0"/><rect x="1533.8" y="1024.2" width="4.0" height="4.0"/><rect x="1582.7" y="1021.5" width="4.0" height="4.0"/><rect x="1587.7" y="1025.1" width="4.0" height="4.0"/><rect x="1529.6" y="1029.2" width="4.0" height="4.0"/><rect x="1549.1" y="1027.5" width="4.0" height="4.0"/><rect x="1549.1" y="1029.6" width="4.0" height="4.0"/><rect x="1556.6" y="1031.4" width="4.0" height="4.0"/><rect x="1522.4" y="1032.4" width="4.0" height="4.0"/><rect x="1568.4" y="1035.2" width="4.0" height="4.0"/><rect x="1571.1" y="1036.8" width="4.0" height="4.0"/><rect x="1529.6" y="1039.8" width="4.0" height="4.0"/><rect x="1534.9" y="1041.9" width="4.0" height="4.0"/></g>
<rect x="1719.3" y="825.8" width="266.0" height="263.70000000000005" fill="#fff" stroke="#8a8a8a" stroke-width="1.1"/>
<text x="1849.6" y="810" text-anchor="middle" font-size="22.9" fill="#111">High DIPs</text>
<line x1="1711.8" x2="1719.3" y1="838.5" y2="838.5" stroke="#111" stroke-width="1.5"/>
<text x="1708.3" y="843.9" text-anchor="end" font-size="12.3" font-weight="bold" fill="#111">250K</text>
<line x1="1711.8" x2="1719.3" y1="888" y2="888" stroke="#111" stroke-width="1.5"/>
<text x="1708.3" y="893.4" text-anchor="end" font-size="12.3" font-weight="bold" fill="#111">200K</text>
<line x1="1711.8" x2="1719.3" y1="937.8" y2="937.8" stroke="#111" stroke-width="1.5"/>
<text x="1708.3" y="943.1999999999999" text-anchor="end" font-size="12.3" font-weight="bold" fill="#111">150K</text>
<line x1="1711.8" x2="1719.3" y1="988.9" y2="988.9" stroke="#111" stroke-width="1.5"/>
<text x="1708.3" y="994.3" text-anchor="end" font-size="12.3" font-weight="bold" fill="#111">100K</text>
<line x1="1711.8" x2="1719.3" y1="1038.1" y2="1038.1" stroke="#111" stroke-width="1.5"/>
<text x="1708.3" y="1043.5" text-anchor="end" font-size="12.3" font-weight="bold" fill="#111">50K</text>
<line x1="1711.8" x2="1719.3" y1="1088.6" y2="1088.6" stroke="#111" stroke-width="1.5"/>
<text x="1708.3" y="1089.3999999999999" text-anchor="end" font-size="12.3" font-weight="bold" fill="#111">0</text>
<line x1="1716.1" x2="1719.3" y1="1078.6" y2="1078.6" stroke="#222" stroke-width="1.0"/>
<line x1="1716.1" x2="1719.3" y1="1068.6" y2="1068.6" stroke="#222" stroke-width="1.0"/>
<line x1="1716.1" x2="1719.3" y1="1058.7" y2="1058.7" stroke="#222" stroke-width="1.0"/>
<line x1="1716.1" x2="1719.3" y1="1048.7" y2="1048.7" stroke="#222" stroke-width="1.0"/>
<line x1="1716.1" x2="1719.3" y1="1028.7" y2="1028.7" stroke="#222" stroke-width="1.0"/>
<line x1="1716.1" x2="1719.3" y1="1018.7" y2="1018.7" stroke="#222" stroke-width="1.0"/>
<line x1="1716.1" x2="1719.3" y1="1008.8" y2="1008.8" stroke="#222" stroke-width="1.0"/>
<line x1="1716.1" x2="1719.3" y1="998.8" y2="998.8" stroke="#222" stroke-width="1.0"/>
<line x1="1716.1" x2="1719.3" y1="978.8" y2="978.8" stroke="#222" stroke-width="1.0"/>
<line x1="1716.1" x2="1719.3" y1="968.8" y2="968.8" stroke="#222" stroke-width="1.0"/>
<line x1="1716.1" x2="1719.3" y1="958.9" y2="958.9" stroke="#222" stroke-width="1.0"/>
<line x1="1716.1" x2="1719.3" y1="948.9" y2="948.9" stroke="#222" stroke-width="1.0"/>
<line x1="1716.1" x2="1719.3" y1="928.9" y2="928.9" stroke="#222" stroke-width="1.0"/>
<line x1="1716.1" x2="1719.3" y1="918.9" y2="918.9" stroke="#222" stroke-width="1.0"/>
<line x1="1716.1" x2="1719.3" y1="909.0" y2="909.0" stroke="#222" stroke-width="1.0"/>
<line x1="1716.1" x2="1719.3" y1="899.0" y2="899.0" stroke="#222" stroke-width="1.0"/>
<line x1="1716.1" x2="1719.3" y1="879.0" y2="879.0" stroke="#222" stroke-width="1.0"/>
<line x1="1716.1" x2="1719.3" y1="869.0" y2="869.0" stroke="#222" stroke-width="1.0"/>
<line x1="1716.1" x2="1719.3" y1="859.1" y2="859.1" stroke="#222" stroke-width="1.0"/>
<line x1="1716.1" x2="1719.3" y1="849.1" y2="849.1" stroke="#222" stroke-width="1.0"/>
<line x1="1716.1" x2="1719.3" y1="829.1" y2="829.1" stroke="#222" stroke-width="1.0"/>
<line x1="1735.3" x2="1735.3" y1="1089.5" y2="1096.3" stroke="#111" stroke-width="1.5"/>
<line x1="1822.8" x2="1822.8" y1="1089.5" y2="1096.3" stroke="#111" stroke-width="1.5"/>
<line x1="1895.3" x2="1895.3" y1="1089.5" y2="1096.3" stroke="#111" stroke-width="1.5"/>
<line x1="1959.2" x2="1959.2" y1="1089.5" y2="1096.3" stroke="#111" stroke-width="1.5"/>
<rect x="1773.5" y="1089.5" width="11.1" height="3.2" fill="#111"/>
<line x1="1774.3" x2="1774.3" y1="1089.5" y2="1096.3" stroke="#111" stroke-width="1.6"/>
<line x1="1778.4" x2="1778.4" y1="1089.5" y2="1096.3" stroke="#111" stroke-width="1.6"/>
<line x1="1782.0" x2="1782.0" y1="1089.5" y2="1096.3" stroke="#111" stroke-width="1.6"/>
<line x1="1784.4" x2="1784.4" y1="1089.5" y2="1096.3" stroke="#111" stroke-width="1.6"/>
<line x1="1738.6" x2="1738.6" y1="1089.5" y2="1092.9" stroke="#111" stroke-width="1.1"/>
<line x1="1740.8" x2="1740.8" y1="1089.5" y2="1092.9" stroke="#111" stroke-width="1.1"/>
<line x1="1743.5" x2="1743.5" y1="1089.5" y2="1092.9" stroke="#111" stroke-width="1.1"/>
<line x1="1746.8" x2="1746.8" y1="1089.5" y2="1092.9" stroke="#111" stroke-width="1.1"/>
<line x1="1750.5" x2="1750.5" y1="1089.5" y2="1092.9" stroke="#111" stroke-width="1.1"/>
<line x1="1757.9" x2="1757.9" y1="1089.5" y2="1092.9" stroke="#111" stroke-width="1.1"/>
<line x1="1761.6" x2="1761.6" y1="1089.5" y2="1092.9" stroke="#111" stroke-width="1.1"/>
<line x1="1765.3" x2="1765.3" y1="1089.5" y2="1092.9" stroke="#111" stroke-width="1.1"/>
<line x1="1769.8" x2="1769.8" y1="1089.5" y2="1092.9" stroke="#111" stroke-width="1.1"/>
<line x1="1789.1" x2="1789.1" y1="1089.5" y2="1092.9" stroke="#111" stroke-width="1.1"/>
<line x1="1794.3" x2="1794.3" y1="1089.5" y2="1092.9" stroke="#111" stroke-width="1.1"/>
<line x1="1798.8" x2="1798.8" y1="1089.5" y2="1092.9" stroke="#111" stroke-width="1.1"/>
<line x1="1806.9" x2="1806.9" y1="1089.5" y2="1092.9" stroke="#111" stroke-width="1.1"/>
<line x1="1810.6" x2="1810.6" y1="1089.5" y2="1092.9" stroke="#111" stroke-width="1.1"/>
<line x1="1813.6" x2="1813.6" y1="1089.5" y2="1092.9" stroke="#111" stroke-width="1.1"/>
<line x1="1816.6" x2="1816.6" y1="1089.5" y2="1092.9" stroke="#111" stroke-width="1.1"/>
<line x1="1819.1" x2="1819.1" y1="1089.5" y2="1092.9" stroke="#111" stroke-width="1.1"/>
<line x1="1845.5" x2="1845.5" y1="1089.5" y2="1092.9" stroke="#111" stroke-width="1.1"/>
<line x1="1858.9" x2="1858.9" y1="1089.5" y2="1092.9" stroke="#111" stroke-width="1.1"/>
<line x1="1868.6" x2="1868.6" y1="1089.5" y2="1092.9" stroke="#111" stroke-width="1.1"/>
<line x1="1881.9" x2="1881.9" y1="1089.5" y2="1092.9" stroke="#111" stroke-width="1.1"/>
<line x1="1886.4" x2="1886.4" y1="1089.5" y2="1092.9" stroke="#111" stroke-width="1.1"/>
<line x1="1889.8" x2="1889.8" y1="1089.5" y2="1092.9" stroke="#111" stroke-width="1.1"/>
<line x1="1892.8" x2="1892.8" y1="1089.5" y2="1092.9" stroke="#111" stroke-width="1.1"/>
<line x1="1915.3" x2="1915.3" y1="1089.5" y2="1092.9" stroke="#111" stroke-width="1.1"/>
<line x1="1927.2" x2="1927.2" y1="1089.5" y2="1092.9" stroke="#111" stroke-width="1.1"/>
<line x1="1934.7" x2="1934.7" y1="1089.5" y2="1092.9" stroke="#111" stroke-width="1.1"/>
<line x1="1945.8" x2="1945.8" y1="1089.5" y2="1092.9" stroke="#111" stroke-width="1.1"/>
<line x1="1950.3" x2="1950.3" y1="1089.5" y2="1092.9" stroke="#111" stroke-width="1.1"/>
<line x1="1953.5" x2="1953.5" y1="1089.5" y2="1092.9" stroke="#111" stroke-width="1.1"/>
<line x1="1956.6" x2="1956.6" y1="1089.5" y2="1092.9" stroke="#111" stroke-width="1.1"/>
<line x1="1977.0" x2="1977.0" y1="1089.5" y2="1092.9" stroke="#111" stroke-width="1.1"/>
<line x1="1754.2" x2="1754.2" y1="1089.5" y2="1094.5" stroke="#222" stroke-width="1.1"/>
<line x1="1802.8" x2="1802.8" y1="1089.5" y2="1094.5" stroke="#222" stroke-width="1.1"/>
<line x1="1876.0" x2="1876.0" y1="1089.5" y2="1094.5" stroke="#222" stroke-width="1.1"/>
<line x1="1940.6" x2="1940.6" y1="1089.5" y2="1094.5" stroke="#222" stroke-width="1.1"/>
<text x="1732.7" y="1117.3" font-size="11.6" font-weight="bold" fill="#111">-10<tspan dy="-9.5" dx="0.8">3</tspan></text>
<text x="1822.5" y="1117.3" font-size="11.6" font-weight="bold" fill="#111">10<tspan dy="-9.5" dx="0.8">3</tspan></text>
<text x="1895.3" y="1117.3" font-size="11.6" font-weight="bold" fill="#111">10<tspan dy="-9.5" dx="0.8">4</tspan></text>
<text x="1958.4" y="1117.3" font-size="11.6" font-weight="bold" fill="#111">10<tspan dy="-9.5" dx="0.8">5</tspan></text>
<text x="1784.4" y="1117.3" text-anchor="middle" font-size="11.6" font-weight="bold" fill="#111">0</text>
<ellipse cx="1785.0" cy="1024.7" rx="9" ry="11" fill="#777" opacity="0.65" filter="url(#blur2)"/>
<ellipse cx="1818.8" cy="1001.1" rx="8" ry="6" fill="#777" opacity="0.45" filter="url(#blur2)"/>
<ellipse cx="1803.0" cy="1037.1" rx="9" ry="4" fill="#777" opacity="0.45" filter="url(#blur2)"/>
<g fill="none" stroke="#2a2a2a" stroke-width="0.82"><path d="M1809.8,942.0C1813.5,941.8 1817.7,942.2 1821.1,943.1C1824.4,943.9 1827.4,945.2 1830.1,947.0C1832.7,948.8 1835.1,950.8 1836.8,953.8C1838.5,956.8 1839.3,960.9 1840.2,965.0C1841.1,969.2 1841.3,974.4 1842.4,978.5C1843.6,982.7 1845.4,986.0 1846.9,989.8C1848.4,993.5 1850.8,997.5 1851.4,1001.1C1852.1,1004.6 1851.6,1007.8 1850.9,1011.2C1850.1,1014.6 1848.5,1017.9 1846.9,1021.3C1845.4,1024.7 1843.4,1028.4 1841.3,1031.4C1839.3,1034.5 1837.2,1037.1 1834.6,1039.3C1831.9,1041.6 1828.6,1043.6 1825.6,1045.0C1822.6,1046.4 1819.7,1047.4 1816.6,1047.8C1813.4,1048.1 1810.2,1047.9 1806.4,1047.2C1802.7,1046.6 1798.0,1045.3 1794.0,1043.8C1790.1,1042.3 1786.3,1040.5 1782.8,1038.2C1779.2,1036.0 1775.6,1033.3 1772.6,1030.3C1769.6,1027.3 1766.7,1023.8 1764.8,1020.2C1762.8,1016.6 1761.4,1012.7 1760.8,1008.9C1760.3,1005.2 1760.7,1001.4 1761.4,997.7C1762.0,993.9 1763.3,990.4 1764.8,986.4C1766.3,982.5 1768.1,978.2 1770.4,974.0C1772.6,969.9 1775.5,965.4 1778.3,961.7C1781.1,957.9 1783.9,954.4 1787.3,951.5C1790.7,948.6 1794.8,945.8 1798.5,944.2C1802.3,942.6 1806.0,942.1 1809.8,942.0Z"/><path d="M1809.8,945.0C1813.4,944.9 1817.3,945.3 1820.5,946.2C1823.6,947.0 1826.3,948.4 1828.7,950.1C1831.0,951.8 1833.3,953.7 1834.8,956.6C1836.4,959.4 1837.0,963.4 1837.9,967.3C1838.8,971.1 1839.2,975.7 1840.2,979.7C1841.2,983.6 1842.7,987.3 1843.9,990.9C1845.0,994.6 1846.6,998.2 1846.9,1001.6C1847.3,1005.0 1846.9,1008.0 1846.1,1011.2C1845.4,1014.4 1843.9,1017.7 1842.4,1020.8C1841.0,1023.9 1839.3,1027.0 1837.4,1029.8C1835.5,1032.5 1833.4,1035.0 1830.9,1037.1C1828.4,1039.2 1825.0,1041.1 1822.2,1042.4C1819.3,1043.7 1816.6,1044.6 1813.7,1045.0C1810.8,1045.3 1808.1,1045.1 1804.7,1044.4C1801.4,1043.7 1797.0,1042.5 1793.5,1041.0C1789.9,1039.6 1786.5,1037.8 1783.3,1035.7C1780.2,1033.6 1777.0,1031.1 1774.3,1028.4C1771.7,1025.6 1769.1,1022.3 1767.3,1019.1C1765.5,1015.8 1764.2,1012.2 1763.6,1008.7C1763.1,1005.1 1763.6,1001.5 1764.2,998.0C1764.8,994.4 1765.9,991.0 1767.3,987.3C1768.7,983.5 1770.5,979.3 1772.6,975.4C1774.8,971.5 1777.3,967.4 1780.0,963.9C1782.6,960.4 1785.2,957.1 1788.4,954.3C1791.6,951.6 1795.5,948.8 1799.1,947.3C1802.7,945.8 1806.2,945.2 1809.8,945.0Z"/><path d="M1809.8,948.1C1813.2,948.0 1817.0,948.4 1819.9,949.3C1822.8,950.1 1825.1,951.5 1827.2,953.2C1829.4,954.9 1831.5,956.7 1832.9,959.4C1834.3,962.1 1834.8,966.0 1835.7,969.5C1836.5,973.1 1837.1,977.0 1837.9,980.8C1838.8,984.5 1840.0,988.5 1840.8,992.0C1841.5,995.6 1842.3,999.0 1842.4,1002.2C1842.5,1005.4 1842.1,1008.2 1841.3,1011.2C1840.6,1014.2 1839.3,1017.4 1837.9,1020.2C1836.6,1023.0 1835.2,1025.6 1833.4,1028.1C1831.7,1030.5 1829.7,1032.9 1827.2,1034.8C1824.8,1036.8 1821.5,1038.7 1818.8,1039.9C1816.1,1041.1 1813.5,1041.9 1810.9,1042.1C1808.3,1042.4 1806.0,1042.2 1803.0,1041.6C1800.0,1040.9 1796.1,1039.6 1792.9,1038.2C1789.7,1036.8 1786.7,1035.1 1783.9,1033.1C1781.1,1031.2 1778.4,1028.9 1776.0,1026.4C1773.7,1023.9 1771.4,1020.9 1769.8,1017.9C1768.2,1014.9 1766.9,1011.7 1766.5,1008.4C1766.0,1005.1 1766.5,1001.6 1767.0,998.2C1767.6,994.9 1768.5,991.7 1769.8,988.1C1771.1,984.5 1772.9,980.5 1774.9,976.9C1776.9,973.2 1779.2,969.4 1781.7,966.2C1784.1,962.9 1786.5,959.8 1789.5,957.1C1792.5,954.5 1796.3,951.9 1799.7,950.4C1803.0,948.9 1806.4,948.3 1809.8,948.1Z"/><path d="M1809.3,951.2C1812.5,951.1 1816.1,951.5 1818.9,952.3C1821.7,953.1 1823.8,954.4 1825.8,956.0C1827.9,957.6 1829.8,959.3 1831.1,961.9C1832.5,964.5 1833.0,968.1 1833.8,971.5C1834.6,974.8 1835.1,978.6 1835.9,982.1C1836.7,985.7 1837.9,989.4 1838.6,992.8C1839.3,996.1 1840.1,999.3 1840.2,1002.4C1840.3,1005.4 1839.8,1008.0 1839.1,1010.9C1838.4,1013.7 1837.2,1016.7 1835.9,1019.4C1834.7,1022.1 1833.4,1024.6 1831.7,1026.9C1830.0,1029.2 1828.1,1031.4 1825.8,1033.3C1823.5,1035.1 1820.4,1036.9 1817.8,1038.0C1815.3,1039.2 1812.9,1039.9 1810.4,1040.2C1807.9,1040.4 1805.8,1040.3 1802.9,1039.6C1800.1,1039.0 1796.4,1037.8 1793.3,1036.4C1790.3,1035.1 1787.5,1033.5 1784.8,1031.7C1782.1,1029.8 1779.6,1027.7 1777.4,1025.3C1775.1,1022.9 1773.0,1020.1 1771.5,1017.3C1770.0,1014.4 1768.7,1011.3 1768.3,1008.2C1767.9,1005.1 1768.3,1001.8 1768.8,998.6C1769.4,995.4 1770.3,992.4 1771.5,989.0C1772.7,985.7 1774.4,981.9 1776.3,978.4C1778.2,974.9 1780.4,971.4 1782.7,968.3C1785.0,965.2 1787.3,962.2 1790.1,959.8C1793.0,957.3 1796.5,954.8 1799.7,953.4C1802.9,951.9 1806.1,951.4 1809.3,951.2Z"/><path d="M1808.8,954.3C1811.8,954.1 1815.3,954.6 1817.9,955.3C1820.5,956.1 1822.5,957.3 1824.4,958.8C1826.3,960.3 1828.2,961.9 1829.4,964.4C1830.7,966.8 1831.2,970.2 1831.9,973.4C1832.7,976.6 1833.2,980.1 1833.9,983.5C1834.7,986.8 1835.8,990.3 1836.5,993.5C1837.1,996.7 1837.9,999.7 1838.0,1002.5C1838.0,1005.4 1837.6,1007.9 1837.0,1010.6C1836.3,1013.3 1835.1,1016.1 1833.9,1018.6C1832.8,1021.1 1831.5,1023.5 1829.9,1025.7C1828.3,1027.8 1826.6,1029.9 1824.4,1031.7C1822.2,1033.4 1819.3,1035.1 1816.9,1036.2C1814.4,1037.3 1812.2,1038.0 1809.8,1038.2C1807.5,1038.5 1805.5,1038.3 1802.8,1037.7C1800.1,1037.1 1796.6,1035.9 1793.8,1034.7C1790.9,1033.4 1788.2,1031.9 1785.7,1030.2C1783.2,1028.4 1780.8,1026.4 1778.7,1024.1C1776.6,1021.9 1774.6,1019.3 1773.2,1016.6C1771.7,1013.9 1770.6,1011.0 1770.1,1008.1C1769.7,1005.1 1770.1,1002.0 1770.6,999.0C1771.2,996.0 1772.0,993.2 1773.2,990.0C1774.3,986.8 1775.9,983.2 1777.7,979.9C1779.4,976.7 1781.5,973.3 1783.7,970.4C1785.9,967.5 1788.1,964.7 1790.7,962.4C1793.4,960.0 1796.8,957.7 1799.8,956.3C1802.8,955.0 1805.8,954.5 1808.8,954.3Z"/><path d="M1808.3,957.4C1811.2,957.2 1814.4,957.6 1816.8,958.3C1819.3,959.1 1821.2,960.2 1823.0,961.7C1824.8,963.1 1826.5,964.6 1827.7,966.8C1828.9,969.1 1829.4,972.4 1830.1,975.3C1830.8,978.3 1831.2,981.6 1831.9,984.8C1832.7,987.9 1833.7,991.2 1834.3,994.2C1834.9,997.2 1835.6,1000.0 1835.7,1002.7C1835.8,1005.4 1835.4,1007.8 1834.8,1010.3C1834.2,1012.8 1833.1,1015.5 1831.9,1017.8C1830.8,1020.2 1829.7,1022.4 1828.2,1024.4C1826.7,1026.5 1825.0,1028.5 1823.0,1030.1C1820.9,1031.8 1818.2,1033.3 1815.9,1034.4C1813.6,1035.4 1811.5,1036.0 1809.3,1036.2C1807.1,1036.5 1805.2,1036.3 1802.7,1035.8C1800.2,1035.2 1796.9,1034.1 1794.2,1032.9C1791.5,1031.8 1789.0,1030.3 1786.6,1028.7C1784.3,1027.0 1782.0,1025.1 1780.0,1023.0C1778.1,1020.9 1776.2,1018.5 1774.8,1015.9C1773.5,1013.4 1772.4,1010.7 1772.0,1007.9C1771.6,1005.2 1772.0,1002.3 1772.5,999.4C1772.9,996.6 1773.7,993.9 1774.8,990.9C1775.9,987.9 1777.4,984.5 1779.1,981.5C1780.7,978.4 1782.7,975.3 1784.7,972.5C1786.8,969.8 1788.8,967.2 1791.3,965.0C1793.9,962.8 1797.0,960.5 1799.8,959.3C1802.7,958.0 1805.5,957.6 1808.3,957.4Z"/><path d="M1807.9,960.5C1810.5,960.3 1813.5,960.7 1815.8,961.4C1818.1,962.0 1819.9,963.1 1821.6,964.5C1823.3,965.8 1824.9,967.2 1826.0,969.3C1827.1,971.5 1827.5,974.5 1828.2,977.3C1828.8,980.1 1829.3,983.2 1830.0,986.1C1830.6,989.1 1831.6,992.2 1832.2,995.0C1832.8,997.8 1833.4,1000.4 1833.5,1002.9C1833.6,1005.4 1833.2,1007.6 1832.6,1010.0C1832.0,1012.3 1831.0,1014.8 1830.0,1017.0C1828.9,1019.3 1827.8,1021.3 1826.4,1023.2C1825.0,1025.1 1823.5,1027.0 1821.6,1028.5C1819.6,1030.1 1817.1,1031.6 1814.9,1032.5C1812.8,1033.5 1810.8,1034.1 1808.7,1034.3C1806.7,1034.5 1804.9,1034.4 1802.6,1033.8C1800.2,1033.3 1797.1,1032.3 1794.6,1031.2C1792.1,1030.1 1789.7,1028.8 1787.5,1027.2C1785.3,1025.7 1783.2,1023.9 1781.3,1021.9C1779.5,1019.9 1777.7,1017.6 1776.5,1015.3C1775.2,1012.9 1774.2,1010.3 1773.8,1007.8C1773.5,1005.2 1773.8,1002.5 1774.3,999.8C1774.7,997.2 1775.5,994.7 1776.5,991.9C1777.5,989.1 1778.9,985.9 1780.5,983.0C1782.0,980.2 1783.9,977.2 1785.8,974.6C1787.7,972.0 1789.6,969.6 1792.0,967.6C1794.3,965.5 1797.3,963.4 1799.9,962.3C1802.6,961.1 1805.2,960.6 1807.9,960.5Z"/><path d="M1807.4,963.6C1809.8,963.4 1812.7,963.8 1814.8,964.4C1816.9,965.0 1818.6,966.0 1820.1,967.3C1821.7,968.5 1823.2,969.8 1824.3,971.8C1825.3,973.8 1825.7,976.6 1826.3,979.2C1826.9,981.8 1827.3,984.7 1828.0,987.4C1828.6,990.2 1829.5,993.1 1830.0,995.7C1830.6,998.3 1831.2,1000.8 1831.2,1003.1C1831.3,1005.4 1831.0,1007.5 1830.4,1009.7C1829.9,1011.9 1828.9,1014.2 1828.0,1016.3C1827.0,1018.3 1826.0,1020.2 1824.7,1022.0C1823.4,1023.8 1821.9,1025.5 1820.1,1027.0C1818.4,1028.4 1816.0,1029.8 1814.0,1030.7C1812.0,1031.6 1810.1,1032.1 1808.2,1032.3C1806.3,1032.5 1804.6,1032.4 1802.4,1031.9C1800.2,1031.4 1797.4,1030.5 1795.0,1029.4C1792.7,1028.4 1790.5,1027.2 1788.4,1025.7C1786.4,1024.3 1784.4,1022.6 1782.7,1020.8C1781.0,1018.9 1779.3,1016.8 1778.2,1014.6C1777.0,1012.4 1776.0,1010.0 1775.7,1007.6C1775.3,1005.2 1775.7,1002.7 1776.1,1000.2C1776.5,997.7 1777.2,995.4 1778.2,992.8C1779.1,990.2 1780.4,987.2 1781.9,984.6C1783.3,981.9 1785.0,979.1 1786.8,976.7C1788.6,974.3 1790.4,972.1 1792.6,970.2C1794.8,968.2 1797.5,966.3 1800.0,965.2C1802.4,964.1 1804.9,963.7 1807.4,963.6Z"/><path d="M1806.9,966.7C1809.2,966.5 1811.8,966.9 1813.8,967.4C1815.7,968.0 1817.3,968.9 1818.7,970.1C1820.2,971.2 1821.6,972.4 1822.5,974.3C1823.5,976.1 1823.9,978.7 1824.4,981.2C1825.0,983.6 1825.4,986.2 1826.0,988.8C1826.5,991.3 1827.4,994.0 1827.9,996.4C1828.4,998.8 1828.9,1001.1 1829.0,1003.3C1829.1,1005.4 1828.8,1007.3 1828.2,1009.4C1827.7,1011.4 1826.8,1013.6 1826.0,1015.5C1825.1,1017.4 1824.1,1019.2 1822.9,1020.8C1821.7,1022.5 1820.4,1024.1 1818.7,1025.4C1817.1,1026.7 1814.8,1028.0 1813.0,1028.8C1811.2,1029.6 1809.4,1030.2 1807.7,1030.3C1805.9,1030.5 1804.3,1030.4 1802.3,1030.0C1800.3,1029.5 1797.6,1028.6 1795.5,1027.7C1793.3,1026.7 1791.3,1025.6 1789.3,1024.2C1787.4,1022.9 1785.6,1021.4 1784.0,1019.7C1782.4,1018.0 1780.9,1016.0 1779.8,1013.9C1778.7,1011.9 1777.8,1009.7 1777.5,1007.5C1777.2,1005.2 1777.5,1002.9 1777.9,1000.6C1778.3,998.3 1778.9,996.2 1779.8,993.7C1780.7,991.3 1781.9,988.6 1783.2,986.1C1784.6,983.6 1786.2,981.1 1787.8,978.9C1789.5,976.6 1791.1,974.5 1793.2,972.8C1795.2,971.0 1797.7,969.2 1800.0,968.2C1802.3,967.2 1804.6,966.8 1806.9,966.7Z"/><path d="M1806.4,969.7C1808.5,969.6 1810.9,969.9 1812.7,970.4C1814.5,971.0 1815.9,971.9 1817.3,972.9C1818.6,974.0 1819.9,975.1 1820.8,976.8C1821.7,978.5 1822.0,980.9 1822.6,983.1C1823.1,985.3 1823.4,987.8 1824.0,990.1C1824.5,992.4 1825.2,994.9 1825.7,997.1C1826.2,999.4 1826.7,1001.5 1826.8,1003.5C1826.8,1005.4 1826.5,1007.2 1826.1,1009.1C1825.6,1010.9 1824.8,1012.9 1824.0,1014.7C1823.1,1016.4 1822.3,1018.1 1821.2,1019.6C1820.0,1021.1 1818.8,1022.6 1817.3,1023.8C1815.8,1025.0 1813.7,1026.2 1812.0,1027.0C1810.3,1027.7 1808.7,1028.2 1807.1,1028.4C1805.5,1028.6 1804.1,1028.4 1802.2,1028.0C1800.3,1027.6 1797.9,1026.8 1795.9,1025.9C1793.9,1025.0 1792.0,1024.0 1790.3,1022.8C1788.5,1021.5 1786.8,1020.1 1785.3,1018.5C1783.9,1017.0 1782.5,1015.2 1781.5,1013.3C1780.5,1011.4 1779.7,1009.4 1779.4,1007.3C1779.1,1005.3 1779.4,1003.1 1779.7,1001.0C1780.1,998.9 1780.7,996.9 1781.5,994.7C1782.3,992.4 1783.4,989.9 1784.6,987.7C1785.9,985.4 1787.3,983.0 1788.9,981.0C1790.4,978.9 1791.9,977.0 1793.8,975.4C1795.6,973.7 1798.0,972.1 1800.1,971.1C1802.2,970.2 1804.3,969.9 1806.4,969.7Z"/><path d="M1805.9,972.8C1807.8,972.7 1810.0,973.0 1811.7,973.5C1813.4,974.0 1814.6,974.8 1815.9,975.7C1817.1,976.7 1818.3,977.7 1819.1,979.2C1819.9,980.8 1820.2,983.0 1820.7,985.0C1821.2,987.1 1821.5,989.3 1822.0,991.4C1822.4,993.6 1823.1,995.8 1823.6,997.9C1824.0,999.9 1824.5,1001.8 1824.5,1003.6C1824.6,1005.4 1824.3,1007.1 1823.9,1008.8C1823.5,1010.5 1822.7,1012.3 1822.0,1013.9C1821.2,1015.5 1820.4,1017.0 1819.4,1018.4C1818.4,1019.8 1817.3,1021.1 1815.9,1022.2C1814.5,1023.4 1812.6,1024.4 1811.1,1025.1C1809.5,1025.8 1808.1,1026.3 1806.6,1026.4C1805.1,1026.6 1803.8,1026.5 1802.1,1026.1C1800.4,1025.7 1798.1,1025.0 1796.3,1024.2C1794.5,1023.4 1792.8,1022.4 1791.2,1021.3C1789.6,1020.2 1788.0,1018.9 1786.7,1017.4C1785.3,1016.0 1784.1,1014.3 1783.1,1012.6C1782.2,1010.9 1781.5,1009.0 1781.2,1007.2C1781.0,1005.3 1781.2,1003.3 1781.5,1001.4C1781.9,999.5 1782.4,997.6 1783.1,995.6C1783.9,993.6 1784.9,991.3 1786.0,989.2C1787.2,987.1 1788.5,985.0 1789.9,983.1C1791.3,981.2 1792.7,979.5 1794.4,978.0C1796.1,976.5 1798.2,975.0 1800.1,974.1C1802.1,973.3 1804.0,972.9 1805.9,972.8Z"/><path d="M1805.4,975.9C1807.2,975.8 1809.2,976.1 1810.7,976.5C1812.2,976.9 1813.3,977.7 1814.4,978.5C1815.6,979.4 1816.6,980.3 1817.4,981.7C1818.1,983.1 1818.4,985.1 1818.8,987.0C1819.2,988.8 1819.5,990.8 1820.0,992.8C1820.4,994.7 1821.0,996.7 1821.4,998.6C1821.8,1000.4 1822.2,1002.2 1822.3,1003.8C1822.3,1005.5 1822.1,1006.9 1821.7,1008.5C1821.3,1010.0 1820.6,1011.7 1820.0,1013.1C1819.3,1014.6 1818.6,1015.9 1817.6,1017.2C1816.7,1018.4 1815.7,1019.6 1814.4,1020.7C1813.2,1021.7 1811.5,1022.7 1810.1,1023.3C1808.7,1023.9 1807.4,1024.3 1806.0,1024.4C1804.7,1024.6 1803.5,1024.5 1802.0,1024.2C1800.4,1023.8 1798.4,1023.1 1796.7,1022.4C1795.1,1021.7 1793.5,1020.8 1792.1,1019.8C1790.6,1018.8 1789.2,1017.6 1788.0,1016.3C1786.8,1015.0 1785.6,1013.5 1784.8,1011.9C1784.0,1010.4 1783.3,1008.7 1783.1,1007.0C1782.8,1005.3 1783.1,1003.5 1783.4,1001.8C1783.6,1000.0 1784.1,998.4 1784.8,996.5C1785.5,994.7 1786.4,992.6 1787.4,990.7C1788.4,988.8 1789.7,986.9 1790.9,985.2C1792.2,983.5 1793.4,981.9 1795.0,980.6C1796.5,979.2 1798.5,977.9 1800.2,977.1C1802.0,976.3 1803.7,976.0 1805.4,975.9Z"/><path d="M1805.0,979.0C1806.5,978.9 1808.3,979.1 1809.6,979.5C1811.0,979.9 1812.0,980.6 1813.0,981.3C1814.0,982.1 1815.0,983.0 1815.6,984.2C1816.3,985.5 1816.5,987.2 1816.9,988.9C1817.3,990.5 1817.6,992.4 1818.0,994.1C1818.4,995.8 1818.9,997.7 1819.3,999.3C1819.6,1001.0 1820.0,1002.5 1820.1,1004.0C1820.1,1005.5 1819.9,1006.8 1819.5,1008.2C1819.2,1009.5 1818.6,1011.0 1818.0,1012.3C1817.4,1013.6 1816.7,1014.8 1815.9,1016.0C1815.1,1017.1 1814.2,1018.2 1813.0,1019.1C1811.9,1020.0 1810.4,1020.9 1809.1,1021.4C1807.9,1022.0 1806.7,1022.3 1805.5,1022.5C1804.3,1022.6 1803.2,1022.5 1801.8,1022.2C1800.4,1021.9 1798.6,1021.3 1797.1,1020.7C1795.7,1020.0 1794.3,1019.2 1793.0,1018.3C1791.7,1017.4 1790.4,1016.4 1789.3,1015.2C1788.3,1014.0 1787.2,1012.7 1786.5,1011.3C1785.7,1009.9 1785.1,1008.4 1784.9,1006.9C1784.7,1005.3 1784.9,1003.7 1785.2,1002.2C1785.4,1000.6 1785.9,999.1 1786.5,997.5C1787.1,995.8 1787.9,994.0 1788.8,992.3C1789.7,990.6 1790.8,988.9 1791.9,987.3C1793.1,985.8 1794.2,984.4 1795.6,983.2C1797.0,982.0 1798.7,980.7 1800.3,980.0C1801.8,979.4 1803.4,979.1 1805.0,979.0Z"/><path d="M1804.5,982.1C1805.9,982.0 1807.4,982.2 1808.6,982.5C1809.8,982.9 1810.7,983.5 1811.6,984.2C1812.5,984.8 1813.3,985.6 1813.9,986.7C1814.5,987.8 1814.7,989.4 1815.1,990.8C1815.4,992.3 1815.6,993.9 1816.0,995.4C1816.3,997.0 1816.8,998.6 1817.1,1000.0C1817.4,1001.5 1817.8,1002.9 1817.8,1004.2C1817.9,1005.5 1817.7,1006.6 1817.4,1007.9C1817.0,1009.1 1816.5,1010.4 1816.0,1011.5C1815.4,1012.7 1814.9,1013.8 1814.1,1014.8C1813.4,1015.8 1812.6,1016.7 1811.6,1017.5C1810.6,1018.3 1809.3,1019.1 1808.2,1019.6C1807.0,1020.1 1806.0,1020.4 1804.9,1020.5C1803.9,1020.6 1802.9,1020.5 1801.7,1020.3C1800.5,1020.0 1798.9,1019.5 1797.6,1018.9C1796.3,1018.3 1795.0,1017.6 1793.9,1016.8C1792.7,1016.0 1791.6,1015.1 1790.7,1014.1C1789.7,1013.0 1788.8,1011.8 1788.1,1010.6C1787.5,1009.4 1786.9,1008.0 1786.8,1006.7C1786.6,1005.4 1786.8,1003.9 1787.0,1002.6C1787.2,1001.2 1787.6,999.9 1788.1,998.4C1788.7,997.0 1789.4,995.3 1790.2,993.8C1791.0,992.3 1792.0,990.8 1793.0,989.5C1794.0,988.1 1795.0,986.8 1796.2,985.8C1797.4,984.7 1798.9,983.6 1800.3,983.0C1801.7,982.4 1803.1,982.2 1804.5,982.1Z"/><path d="M1804.0,985.2C1805.2,985.1 1806.6,985.3 1807.6,985.6C1808.6,985.9 1809.4,986.4 1810.2,987.0C1810.9,987.6 1811.7,988.2 1812.2,989.2C1812.7,990.1 1812.9,991.5 1813.2,992.8C1813.5,994.0 1813.7,995.4 1814.0,996.8C1814.3,998.1 1814.7,999.5 1815.0,1000.8C1815.2,1002.0 1815.5,1003.2 1815.6,1004.4C1815.6,1005.5 1815.4,1006.5 1815.2,1007.6C1814.9,1008.6 1814.4,1009.8 1814.0,1010.8C1813.5,1011.8 1813.0,1012.7 1812.4,1013.5C1811.7,1014.4 1811.0,1015.2 1810.2,1015.9C1809.3,1016.6 1808.2,1017.3 1807.2,1017.7C1806.2,1018.2 1805.3,1018.4 1804.4,1018.5C1803.5,1018.6 1802.7,1018.6 1801.6,1018.3C1800.5,1018.1 1799.1,1017.6 1798.0,1017.1C1796.9,1016.6 1795.8,1016.0 1794.8,1015.3C1793.8,1014.6 1792.8,1013.8 1792.0,1013.0C1791.2,1012.1 1790.4,1011.0 1789.8,1010.0C1789.2,1008.9 1788.8,1007.7 1788.6,1006.6C1788.4,1005.4 1788.6,1004.2 1788.8,1003.0C1789.0,1001.8 1789.3,1000.6 1789.8,999.4C1790.3,998.1 1790.9,996.7 1791.6,995.4C1792.3,994.1 1793.1,992.7 1794.0,991.6C1794.9,990.4 1795.7,989.3 1796.8,988.4C1797.9,987.4 1799.2,986.5 1800.4,986.0C1801.6,985.4 1802.8,985.2 1804.0,985.2Z"/><path d="M1803.5,988.3C1804.5,988.2 1805.7,988.3 1806.6,988.6C1807.4,988.9 1808.1,989.3 1808.8,989.8C1809.4,990.3 1810.0,990.8 1810.5,991.7C1810.9,992.5 1811.0,993.6 1811.3,994.7C1811.6,995.8 1811.7,997.0 1812.0,998.1C1812.2,999.2 1812.6,1000.4 1812.8,1001.5C1813.1,1002.6 1813.3,1003.6 1813.3,1004.5C1813.4,1005.5 1813.2,1006.3 1813.0,1007.3C1812.8,1008.2 1812.4,1009.1 1812.0,1010.0C1811.6,1010.8 1811.2,1011.6 1810.6,1012.3C1810.1,1013.1 1809.5,1013.8 1808.8,1014.4C1808.0,1015.0 1807.0,1015.5 1806.2,1015.9C1805.4,1016.3 1804.6,1016.5 1803.8,1016.6C1803.1,1016.7 1802.4,1016.6 1801.5,1016.4C1800.6,1016.2 1799.4,1015.8 1798.4,1015.4C1797.5,1015.0 1796.6,1014.5 1795.7,1013.9C1794.9,1013.3 1794.0,1012.6 1793.3,1011.8C1792.6,1011.1 1791.9,1010.2 1791.5,1009.3C1791.0,1008.4 1790.6,1007.4 1790.4,1006.4C1790.3,1005.4 1790.4,1004.4 1790.6,1003.4C1790.8,1002.3 1791.1,1001.4 1791.5,1000.3C1791.9,999.2 1792.4,998.0 1793.0,996.9C1793.6,995.8 1794.3,994.7 1795.0,993.7C1795.8,992.7 1796.5,991.8 1797.4,991.0C1798.3,990.2 1799.4,989.4 1800.5,988.9C1801.5,988.5 1802.5,988.3 1803.5,988.3Z"/><path d="M1803.0,991.3C1803.9,991.3 1804.8,991.4 1805.5,991.6C1806.2,991.8 1806.8,992.2 1807.3,992.6C1807.9,993.0 1808.4,993.5 1808.7,994.1C1809.1,994.8 1809.2,995.8 1809.4,996.6C1809.6,997.5 1809.8,998.5 1810.0,999.4C1810.2,1000.4 1810.5,1001.3 1810.7,1002.2C1810.9,1003.1 1811.1,1003.9 1811.1,1004.7C1811.1,1005.5 1811.0,1006.2 1810.8,1006.9C1810.6,1007.7 1810.3,1008.5 1810.0,1009.2C1809.7,1009.9 1809.3,1010.5 1808.9,1011.1C1808.4,1011.7 1807.9,1012.3 1807.3,1012.8C1806.7,1013.3 1805.9,1013.8 1805.2,1014.1C1804.6,1014.4 1803.9,1014.5 1803.3,1014.6C1802.6,1014.7 1802.1,1014.6 1801.3,1014.5C1800.6,1014.3 1799.6,1014.0 1798.8,1013.6C1798.1,1013.3 1797.3,1012.9 1796.6,1012.4C1795.9,1011.9 1795.2,1011.3 1794.7,1010.7C1794.1,1010.1 1793.5,1009.4 1793.1,1008.6C1792.7,1007.9 1792.4,1007.1 1792.3,1006.3C1792.2,1005.4 1792.3,1004.6 1792.4,1003.7C1792.6,1002.9 1792.8,1002.1 1793.1,1001.2C1793.5,1000.4 1793.9,999.4 1794.4,998.5C1794.9,997.5 1795.5,996.6 1796.1,995.8C1796.7,995.0 1797.3,994.2 1798.0,993.6C1798.7,992.9 1799.7,992.3 1800.5,991.9C1801.3,991.5 1802.2,991.4 1803.0,991.3Z"/><path d="M1802.5,994.4C1803.2,994.4 1803.9,994.5 1804.5,994.7C1805.1,994.8 1805.5,995.1 1805.9,995.4C1806.3,995.7 1806.7,996.1 1807.0,996.6C1807.3,997.1 1807.4,997.9 1807.6,998.6C1807.7,999.3 1807.8,1000.0 1808.0,1000.8C1808.2,1001.5 1808.4,1002.2 1808.5,1002.9C1808.7,1003.6 1808.8,1004.3 1808.9,1004.9C1808.9,1005.5 1808.8,1006.1 1808.6,1006.6C1808.5,1007.2 1808.2,1007.8 1808.0,1008.4C1807.7,1008.9 1807.5,1009.4 1807.1,1009.9C1806.8,1010.4 1806.4,1010.8 1805.9,1011.2C1805.4,1011.6 1804.8,1012.0 1804.3,1012.2C1803.8,1012.4 1803.3,1012.6 1802.8,1012.6C1802.2,1012.7 1801.8,1012.7 1801.2,1012.5C1800.6,1012.4 1799.9,1012.2 1799.3,1011.9C1798.6,1011.6 1798.1,1011.3 1797.5,1010.9C1797.0,1010.5 1796.4,1010.1 1796.0,1009.6C1795.5,1009.1 1795.1,1008.5 1794.8,1008.0C1794.5,1007.4 1794.2,1006.7 1794.1,1006.1C1794.0,1005.5 1794.1,1004.8 1794.2,1004.1C1794.4,1003.5 1794.5,1002.9 1794.8,1002.2C1795.0,1001.5 1795.4,1000.7 1795.8,1000.0C1796.2,999.3 1796.6,998.6 1797.1,997.9C1797.6,997.3 1798.0,996.7 1798.6,996.2C1799.2,995.7 1799.9,995.2 1800.6,994.9C1801.2,994.6 1801.9,994.5 1802.5,994.4Z"/><path d="M1802.1,997.5C1802.5,997.5 1803.1,997.6 1803.5,997.7C1803.9,997.8 1804.2,998.0 1804.5,998.2C1804.8,998.5 1805.1,998.7 1805.3,999.1C1805.5,999.5 1805.6,1000.0 1805.7,1000.5C1805.8,1001.0 1805.9,1001.6 1806.0,1002.1C1806.1,1002.6 1806.3,1003.2 1806.4,1003.7C1806.5,1004.2 1806.6,1004.6 1806.6,1005.1C1806.6,1005.5 1806.6,1005.9 1806.5,1006.3C1806.4,1006.8 1806.2,1007.2 1806.0,1007.6C1805.8,1008.0 1805.6,1008.4 1805.4,1008.7C1805.1,1009.1 1804.8,1009.4 1804.5,1009.7C1804.2,1009.9 1803.7,1010.2 1803.3,1010.4C1802.9,1010.5 1802.6,1010.6 1802.2,1010.7C1801.8,1010.7 1801.5,1010.7 1801.1,1010.6C1800.7,1010.5 1800.1,1010.3 1799.7,1010.1C1799.2,1009.9 1798.8,1009.7 1798.4,1009.4C1798.0,1009.1 1797.7,1008.8 1797.3,1008.5C1797.0,1008.1 1796.7,1007.7 1796.5,1007.3C1796.2,1006.9 1796.0,1006.4 1796.0,1006.0C1795.9,1005.5 1796.0,1005.0 1796.1,1004.5C1796.1,1004.1 1796.3,1003.6 1796.5,1003.1C1796.6,1002.6 1796.9,1002.0 1797.2,1001.5C1797.4,1001.0 1797.8,1000.5 1798.1,1000.0C1798.5,999.6 1798.8,999.1 1799.2,998.8C1799.6,998.4 1800.2,998.0 1800.6,997.8C1801.1,997.6 1801.6,997.5 1802.1,997.5Z"/></g>
<rect x="1842.7" y="917.6" width="125.5" height="133" fill="none" stroke="#111" stroke-width="1.4"/>
<text x="1905.8999999999999" y="876.3" text-anchor="middle" font-size="18.6" fill="#111">HA<tspan dy="-6" font-size="13">+</tspan><tspan dy="6">MHCII</tspan><tspan dy="-6" font-size="13">+</tspan><tspan dy="6"> DCs</tspan></text>
<text x="1902.8999999999999" y="909" text-anchor="middle" font-size="18.6" fill="#111">3.86</text>
<g fill="#000"><rect x="1769.0" y="935.6" width="4.0" height="4.0"/><rect x="1771.3" y="936.3" width="4.0" height="4.0"/><rect x="1780.9" y="935.6" width="4.0" height="4.0"/><rect x="1780.9" y="940.4" width="4.0" height="4.0"/><rect x="1801.8" y="937.9" width="4.0" height="4.0"/><rect x="1806.0" y="939.5" width="4.0" height="4.0"/><rect x="1799.6" y="941.4" width="4.0" height="4.0"/><rect x="1814.7" y="936.3" width="4.0" height="4.0"/><rect x="1818.6" y="934.0" width="4.0" height="4.0"/><rect x="1821.1" y="940.4" width="4.0" height="4.0"/><rect x="1826.0" y="937.9" width="4.0" height="4.0"/><rect x="1829.8" y="934.0" width="4.0" height="4.0"/><rect x="1831.7" y="938.8" width="4.0" height="4.0"/><rect x="1834.0" y="943.6" width="4.0" height="4.0"/><rect x="1835.6" y="946.9" width="4.0" height="4.0"/><rect x="1845.9" y="938.8" width="4.0" height="4.0"/><rect x="1842.7" y="945.3" width="4.0" height="4.0"/><rect x="1843.6" y="954.9" width="4.0" height="4.0"/><rect x="1784.1" y="950.1" width="4.0" height="4.0"/><rect x="1777.1" y="952.3" width="4.0" height="4.0"/><rect x="1764.2" y="971.0" width="4.0" height="4.0"/><rect x="1760.0" y="972.0" width="4.0" height="4.0"/><rect x="1752.9" y="982.9" width="4.0" height="4.0"/><rect x="1760.0" y="992.5" width="4.0" height="4.0"/><rect x="1752.9" y="999.9" width="4.0" height="4.0"/><rect x="1755.2" y="1011.2" width="4.0" height="4.0"/><rect x="1757.8" y="1011.2" width="4.0" height="4.0"/><rect x="1771.9" y="1041.1" width="4.0" height="4.0"/><rect x="1774.5" y="1045.0" width="4.0" height="4.0"/><rect x="1780.9" y="1040.8" width="4.0" height="4.0"/><rect x="1782.5" y="1040.1" width="4.0" height="4.0"/><rect x="1789.9" y="1048.2" width="4.0" height="4.0"/><rect x="1793.8" y="1045.0" width="4.0" height="4.0"/><rect x="1809.9" y="1047.2" width="4.0" height="4.0"/><rect x="1823.7" y="1049.1" width="4.0" height="4.0"/><rect x="1826.6" y="1045.9" width="4.0" height="4.0"/><rect x="1841.4" y="1045.6" width="4.0" height="4.0"/><rect x="1837.9" y="1034.4" width="4.0" height="4.0"/><rect x="1840.4" y="1033.1" width="4.0" height="4.0"/><rect x="1844.3" y="1030.5" width="4.0" height="4.0"/><rect x="1850.7" y="1024.1" width="4.0" height="4.0"/><rect x="1852.7" y="1025.7" width="4.0" height="4.0"/><rect x="1855.5" y="1018.3" width="4.0" height="4.0"/><rect x="1867.8" y="945.9" width="4.0" height="4.0"/><rect x="1868.4" y="952.3" width="4.0" height="4.0"/><rect x="1863.9" y="957.2" width="4.0" height="4.0"/><rect x="1859.1" y="957.2" width="4.0" height="4.0"/><rect x="1851.7" y="954.9" width="4.0" height="4.0"/><rect x="1845.9" y="955.5" width="4.0" height="4.0"/><rect x="1860.7" y="964.6" width="4.0" height="4.0"/><rect x="1855.5" y="967.8" width="4.0" height="4.0"/><rect x="1848.5" y="972.0" width="4.0" height="4.0"/><rect x="1874.2" y="960.4" width="4.0" height="4.0"/><rect x="1882.6" y="968.7" width="4.0" height="4.0"/><rect x="1854.3" y="978.1" width="4.0" height="4.0"/><rect x="1845.3" y="980.6" width="4.0" height="4.0"/><rect x="1847.5" y="982.2" width="4.0" height="4.0"/><rect x="1856.5" y="982.9" width="4.0" height="4.0"/><rect x="1846.2" y="987.7" width="4.0" height="4.0"/><rect x="1850.7" y="990.3" width="4.0" height="4.0"/><rect x="1857.2" y="990.3" width="4.0" height="4.0"/><rect x="1858.1" y="992.9" width="4.0" height="4.0"/><rect x="1862.9" y="988.7" width="4.0" height="4.0"/><rect x="1860.7" y="996.7" width="4.0" height="4.0"/><rect x="1849.4" y="999.0" width="4.0" height="4.0"/><rect x="1860.7" y="1003.8" width="4.0" height="4.0"/><rect x="1890.9" y="989.3" width="4.0" height="4.0"/><rect x="1890.9" y="1000.6" width="4.0" height="4.0"/><rect x="1900.6" y="1005.7" width="4.0" height="4.0"/><rect x="1911.8" y="936.6" width="4.0" height="4.0"/></g>
</svg>
</body></html>
